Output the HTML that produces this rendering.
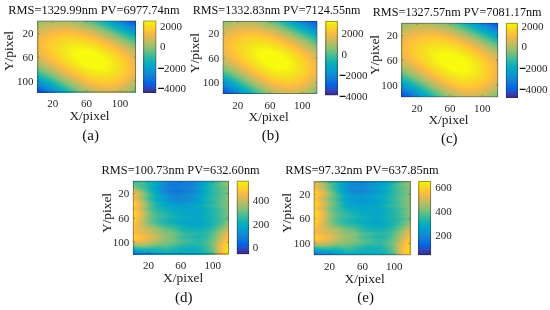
<!DOCTYPE html>
<html><head><meta charset="utf-8"><title>Figure</title>
<style>
html,body{margin:0;padding:0;background:#fff}
#fig{position:relative;width:550px;height:310px;overflow:hidden;background:#fff;font-family:"Liberation Serif",serif}
.hm{position:absolute;display:flex;flex-direction:column}
.hm i{display:block;flex:1 1 0;min-height:0}
.cb{position:absolute}
svg{position:absolute;left:0;top:0}
text{font-family:"Liberation Serif",serif;fill:#262626}
.ti{font-size:12.40px;fill:#111}
.tk{font-size:11.00px}
.lb{font-size:13.40px;fill:#1a1a1a}
.pn{font-size:15.00px;fill:#111}
.mn{font-weight:bold;fill:#000;stroke:#000;stroke-width:.7}
.bx{fill:none;stroke:#262626;stroke-opacity:.45;stroke-width:1}
</style></head><body><div id="fig">

<div class="hm" style="left:37.30px;top:20.50px;width:98.70px;height:71.90px"><i style="background:linear-gradient(90deg,#8abf76,#91bf73,#98bf70,#9ebe6e,#a3be6c,#a7be6a,#aabe69,#acbe68,#adbe67,#aebe67,#adbe67,#acbe68,#a9be69,#a6be6b,#a1be6c,#9bbf6f,#94bf72,#8bbf75,#81bf7a,#75bf7f,#67be85,#58bd8c,#49bb94,#39b99d,#2bb6a6,#1eb3ae,#12afb7,#09abbf,#06a7c6,#06a1cc,#089ad0,#0e91d2,#1388d3,#1480d6,#117ada,#0a73dd,#046ce0,#0364e1,#1559da,#284dca)"></i><i style="background:linear-gradient(90deg,#93bf72,#9abf6f,#a0be6d,#a6be6b,#abbe69,#afbe67,#b2bd66,#b4bd65,#b6bd64,#b6bd64,#b6bd64,#b4bd65,#b2bd66,#afbe67,#aabe69,#a5be6b,#9ebe6d,#96bf71,#8dbf75,#82bf79,#75bf7e,#67be85,#57bd8c,#47bb95,#37b99e,#29b6a7,#1bb2b0,#10afb8,#08aac0,#06a5c8,#06a0cd,#0998d1,#0f8fd2,#1487d3,#137fd7,#1079da,#0a72de,#036be0,#0364e1,#1459db)"></i><i style="background:linear-gradient(90deg,#9bbf6f,#a2be6c,#a8be6a,#adbe67,#b2bd66,#b6bd64,#b9bd63,#bcbd62,#bdbc61,#bebc61,#bebc61,#bdbd61,#bbbd62,#b8bd63,#b4bd65,#afbe67,#a8be69,#a1be6c,#98bf70,#8ebf74,#83bf79,#75bf7e,#66be85,#55bd8d,#45bb96,#35b8a0,#26b5a9,#19b2b2,#0eaeba,#07a9c2,#06a4c9,#069ece,#0a97d1,#118ed2,#1485d4,#137ed7,#0f78db,#0972de,#036be0,#0364e1)"></i><i style="background:linear-gradient(90deg,#a3be6c,#a9be69,#afbe67,#b5bd65,#babd63,#bebc61,#c1bc60,#c3bc5f,#c5bc5e,#c6bc5e,#c6bc5e,#c5bc5e,#c3bc5f,#c0bc60,#bdbd61,#b8bd63,#b2bd66,#abbe68,#a3be6c,#9abf6f,#8fbf74,#83bf79,#75bf7f,#65be86,#53bd8e,#42bb98,#32b8a1,#24b5aa,#17b1b3,#0cadbc,#06a9c3,#06a3ca,#079dcf,#0b95d2,#118cd2,#1484d4,#137ed7,#0f77db,#0971de,#036be0)"></i><i style="background:linear-gradient(90deg,#aabe69,#b1bd66,#b7bd64,#bcbd62,#c1bc60,#c5bc5e,#c8bc5d,#cabb5c,#ccbb5b,#cdbb5b,#cdbb5b,#cdbb5b,#cbbb5b,#c9bc5c,#c5bc5e,#c1bc60,#bcbd62,#b5bd64,#aebe67,#a5be6b,#9bbf6f,#90bf73,#82bf79,#74bf7f,#63be87,#51bd8f,#40ba99,#30b7a3,#21b4ac,#15b0b5,#0aacbd,#06a8c5,#06a2cb,#079cd0,#0c94d2,#128bd2,#1484d4,#137dd8,#0f77db,#0972de)"></i><i style="background:linear-gradient(90deg,#b1bd66,#b8bd63,#bdbc61,#c3bc5f,#c7bc5d,#cbbb5b,#cfbb5a,#d1bb59,#d3bb58,#d5bb58,#d5ba57,#d4bb58,#d3bb58,#d1bb59,#cebb5a,#cabb5c,#c5bc5e,#bfbc61,#b8bd63,#afbe67,#a6be6a,#9cbf6f,#90bf73,#82bf79,#72bf80,#61be88,#4fbc91,#3dba9a,#2db7a4,#1fb3ae,#13b0b6,#09abbe,#06a7c6,#06a1cc,#089bd0,#0d93d2,#128ad3,#1483d5,#137dd8,#0f78db)"></i><i style="background:linear-gradient(90deg,#b8bd63,#bebc61,#c4bc5f,#c9bc5c,#cebb5a,#d2bb59,#d5ba57,#d8ba56,#daba55,#dbba55,#dcba54,#dcba54,#dbba55,#d9ba56,#d6ba57,#d2bb59,#cdbb5b,#c8bc5d,#c1bc60,#babd63,#b1bd66,#a7be6a,#9cbf6e,#8fbf74,#81bf7a,#71bf80,#5fbe89,#4cbc92,#3bb99c,#2bb6a6,#1db3af,#11afb8,#08abc0,#06a6c7,#06a1cd,#089ad0,#0d92d2,#138ad3,#1483d5,#137dd7)"></i><i style="background:linear-gradient(90deg,#bebc61,#c4bc5e,#cabb5c,#cfbb5a,#d4bb58,#d8ba56,#dcba54,#dfba53,#e1ba52,#e2b951,#e3b951,#e3b951,#e2b952,#e0ba52,#deba54,#daba55,#d6ba57,#d1bb59,#cabb5c,#c3bc5f,#bbbd62,#b2bd66,#a7be6a,#9cbf6f,#8ebf74,#7fbf7a,#6fbf81,#5cbe8a,#4abc94,#38b99e,#29b6a7,#1bb2b0,#0faeb9,#08aac1,#06a5c8,#06a0cd,#0899d1,#0e91d2,#138ad3,#1483d5)"></i><i style="background:linear-gradient(90deg,#c4bc5e,#cabb5c,#d0bb5a,#d5ba57,#daba55,#deba53,#e2b952,#e5b950,#e7b94f,#e9b94e,#eab94e,#eab94e,#e9b94e,#e8b94f,#e5b950,#e2b951,#deba53,#d9ba56,#d3bb58,#ccbb5b,#c5bc5e,#bcbd62,#b2bd66,#a7be6a,#9bbf6f,#8dbf74,#7ebf7b,#6cbf82,#5abd8b,#47bb95,#36b99f,#26b5a9,#19b2b2,#0eaeba,#07a9c2,#06a5c8,#069fce,#0899d1,#0e91d2,#138ad3)"></i><i style="background:linear-gradient(90deg,#cabb5c,#d0bb5a,#d5ba57,#daba55,#dfba53,#e4b951,#e7b94f,#ebb94d,#edb94c,#efb94b,#f0b94a,#f0b94a,#f0b94a,#efb94b,#edb94c,#eab94e,#e6b950,#e1b952,#dcba54,#d5ba57,#cebb5a,#c6bc5e,#bdbd61,#b2bd66,#a7be6a,#9abf6f,#8cbf75,#7cbf7c,#6abe84,#57bd8d,#44bb97,#33b8a1,#24b5aa,#17b1b3,#0cadbb,#07a9c3,#06a4c9,#069fce,#0999d1,#0e91d2)"></i><i style="background:linear-gradient(90deg,#cfbb5a,#d5ba57,#daba55,#e0ba53,#e5b950,#e9b94e,#edb94c,#f0b94a,#f3b948,#f5ba47,#f6ba46,#f6ba45,#f6ba46,#f5ba46,#f4ba48,#f1b949,#eeb94b,#e9b94e,#e4b950,#deba53,#d7ba56,#cfbb5a,#c7bc5d,#bdbd61,#b2bd66,#a6be6a,#99bf70,#8abf76,#79bf7d,#67be85,#54bd8e,#41ba98,#31b8a2,#22b4ac,#15b1b4,#0badbc,#06a9c3,#06a4c9,#069fce,#0899d1)"></i><i style="background:linear-gradient(90deg,#d4bb58,#daba55,#dfba53,#e5b950,#eab94e,#eeb94b,#f2b949,#f5ba46,#f8ba44,#fabb42,#fbbc41,#fbbc40,#fbbc40,#fbbc41,#fabb42,#f8ba44,#f5ba47,#f1b949,#ecb94c,#e7b94f,#e0ba53,#d8ba56,#d0bb59,#c7bc5d,#bdbd61,#b1bd66,#a5be6b,#97bf70,#88bf77,#77bf7e,#64be86,#51bc90,#3fba9a,#2eb7a4,#20b4ad,#14b0b5,#0bacbd,#06a8c4,#06a4ca,#069fce)"></i><i style="background:linear-gradient(90deg,#d8ba56,#deba53,#e4b951,#e9b94e,#eeb94b,#f3ba48,#f7ba45,#fabb42,#fcbd40,#fdbe3e,#febf3c,#fec03c,#fec03b,#febf3c,#febf3d,#fdbd3e,#fbbc41,#f8ba44,#f4ba47,#efb94b,#e8b94e,#e1b952,#d9ba56,#d0bb59,#c7bc5d,#bcbd62,#b0bd66,#a3be6b,#95bf71,#86bf78,#74bf7f,#61be87,#4ebc91,#3cba9b,#2cb7a5,#1eb3ae,#13b0b6,#0aacbe,#06a8c4,#06a4ca)"></i><i style="background:linear-gradient(90deg,#dcba54,#e2b951,#e8b94f,#eeb94c,#f3b948,#f7ba45,#fabc41,#fdbe3e,#febf3c,#fec13a,#ffc238,#ffc337,#ffc437,#ffc337,#ffc338,#fec239,#fec03b,#fdbe3e,#fabc42,#f6ba46,#f1b94a,#eab94e,#e2b952,#daba55,#d0bb59,#c6bc5e,#bbbd62,#afbe67,#a2be6c,#93bf72,#83bf79,#71bf80,#5ebe89,#4bbc93,#3ab99d,#2ab6a6,#1db3af,#12afb7,#0aacbe,#06a8c4)"></i><i style="background:linear-gradient(90deg,#e0ba52,#e6b950,#ecb94c,#f2b949,#f6ba45,#fabc42,#fdbe3e,#fec03b,#ffc338,#ffc436,#fec635,#fec734,#fec733,#fec733,#fec734,#fec635,#ffc436,#fec238,#febf3c,#fcbd40,#f8ba44,#f2b949,#ebb94d,#e3b951,#daba55,#d0bb5a,#c5bc5e,#babd63,#adbe68,#a0be6d,#91bf73,#80bf7a,#6ebf81,#5bbd8a,#48bb94,#37b99e,#29b6a7,#1cb3b0,#11afb7,#09acbe)"></i><i style="background:linear-gradient(90deg,#e3b951,#eab94e,#efb94a,#f5ba47,#f9bb42,#fdbe3e,#fec03a,#ffc337,#fec635,#fec833,#fec932,#fdca31,#fdcb30,#fdcb30,#fdcb30,#fdca31,#fec932,#fec734,#ffc436,#fec13a,#fdbe3e,#f9bb43,#f3b948,#ebb94d,#e3b951,#d9ba56,#cfbb5a,#c4bc5e,#b8bd63,#abbe68,#9dbe6e,#8ebf74,#7dbf7b,#6bbe83,#58bd8c,#46bb96,#35b89f,#27b5a8,#1bb2b0,#11afb8)"></i><i style="background:linear-gradient(90deg,#e7b94f,#edb94c,#f3b948,#f8ba44,#fcbd40,#fec03b,#ffc338,#fec635,#fec832,#fdcb30,#fccc2f,#fcce2e,#fcce2d,#fbcf2d,#fccf2d,#fcce2e,#fccd2f,#fdcb30,#fec932,#fec635,#ffc238,#febf3d,#fabb42,#f3ba48,#ebb94d,#e2b951,#d8ba56,#cebb5a,#c3bc5f,#b6bd64,#a9be69,#9bbf6f,#8bbf75,#7abf7c,#68be84,#55bd8e,#43bb97,#33b8a0,#26b5a9,#1ab2b1)"></i><i style="background:linear-gradient(90deg,#e9b94e,#f0b94a,#f5ba46,#fabc42,#febe3d,#fec239,#fec535,#fec832,#fdcb30,#fccd2e,#fbcf2d,#fbd12b,#fad22b,#fad22a,#fad22a,#fad22b,#fbd12b,#fbcf2d,#fccd2e,#fdca31,#fec733,#ffc337,#febf3c,#fabc42,#f3ba48,#ebb94d,#e1b952,#d7ba56,#ccbb5b,#c1bc60,#b4bd65,#a7be6a,#98bf70,#88bf76,#77bf7e,#65be86,#52bd8f,#41ba98,#32b8a2,#25b5aa)"></i><i style="background:linear-gradient(90deg,#ecb94d,#f2b949,#f8ba44,#fcbd3f,#fec03b,#ffc437,#fec733,#fdcb30,#fccd2e,#fbd02c,#fad22a,#f9d429,#f9d528,#f8d628,#f8d628,#f9d528,#f9d528,#fad32a,#fad12b,#fbcf2d,#fdcc2f,#fec832,#ffc436,#fec03b,#fabc42,#f3ba48,#eab94e,#e0ba52,#d6ba57,#cbbb5c,#bfbc61,#b2bd66,#a4be6b,#95bf71,#85bf78,#74bf7f,#61be87,#4fbc91,#3fba9a,#30b7a2)"></i><i style="background:linear-gradient(90deg,#eeb94b,#f4ba47,#f9bb43,#fdbe3d,#fec239,#fec635,#fec931,#fccd2f,#fbd02c,#fad22a,#f9d428,#f8d627,#f8d826,#f7d925,#f7d925,#f7d925,#f7d826,#f8d727,#f9d528,#fad32a,#fbd02c,#fccd2f,#fec932,#ffc436,#fec03b,#fabc42,#f2b949,#e9b94e,#dfba53,#d4bb58,#c8bc5d,#bcbd62,#afbe67,#a1be6c,#92bf72,#82bf79,#70bf80,#5ebe89,#4dbc92,#3dba9b)"></i><i style="background:linear-gradient(90deg,#efb94a,#f5ba46,#fabc41,#febf3c,#ffc337,#fec733,#fdcb30,#fcce2d,#fad12b,#f9d429,#f8d727,#f7d925,#f7db24,#f6dc23,#f6dc23,#f6dc23,#f6dc23,#f6db24,#f7d925,#f8d727,#f9d429,#fad12b,#fccd2e,#fec932,#ffc436,#febf3c,#f9bb43,#f1b949,#e7b94f,#ddba54,#d2bb59,#c6bc5e,#b9bd63,#acbe68,#9ebe6e,#8fbf74,#7ebf7b,#6dbf82,#5bbd8a,#4abc93)"></i><i style="background:linear-gradient(90deg,#f1b94a,#f7ba45,#fbbd40,#fec03b,#ffc436,#fec832,#fccc2f,#fbd02c,#f9d329,#f8d627,#f7d925,#f6db23,#f6dd22,#f5df21,#f5df20,#f5e020,#f5df20,#f5de21,#f6dd22,#f6db24,#f7d826,#f9d528,#fad22b,#fcce2e,#fec932,#ffc436,#febf3c,#f8bb44,#f0b94a,#e5b950,#dbba55,#cfbb5a,#c3bc5f,#b6bd64,#a9be69,#9bbf6f,#8bbf75,#7bbf7c,#69be84,#58bd8c)"></i><i style="background:linear-gradient(90deg,#f1b949,#f8ba45,#fcbd3f,#fec13a,#fec535,#fdca31,#fcce2e,#fad12b,#f9d528,#f7d826,#f6db24,#f6dd22,#f5e020,#f5e11f,#f5e21e,#f5e31e,#f5e31e,#f5e21e,#f5e11f,#f5df21,#f6dc23,#f7d925,#f8d627,#fad22a,#fcce2e,#fec932,#ffc437,#fdbe3d,#f7ba45,#eeb94c,#e3b951,#d8ba56,#ccbb5b,#c0bc60,#b3bd65,#a5be6b,#97bf70,#87bf77,#77bf7e,#66be85)"></i><i style="background:linear-gradient(90deg,#f2b949,#f8ba44,#fdbe3e,#fec239,#fec634,#fdca31,#fcce2d,#fad22a,#f8d627,#f7d925,#f6dd22,#f5df20,#f5e21e,#f5e41d,#f5e51c,#f5e61b,#f5e61b,#f5e61c,#f5e51d,#f5e31e,#f5e020,#f6dd22,#f7da24,#f8d627,#fad22a,#fccd2e,#fec832,#ffc338,#fcbd3f,#f5ba47,#ebb94d,#e0ba52,#d5ba57,#c9bc5c,#bdbd61,#b0be67,#a2be6c,#93bf72,#84bf78,#73bf7f)"></i><i style="background:linear-gradient(90deg,#f2b949,#f8bb44,#fdbe3e,#fec239,#fec634,#fdcb30,#fbcf2d,#fad329,#f8d727,#f7db24,#f5de21,#f5e11f,#f5e41d,#f5e61b,#f5e81a,#f5e919,#f5ea19,#f5e919,#f5e81a,#f5e71b,#f5e41d,#f5e21f,#f5de21,#f7da24,#f8d627,#fad22b,#fccd2f,#fec733,#fec239,#fbbc41,#f3b948,#e8b94e,#ddba54,#d2bb59,#c6bc5e,#b9bd63,#acbe68,#9ebe6e,#8fbf74,#80bf7a)"></i><i style="background:linear-gradient(90deg,#f2b949,#f8ba44,#fdbe3e,#fec239,#fec734,#fdcb30,#fbd02c,#f9d429,#f7d826,#f6dc23,#f5df20,#f5e31e,#f5e61c,#f5e91a,#f5eb19,#f5ec18,#f5ed17,#f5ed17,#f5ec18,#f5eb19,#f5e81a,#f5e61c,#f5e21e,#f5de21,#f7da24,#f8d627,#fad12b,#fdcc2f,#fec634,#fec03b,#f9bb43,#f0b94a,#e5b950,#daba55,#cebb5a,#c2bc5f,#b5bd64,#a8be6a,#9abf6f,#8bbf75)"></i><i style="background:linear-gradient(90deg,#f1b949,#f8ba45,#fcbd3f,#fec239,#fec734,#fdcb30,#fbd02c,#f9d429,#f7d826,#f6dc23,#f5e020,#f5e41d,#f5e81b,#f5ea19,#f5ed17,#f6ef16,#f6f015,#f6f015,#f6f015,#f5ee16,#f5ec17,#f5ea19,#f5e61b,#f5e31e,#f5de21,#f7da24,#f9d528,#fbd02c,#fdca31,#ffc436,#fdbe3d,#f7ba45,#edb94c,#e2b952,#d6ba57,#cabb5c,#bebc61,#b1bd66,#a3be6c,#95bf71)"></i><i style="background:linear-gradient(90deg,#f0b94a,#f7ba45,#fcbd3f,#fec139,#fec634,#fdcb30,#fbd02c,#f9d429,#f7d925,#f6dd22,#f5e11f,#f5e51c,#f5e91a,#f5ec18,#f6ef16,#f6f114,#f6f213,#f6f313,#f6f313,#f6f214,#f6f015,#f5ee17,#f5ea19,#f5e71b,#f5e21e,#f6de22,#f7d925,#f9d429,#fcce2d,#fec932,#ffc338,#fcbd40,#f3ba48,#e9b94e,#deba54,#d2bb59,#c6bc5e,#b9bd63,#acbe68,#9ebe6d)"></i><i style="background:linear-gradient(90deg,#eeb94b,#f5ba46,#fbbc40,#fec13a,#fec635,#fdcb30,#fbcf2c,#f9d429,#f7d925,#f6dd22,#f5e21f,#f5e61c,#f5ea19,#f5ed17,#f6f015,#f6f313,#f7f512,#f7f611,#f7f611,#f7f512,#f7f413,#f6f114,#f5ee16,#f5ea19,#f5e61b,#f5e21f,#f6dd22,#f8d826,#fad22a,#fccd2f,#fec734,#fec03b,#f9bb43,#f0b94a,#e5b950,#d9ba56,#cdbb5b,#c1bc60,#b4bd65,#a7be6a)"></i><i style="background:linear-gradient(90deg,#edb94c,#f4ba47,#fabc42,#fec03b,#fec536,#fdca31,#fbcf2d,#f9d429,#f7d826,#f6dd22,#f5e21f,#f5e61c,#f5ea19,#f5ee16,#f6f214,#f7f512,#f8f710,#f8f810,#f8f80f,#f8f80f,#f8f710,#f7f512,#f6f214,#f5ee16,#f5ea19,#f5e51c,#f5e120,#f6db23,#f8d627,#fbd02c,#fdcb30,#ffc436,#fdbe3e,#f6ba46,#ebb94d,#e0ba53,#d4bb58,#c8bc5d,#bcbd62,#afbe67)"></i><i style="background:linear-gradient(90deg,#eab94d,#f2b949,#f9bb43,#febf3d,#ffc437,#fec932,#fcce2e,#fad32a,#f7d826,#f6dd22,#f5e11f,#f5e61b,#f5eb18,#f6ef16,#f6f313,#f7f611,#f8f80f,#f9fa0e,#f9fb0e,#f9fb0e,#f9fa0e,#f8f810,#f7f511,#f6f214,#f5ee16,#f5e919,#f5e41d,#f5df21,#f7da25,#f9d429,#fcce2d,#fec832,#fec239,#fabc41,#f1b949,#e6b94f,#dbba55,#cfbb5a,#c3bc5f,#b6bd64)"></i><i style="background:linear-gradient(90deg,#e7b94f,#efb94b,#f7ba45,#fcbd3f,#ffc238,#fec833,#fccd2e,#fad22a,#f8d727,#f6dc23,#f5e11f,#f5e61c,#f5eb18,#f6ef15,#f7f313,#f8f710,#f9fa0e,#f9fb0e,#f9fb0e,#f9fb0e,#f9fb0e,#f9fb0e,#f8f90f,#f7f511,#f6f114,#f5ed17,#f5e81a,#f5e21e,#f6dd22,#f8d726,#fad22b,#fdcc2f,#fec535,#febf3c,#f7ba45,#ecb94c,#e1b952,#d5ba57,#c9bb5c,#bdbd61)"></i><i style="background:linear-gradient(90deg,#e4b950,#ecb94c,#f4ba47,#fbbc41,#fec13a,#fec634,#fdcc30,#fbd12b,#f8d627,#f6db24,#f5e020,#f5e51c,#f5ea19,#f6ef16,#f7f313,#f8f710,#f9fa0e,#f9fb0e,#f9fb0e,#f9fb0e,#f9fb0e,#f9fb0e,#f9fb0e,#f8f80f,#f7f512,#f6f015,#f5eb18,#f5e61c,#f5e020,#f7db24,#f9d528,#fbcf2d,#fec932,#fec238,#fbbc41,#f2b949,#e7b94f,#dbba55,#cfbb5a,#c3bc5f)"></i><i style="background:linear-gradient(90deg,#e1ba52,#e9b94e,#f1b94a,#f9bb44,#febf3c,#ffc436,#fdca31,#fbcf2c,#f9d528,#f7da24,#f5df21,#f5e41d,#f5ea19,#f6ef16,#f7f313,#f8f710,#f9fb0e,#f9fb0e,#f9fb0e,#f9fb0e,#f9fb0e,#f9fb0e,#f9fb0e,#f9fb0e,#f8f810,#f7f313,#f5ee16,#f5e91a,#f5e31d,#f6de22,#f7d826,#fad22a,#fdcc2f,#fec535,#febf3d,#f7ba45,#ecb94c,#e1ba52,#d5ba57,#c9bc5c)"></i><i style="background:linear-gradient(90deg,#ddba54,#e5b950,#edb94c,#f6ba46,#fcbd3f,#ffc238,#fec833,#fcce2e,#fad32a,#f7d826,#f6de22,#f5e31e,#f5e91a,#f5ee16,#f6f313,#f8f710,#f9fb0e,#f9fb0e,#f9fb0e,#f9fb0e,#f9fb0e,#f9fb0e,#f9fb0e,#f9fb0e,#f9fa0e,#f8f611,#f6f114,#f5ec18,#f5e61b,#f5e11f,#f6db24,#f9d528,#fbcf2d,#fec832,#fec239,#fabc41,#f1b94a,#e6b950,#daba55,#cebb5a)"></i><i style="background:linear-gradient(90deg,#d8ba56,#e0ba52,#e9b94e,#f2b949,#fabb42,#fec03b,#fec635,#fdcc2f,#fad12b,#f8d727,#f6dc23,#f5e21f,#f5e71b,#f5ed17,#f6f214,#f8f711,#f9fb0e,#f9fb0e,#f9fb0e,#f9fb0e,#f9fb0e,#f9fb0e,#f9fb0e,#f9fb0e,#f9fb0e,#f8f90f,#f7f412,#f6ef16,#f5e919,#f5e31d,#f6dd22,#f8d726,#fad12b,#fdcb30,#ffc436,#fdbe3e,#f5ba46,#eab94d,#dfba53,#d3bb58)"></i><i style="background:linear-gradient(90deg,#d3bb58,#dcba54,#e5b950,#eeb94b,#f6ba45,#fdbe3e,#ffc337,#fec931,#fbcf2d,#f9d528,#f7da24,#f5e020,#f5e51c,#f5eb18,#f6f015,#f7f511,#f9fa0e,#f9fb0e,#f9fb0e,#f9fb0e,#f9fb0e,#f9fb0e,#f9fb0e,#f9fb0e,#f9fb0e,#f9fb0e,#f8f611,#f6f114,#f5ec18,#f5e61c,#f5e020,#f7da24,#f9d429,#fcce2e,#fec733,#fec03b,#f9bb43,#eeb94b,#e3b951,#d7ba56)"></i><i style="background:linear-gradient(90deg,#cebb5a,#d7ba57,#e0ba53,#e9b94e,#f2b949,#fabc42,#fec13a,#fec734,#fccd2e,#fad32a,#f7d826,#f6de22,#f5e31d,#f5e919,#f6ef16,#f7f412,#f8f90f,#f9fb0e,#f9fb0e,#f9fb0e,#f9fb0e,#f9fb0e,#f9fb0e,#f9fb0e,#f9fb0e,#f9fb0e,#f8f80f,#f7f313,#f5ee16,#f5e81a,#f5e21e,#f6dc23,#f8d627,#fbd02c,#fec931,#ffc338,#fbbc40,#f2b949,#e7b94f,#dbba55)"></i><i style="background:linear-gradient(90deg,#c8bc5d,#d1bb59,#daba55,#e4b951,#edb94c,#f7ba45,#fdbe3d,#ffc436,#fdca31,#fbd02c,#f8d627,#f6dc23,#f5e11f,#f5e71b,#f5ed17,#f6f214,#f8f710,#f9fb0e,#f9fb0e,#f9fb0e,#f9fb0e,#f9fb0e,#f9fb0e,#f9fb0e,#f9fb0e,#f9fb0e,#f9fa0e,#f7f511,#f6f015,#f5ea19,#f5e41d,#f5de21,#f7d826,#fad22b,#fdcb30,#fec536,#fdbe3e,#f5ba46,#eab94e,#deba53)"></i><i style="background:linear-gradient(90deg,#c1bc5f,#cbbb5c,#d4bb58,#deba53,#e8b94f,#f2b949,#fabc42,#fec13a,#fec733,#fccd2e,#f9d329,#f7d925,#f5df21,#f5e51d,#f5ea19,#f6f015,#f7f511,#f9fa0e,#f9fb0e,#f9fb0e,#f9fb0e,#f9fb0e,#f9fb0e,#f9fb0e,#f9fb0e,#f9fb0e,#f9fb0e,#f8f710,#f6f214,#f5ec18,#f5e61c,#f5e020,#f7da25,#f9d429,#fccd2e,#fec734,#fec03b,#f8ba44,#edb94c,#e1b952)"></i><i style="background:linear-gradient(90deg,#babd62,#c4bc5e,#cebb5a,#d8ba56,#e2b951,#edb94c,#f6ba46,#fdbe3d,#ffc436,#fdcb30,#fbd12b,#f8d627,#f6dc23,#f5e21e,#f5e81a,#f5ee16,#f6f313,#f8f810,#f9fb0e,#f9fb0e,#f9fb0e,#f9fb0e,#f9fb0e,#f9fb0e,#f9fb0e,#f9fb0e,#f9fb0e,#f8f810,#f6f313,#f5ed17,#f5e71b,#f5e11f,#f6db24,#f9d528,#fbcf2d,#fec832,#fec13a,#fabb42,#efb94a,#e4b951)"></i><i style="background:linear-gradient(90deg,#b3bd65,#bdbd61,#c7bc5d,#d2bb59,#dcba54,#e7b94f,#f1b94a,#fabc42,#fec13a,#fec733,#fcce2e,#f9d429,#f7d925,#f5df20,#f5e51c,#f5eb18,#f6f015,#f7f611,#f9fa0e,#f9fb0e,#f9fb0e,#f9fb0e,#f9fb0e,#f9fb0e,#f9fb0e,#f9fb0e,#f9fb0e,#f8f80f,#f7f413,#f5ee16,#f5e81a,#f5e21e,#f6dc23,#f8d627,#fbd02c,#fec931,#ffc238,#fbbc41,#f2b949,#e6b950)"></i><i style="background:linear-gradient(90deg,#abbe68,#b5bd64,#c0bc60,#cbbb5c,#d6ba57,#e0ba52,#ebb94d,#f5ba46,#fdbe3e,#ffc436,#fdca30,#fbd12b,#f8d727,#f6dc23,#f5e21e,#f5e81a,#f5ee16,#f6f313,#f8f810,#f9fb0e,#f9fb0e,#f9fb0e,#f9fb0e,#f9fb0e,#f9fb0e,#f9fb0e,#f9fb0e,#f8f90f,#f7f412,#f6ef16,#f5e919,#f5e31e,#f6dd22,#f8d727,#fbd12b,#fdca30,#ffc437,#fcbd3f,#f3ba48,#e8b94f)"></i><i style="background:linear-gradient(90deg,#a2be6c,#adbe68,#b8bd63,#c3bc5f,#cfbb5a,#daba55,#e5b950,#f0b94a,#f9bb43,#fec03a,#fec734,#fccd2e,#f9d329,#f7d925,#f5df21,#f5e51c,#f5ea19,#f6f015,#f7f512,#f8f90f,#f9fb0e,#f9fb0e,#f9fb0e,#f9fb0e,#f9fb0e,#f9fb0e,#f9fb0e,#f8f80f,#f7f412,#f6ef16,#f5ea19,#f5e41d,#f6de22,#f8d826,#fad22b,#fdcb30,#ffc436,#fdbe3e,#f4ba47,#e9b94e)"></i><i style="background:linear-gradient(90deg,#99bf70,#a4be6b,#b0bd67,#bcbd62,#c7bc5d,#d3bb58,#deba53,#e9b94e,#f4ba47,#fcbd3f,#ffc337,#fdca31,#fbd02c,#f8d627,#f6dc23,#f5e21f,#f5e71b,#f5ed17,#f6f214,#f7f611,#f9fa0e,#f9fb0e,#f9fb0e,#f9fb0e,#f9fb0e,#f9fb0e,#f9fb0e,#f8f810,#f7f412,#f6ef16,#f5ea19,#f5e41d,#f5de21,#f7d826,#fad22a,#fdcc2f,#fec536,#fdbe3e,#f5ba47,#eab94e)"></i><i style="background:linear-gradient(90deg,#8ebf74,#9abf6f,#a7be6a,#b3bd65,#bfbc60,#cbbb5c,#d7ba57,#e2b951,#eeb94c,#f8ba44,#fec03c,#fec634,#fccd2f,#fad32a,#f7d825,#f5de21,#f5e41d,#f5e919,#f5ee16,#f6f313,#f8f710,#f9fa0e,#f9fb0e,#f9fb0e,#f9fb0e,#f9fb0e,#f9fa0e,#f8f710,#f7f313,#f5ef16,#f5e919,#f5e41d,#f5de21,#f7d826,#fad22a,#fdcc2f,#fec535,#fdbe3d,#f5ba46,#eab94e)"></i><i style="background:linear-gradient(90deg,#83bf79,#90bf73,#9dbe6e,#aabe69,#b7bd64,#c3bc5f,#cfbb5a,#dbba55,#e7b94f,#f2b949,#fbbc41,#fec238,#fec932,#fbcf2d,#f9d528,#f7db24,#f5e020,#f5e61c,#f5eb18,#f6f015,#f7f313,#f8f710,#f8f90f,#f9fa0e,#f9fb0e,#f9fa0e,#f8f80f,#f7f611,#f6f214,#f5ee16,#f5e91a,#f5e31d,#f6de22,#f7d826,#fad22a,#fdcc2f,#fec535,#fdbe3d,#f5ba46,#eab94e)"></i><i style="background:linear-gradient(90deg,#76bf7e,#84bf78,#92bf72,#a0be6d,#adbe67,#babd62,#c7bc5d,#d3bb58,#dfba53,#ebb94d,#f6ba46,#fdbe3d,#fec536,#fdcb30,#fad12b,#f8d726,#f6dd22,#f5e21e,#f5e71b,#f5ec18,#f6f015,#f7f313,#f7f611,#f8f810,#f8f80f,#f8f810,#f8f611,#f7f412,#f6f115,#f5ed17,#f5e81a,#f5e31e,#f6dd22,#f8d826,#fad22b,#fdcc30,#fec536,#fdbe3d,#f5ba46,#eab94e)"></i><i style="background:linear-gradient(90deg,#69be84,#78bf7d,#87bf77,#95bf71,#a4be6b,#b1bd66,#bfbc61,#cbbb5b,#d8ba56,#e4b951,#efb94b,#f9bb43,#fec13a,#fec733,#fcce2e,#f9d329,#f7d925,#f5de21,#f5e31d,#f5e81a,#f5ec17,#f6f015,#f6f313,#f7f512,#f7f511,#f7f511,#f7f412,#f6f214,#f6ef16,#f5eb18,#f5e71b,#f5e21f,#f6dc23,#f8d727,#fad12b,#fdcb30,#ffc436,#fdbe3e,#f4ba47,#e9b94e)"></i><i style="background:linear-gradient(90deg,#5bbd8b,#6abe83,#7abf7c,#8abf76,#99bf70,#a7be6a,#b5bd64,#c3bc5f,#d0bb5a,#dcba54,#e8b94f,#f3ba48,#fcbd3f,#ffc337,#fdca31,#fbd02c,#f9d528,#f7db24,#f5e020,#f5e41d,#f5e91a,#f5ec17,#f6ef15,#f6f114,#f6f213,#f6f213,#f6f214,#f6f015,#f5ed17,#f5e919,#f5e51c,#f5e020,#f6db23,#f8d627,#fbd02c,#fdca31,#ffc437,#fcbd3f,#f3ba48,#e8b94f)"></i><i style="background:linear-gradient(90deg,#4cbc92,#5cbe8a,#6cbf82,#7dbf7b,#8dbf74,#9dbe6e,#acbe68,#babd63,#c7bc5d,#d4bb58,#e0ba52,#ecb94c,#f7ba45,#febf3c,#fec535,#fdcc2f,#fad12b,#f8d727,#f6dc23,#f5e020,#f5e51d,#f5e81a,#f5eb18,#f5ee16,#f6ef16,#f6ef15,#f6ef16,#f5ed17,#f5eb19,#f5e71b,#f5e31d,#f5df21,#f7da24,#f9d528,#fbcf2d,#fec932,#ffc338,#fbbc40,#f2b949,#e6b950)"></i><i style="background:linear-gradient(90deg,#3eba9a,#4dbc92,#5ebe89,#6fbf81,#81bf7a,#92bf73,#a1be6c,#b0bd66,#bebc61,#ccbb5b,#d8ba56,#e4b950,#f0b94a,#fabb42,#fec13a,#fec733,#fccd2e,#fad32a,#f7d826,#f6dc22,#f5e11f,#f5e41d,#f5e81b,#f5ea19,#f5eb18,#f5ec18,#f5ec18,#f5ea19,#f5e81a,#f5e51c,#f5e11f,#f6dd22,#f7d825,#f9d329,#fcce2e,#fec833,#fec139,#fabc42,#f0b94a,#e4b951)"></i><i style="background:linear-gradient(90deg,#31b8a2,#3fba9a,#4fbc91,#61be88,#73bf7f,#85bf78,#96bf71,#a6be6b,#b5bd65,#c3bc5f,#d0bb5a,#dcba54,#e8b94e,#f4ba48,#fcbd3f,#ffc337,#fec932,#fbcf2d,#f9d429,#f7d925,#f6dd22,#f5e11f,#f5e41d,#f5e61c,#f5e81a,#f5e91a,#f5e81a,#f5e71b,#f5e51c,#f5e31e,#f5df21,#f6db23,#f8d727,#fad22b,#fccc2f,#fec634,#fec03b,#f8bb44,#eeb94c,#e1b952)"></i><i style="background:linear-gradient(90deg,#25b5a9,#32b8a2,#40ba99,#51bd8f,#64be86,#78bf7d,#8abf76,#9bbf6f,#aabe69,#b9bd63,#c7bc5d,#d4bb58,#e1ba52,#ecb94c,#f7ba45,#febf3d,#fec536,#fdcb30,#fbd02c,#f9d528,#f7d925,#f6dd22,#f5e020,#f5e21e,#f5e41d,#f5e51c,#f5e51c,#f5e41d,#f5e21e,#f5e020,#f6dd22,#f7d925,#f9d528,#fbd02c,#fdcb30,#ffc536,#fdbe3d,#f6ba46,#ebb94d,#dfba53)"></i><i style="background:linear-gradient(90deg,#1ab2b1,#25b5a9,#33b8a1,#43bb97,#55bd8d,#69be84,#7dbf7b,#8fbf74,#a0be6d,#afbe67,#bebc61,#cbbb5b,#d8ba56,#e4b950,#f0b94a,#f9bb43,#fec03b,#fec634,#fdcc2f,#fbd12b,#f9d528,#f7d925,#f6dc23,#f5de21,#f5e020,#f5e11f,#f5e21f,#f5e11f,#f5df20,#f6dd22,#f7da24,#f8d727,#fad32a,#fcce2e,#fec932,#ffc338,#fcbd40,#f3ba48,#e8b94f,#dbba55)"></i><i style="background:linear-gradient(90deg,#11afb8,#1bb2b1,#27b5a8,#35b89f,#46bb95,#5abd8b,#6ebf82,#82bf79,#94bf72,#a5be6b,#b4bd65,#c2bc5f,#d0bb5a,#dcba54,#e8b94f,#f3b948,#fbbc40,#fec239,#fec733,#fccc2f,#fbd12b,#f9d528,#f7d826,#f7db24,#f6dd22,#f6de22,#f5de21,#f6de22,#f6dc23,#f7da24,#f8d826,#f9d429,#fbd02c,#fdcc30,#fec634,#fec03b,#f9bb43,#f0b94a,#e4b950,#d8ba56)"></i><i style="background:linear-gradient(90deg,#09acbe,#11afb8,#1bb2b0,#29b6a7,#38b99e,#4abc93,#5fbe89,#74bf7f,#87bf77,#99bf70,#a9be69,#b9bd63,#c7bc5d,#d4bb58,#e0ba53,#ebb94d,#f5ba46,#fcbd3f,#ffc338,#fec832,#fccd2f,#fbd12b,#f9d429,#f8d727,#f7d925,#f7da24,#f7db24,#f7da24,#f7d925,#f8d726,#f9d528,#fad22b,#fcce2e,#fec932,#ffc437,#fdbe3d,#f6ba45,#ecb94c,#e0ba52,#d4bb58)"></i><i style="background:linear-gradient(90deg,#06a8c4,#09acbe,#12afb7,#1db3af,#2bb6a5,#3cba9b,#4fbc90,#65be86,#7abf7d,#8dbf75,#9ebe6d,#aebe67,#bdbd61,#cbbb5c,#d7ba56,#e3b951,#eeb94b,#f7ba45,#fdbe3d,#ffc437,#fec832,#fccd2f,#fbd02c,#fad32a,#f9d528,#f8d627,#f8d727,#f8d727,#f8d627,#f9d429,#fad22b,#fbcf2d,#fdcb30,#fec634,#fec13a,#fbbc41,#f3b948,#e8b94f,#dcba54,#d0bb5a)"></i><i style="background:linear-gradient(90deg,#06a4ca,#06a8c4,#0aacbe,#13b0b6,#20b4ad,#2fb7a3,#41ba99,#55bd8d,#6bbe83,#80bf7a,#93bf72,#a4be6b,#b3bd65,#c1bc5f,#cfbb5a,#dbba55,#e6b950,#f0b94a,#f9bb43,#febf3c,#ffc436,#fec832,#fdcc2f,#fbcf2d,#fad12b,#fad32a,#f9d329,#f9d329,#fad32a,#fad12b,#fbcf2d,#fdcc2f,#fec833,#ffc337,#fdbe3d,#f8ba44,#efb94b,#e4b951,#d8ba56,#cbbb5c)"></i><i style="background:linear-gradient(90deg,#069ece,#06a4ca,#06a8c4,#0bacbd,#15b0b4,#23b4ab,#33b8a1,#46bb96,#5bbe8a,#71bf80,#86bf77,#98bf70,#a9be69,#b8bd63,#c5bc5e,#d2bb59,#deba53,#e9b94e,#f2b949,#fabb42,#febf3c,#ffc437,#fec833,#fdcb30,#fccd2e,#fbcf2d,#fbd02c,#fbd02c,#fbcf2d,#fcce2e,#fdcb30,#fec832,#fec536,#fec03b,#fbbc41,#f4ba48,#eab94e,#dfba53,#d3bb58,#c6bc5e)"></i><i style="background:linear-gradient(90deg,#0998d1,#069ece,#06a4ca,#07a9c3,#0cadbb,#18b1b2,#27b5a9,#38b99e,#4cbc92,#62be87,#78bf7d,#8cbf75,#9dbe6e,#adbe67,#bcbd62,#c9bc5c,#d5ba57,#e0ba52,#ebb94d,#f3ba48,#fabc42,#febf3c,#ffc337,#fec634,#fec932,#fdcb30,#fdcc2f,#fdcc2f,#fdcb30,#fdca31,#fec833,#fec535,#fec139,#fdbd3e,#f7ba45,#efb94b,#e5b950,#daba55,#cebb5a,#c0bc60)"></i><i style="background:linear-gradient(90deg,#0e91d2,#0998d1,#069fce,#06a5c9,#07aac2,#0faeb9,#1bb2b0,#2bb6a6,#3eba9a,#53bd8f,#69be84,#7ebf7a,#92bf73,#a3be6c,#b2bd66,#c0bc60,#cdbb5b,#d8ba56,#e3b951,#ecb94c,#f4ba47,#fabc42,#febf3c,#fec239,#fec536,#fec734,#fec833,#fec832,#fec833,#fec634,#ffc436,#fec239,#fdbe3d,#f9bb43,#f2b949,#eab94e,#e0ba53,#d4bb58,#c8bc5d,#babd62)"></i><i style="background:linear-gradient(90deg,#1389d3,#0e91d2,#0999d1,#06a0cd,#06a6c7,#08abc0,#12afb7,#1fb4ad,#30b7a2,#44bb97,#5abd8b,#70bf81,#85bf78,#97bf70,#a7be6a,#b6bd64,#c3bc5f,#cfbb5a,#daba55,#e4b951,#edb94c,#f4ba47,#fabb42,#fdbe3e,#fec03b,#ffc238,#ffc437,#ffc436,#ffc437,#ffc338,#fec13a,#fdbe3d,#fabc42,#f5ba47,#edb94c,#e4b950,#daba55,#cfbb5a,#c2bc5f,#b4bd65)"></i><i style="background:linear-gradient(90deg,#1482d5,#1389d3,#0e91d2,#089ad0,#06a1cc,#06a7c6,#0aacbe,#15b1b4,#24b5aa,#36b99f,#4bbc93,#61be88,#77bf7e,#8bbf75,#9cbf6e,#acbe68,#babd62,#c6bc5d,#d2bb59,#dcba54,#e5b950,#edb94c,#f3ba48,#f8bb44,#fbbd40,#fdbe3d,#febf3c,#fec03b,#fec03b,#febf3c,#fcbd3f,#fabb42,#f5ba46,#efb94b,#e7b94f,#deba53,#d4bb58,#c9bc5d,#bcbd62,#adbe68)"></i><i style="background:linear-gradient(90deg,#127cd8,#1482d5,#138ad3,#0d93d2,#079bd0,#06a2cb,#06a8c4,#0dadbb,#19b2b1,#2ab6a7,#3dba9b,#52bd8f,#69be84,#7ebf7b,#91bf73,#a1be6c,#b0bd66,#bdbd61,#c9bc5c,#d4bb58,#ddba54,#e5b950,#ecb94c,#f2b949,#f6ba46,#f9bb43,#fbbc41,#fbbd40,#fbbc40,#fabc42,#f8bb44,#f5ba47,#f0b94a,#e9b94e,#e1b952,#d8ba56,#cebb5a,#c2bc5f,#b5bd64,#a6be6b)"></i><i style="background:linear-gradient(90deg,#0e76dc,#127cd8,#1483d5,#128bd2,#0c94d2,#079dcf,#06a4c9,#07aac1,#10afb8,#1eb3ae,#30b7a3,#43bb97,#59bd8b,#70bf81,#84bf78,#96bf71,#a6be6b,#b4bd65,#c0bc60,#cbbb5c,#d5ba57,#ddba54,#e5b950,#ebb94d,#efb94a,#f3ba48,#f5ba46,#f6ba46,#f6ba46,#f5ba47,#f3b948,#efb94b,#eab94e,#e3b951,#dbba55,#d2bb59,#c8bc5d,#bbbd62,#aebe67,#9ebe6e)"></i><i style="background:linear-gradient(90deg,#0870df,#0e76db,#137dd8,#1484d4,#118dd2,#0a97d1,#069fce,#06a6c7,#09abbf,#14b0b5,#24b5aa,#36b99f,#4bbc93,#61be88,#77bf7e,#8abf76,#9bbf6f,#aabe69,#b7bd64,#c2bc5f,#ccbb5b,#d5ba57,#ddba54,#e3b951,#e8b94f,#ecb94c,#efb94b,#f0b94a,#f0b94a,#efb94b,#ecb94c,#e8b94e,#e3b951,#ddba54,#d5ba57,#cbbb5b,#c1bc60,#b4bd65,#a6be6a,#96bf71)"></i><i style="background:linear-gradient(90deg,#026ae1,#0870df,#0f77db,#137ed7,#1486d4,#0f8fd2,#0899d1,#06a1cc,#06a8c4,#0cadbb,#19b2b1,#2ab6a6,#3dba9b,#52bd8f,#69be84,#7dbf7b,#8fbf74,#9fbe6d,#adbe68,#b9bd63,#c4bc5f,#cdbb5b,#d5ba57,#dbba55,#e1ba52,#e5b950,#e8b94f,#e9b94e,#e9b94e,#e8b94f,#e6b950,#e2b952,#ddba54,#d6ba57,#cebb5a,#c5bc5e,#babd63,#adbe68,#9ebe6e,#8dbf75)"></i><i style="background:linear-gradient(90deg,#0661e0,#026ae1,#0971de,#1078da,#1480d6,#1388d3,#0d92d2,#079cd0,#06a4ca,#07aac1,#10afb8,#1fb3ae,#30b8a2,#44bb96,#5abd8b,#70bf81,#83bf79,#94bf72,#a3be6c,#b0be67,#bbbd62,#c4bc5e,#cdbb5b,#d4bb58,#d9ba56,#ddba54,#e0ba52,#e2b952,#e2b951,#e1b952,#dfba53,#dbba55,#d6ba57,#cfbb5a,#c7bc5d,#bdbc61,#b2bd66,#a5be6b,#95bf71,#83bf78)"></i><i style="background:linear-gradient(90deg,#1c55d6,#0562e0,#036be0,#0a73de,#117ad9,#1482d5,#128bd2,#0a96d1,#069fce,#06a6c7,#09acbe,#15b1b4,#25b5a9,#37b99e,#4cbc92,#62be87,#76bf7e,#88bf76,#98bf70,#a6be6b,#b1bd66,#bcbd62,#c4bc5e,#ccbb5b,#d1bb59,#d6ba57,#d9ba56,#dbba55,#dbba55,#daba55,#d8ba56,#d4bb58,#cfbb5a,#c8bc5d,#c0bc60,#b6bd64,#aabe69,#9dbf6e,#8cbf75,#79bf7d)"></i><i style="background:linear-gradient(90deg,#2d49c3,#1a56d7,#0363e1,#046de0,#0c75dd,#127cd8,#1485d4,#108fd2,#0899d1,#06a2cc,#06a8c4,#0daebb,#1bb2b0,#2cb6a5,#3fba9a,#54bd8e,#69be84,#7cbf7b,#8dbf74,#9cbf6f,#a8be6a,#b3bd65,#bcbd62,#c3bc5f,#cabb5c,#cebb5a,#d2bb59,#d3bb58,#d4bb58,#d3bb58,#d1bb59,#cdbb5b,#c8bc5d,#c1bc60,#b8bd63,#aebe67,#a2be6c,#94bf72,#83bf79,#6ebf81)"></i><i style="background:linear-gradient(90deg,#343eb0,#2c49c5,#1658da,#0265e1,#066fdf,#0e77db,#137fd7,#1388d3,#0d93d2,#079dcf,#06a4c9,#08aac0,#12afb7,#21b4ac,#33b8a1,#46bb95,#5bbd8b,#6fbf81,#81bf79,#91bf73,#9ebe6e,#a9be69,#b3bd65,#bbbd62,#c1bc5f,#c6bc5d,#cabb5c,#ccbb5b,#cdbb5b,#ccbb5b,#c9bb5c,#c6bc5e,#c0bc60,#b9bd63,#b1bd66,#a6be6a,#99bf6f,#8abf76,#78bf7d,#63be87)"></i></div>
<div class="cb" style="left:143.20px;top:20.50px;width:13.20px;height:72.30px;background:linear-gradient(180deg,#f9fb0e,#f5eb18,#f5de21,#f9d329,#fec932,#febf3c,#f2b949,#e3b951,#d3bb58,#c2bc5f,#b1bd66,#9fbe6d,#8bbf75,#75bf7e,#5ebe89,#47bb95,#33b8a1,#21b4ac,#13b0b6,#09abbf,#06a6c7,#069fce,#0a97d1,#118dd2,#1484d4,#127cd8,#0c74dd,#046ce0,#0462e0,#2152d3,#3243b9,#36369f,#352a87)"></div>
<div class="hm" style="left:222.60px;top:20.90px;width:94.90px;height:73.10px"><i style="background:linear-gradient(90deg,#8abf76,#91bf73,#98bf70,#9ebe6e,#a3be6c,#a7be6a,#aabe69,#acbe68,#adbe67,#aebe67,#adbe67,#acbe68,#a9be69,#a6be6b,#a1be6c,#9bbf6f,#94bf72,#8bbf75,#81bf7a,#75bf7f,#67be85,#58bd8c,#49bb94,#39b99d,#2bb6a6,#1eb3ae,#12afb7,#09abbf,#06a7c6,#06a1cc,#089ad0,#0e91d2,#1388d3,#1480d6,#117ada,#0a73dd,#046ce0,#0364e1,#1559da,#284dca)"></i><i style="background:linear-gradient(90deg,#93bf72,#9abf6f,#a0be6d,#a6be6b,#aabe69,#aebe67,#b2bd66,#b4bd65,#b5bd64,#b6bd64,#b6bd64,#b4bd65,#b2bd66,#afbe67,#aabe69,#a5be6b,#9ebe6e,#96bf71,#8dbf75,#82bf79,#75bf7e,#67be85,#57bd8d,#47bb95,#37b99e,#28b6a7,#1bb2b0,#10afb9,#08aac0,#06a5c8,#06a0cd,#0998d1,#108fd2,#1486d3,#137fd7,#1078da,#0972de,#036be0,#0363e1,#1459db)"></i><i style="background:linear-gradient(90deg,#9bbf6f,#a2be6c,#a8be6a,#adbe68,#b2bd66,#b6bd64,#b9bd63,#bcbd62,#bdbd61,#bebc61,#bebc61,#bdbd61,#bbbd62,#b8bd63,#b3bd65,#aebe67,#a8be6a,#a1be6d,#98bf70,#8ebf74,#82bf79,#75bf7f,#65be85,#55bd8e,#44bb96,#34b8a0,#26b5a9,#19b2b2,#0eaeba,#07a9c2,#06a4c9,#069ece,#0a96d1,#118dd2,#1485d4,#137ed7,#0f78db,#0971de,#036be0,#0364e1)"></i><i style="background:linear-gradient(90deg,#a3be6c,#a9be69,#afbe67,#b5bd65,#b9bd63,#bdbd61,#c1bc60,#c3bc5f,#c5bc5e,#c6bc5e,#c6bc5e,#c5bc5e,#c3bc5f,#c0bc60,#bcbd62,#b8bd63,#b2bd66,#abbe68,#a3be6c,#99bf6f,#8fbf74,#82bf79,#74bf7f,#64be86,#53bd8f,#42bb98,#32b8a1,#23b5ab,#16b1b4,#0cadbc,#06a8c4,#06a3ca,#079dcf,#0b95d2,#128cd2,#1484d4,#137dd8,#0f77db,#0971de,#036be0)"></i><i style="background:linear-gradient(90deg,#aabe69,#b0bd66,#b6bd64,#bbbd62,#c0bc60,#c4bc5e,#c8bc5d,#cabb5c,#ccbb5b,#cdbb5b,#cdbb5b,#ccbb5b,#cbbb5c,#c8bc5d,#c5bc5e,#c0bc60,#bbbd62,#b5bd65,#adbe68,#a4be6b,#9abf6f,#8fbf74,#82bf79,#73bf7f,#62be87,#50bc90,#3fba99,#2fb7a3,#21b4ac,#14b0b5,#0aacbd,#06a7c5,#06a2cb,#079bd0,#0c93d2,#128bd3,#1483d5,#137dd8,#0f77db,#0971de)"></i><i style="background:linear-gradient(90deg,#b1bd66,#b7bd64,#bdbd61,#c2bc5f,#c7bc5d,#cbbb5c,#cebb5a,#d1bb59,#d3bb58,#d4bb58,#d4bb58,#d4bb58,#d3bb58,#d0bb59,#cdbb5b,#c9bc5c,#c4bc5e,#bebc61,#b7bd64,#afbe67,#a5be6b,#9bbf6f,#8fbf74,#81bf79,#71bf80,#60be88,#4ebc91,#3cba9b,#2cb7a5,#1eb3ae,#12afb7,#09abbf,#06a7c6,#06a1cc,#089ad0,#0d92d2,#138ad3,#1483d5,#127dd8,#0f77db)"></i><i style="background:linear-gradient(90deg,#b7bd64,#bebc61,#c3bc5f,#c9bc5d,#cdbb5b,#d1bb59,#d5ba57,#d8ba56,#daba55,#dbba55,#dbba55,#dbba55,#daba55,#d8ba56,#d5ba57,#d1bb59,#cdbb5b,#c7bc5d,#c0bc60,#b9bd63,#b0bd66,#a6be6a,#9bbf6f,#8ebf74,#80bf7a,#6fbf81,#5dbe89,#4bbc93,#3ab99d,#2ab6a6,#1cb3b0,#10afb8,#08aac0,#06a6c7,#06a0cd,#0899d1,#0e91d2,#1389d3,#1483d5,#137dd8)"></i><i style="background:linear-gradient(90deg,#bebc61,#c4bc5f,#c9bb5c,#cfbb5a,#d3bb58,#d7ba56,#dbba55,#deba53,#e0ba52,#e2b952,#e2b951,#e2b951,#e1b952,#e0ba53,#ddba54,#d9ba55,#d5ba57,#d0bb5a,#cabb5c,#c2bc5f,#babd62,#b1bd66,#a6be6a,#9abf6f,#8dbf74,#7ebf7b,#6dbf82,#5bbd8b,#48bb94,#37b99e,#27b6a8,#1ab2b1,#0eaeba,#07aac1,#06a5c8,#069fce,#0999d1,#0e91d2,#1389d3,#1483d5)"></i><i style="background:linear-gradient(90deg,#c3bc5f,#c9bb5c,#cfbb5a,#d4bb58,#d9ba56,#ddba54,#e1b952,#e4b951,#e6b94f,#e8b94f,#e9b94e,#e9b94e,#e8b94e,#e7b94f,#e4b950,#e1b952,#ddba54,#d8ba56,#d2bb59,#cbbb5b,#c4bc5f,#bbbd62,#b1bd66,#a6be6a,#9abf6f,#8cbf75,#7cbf7b,#6abe83,#58bd8c,#45bb96,#34b8a0,#25b5aa,#17b1b3,#0dadbb,#07a9c2,#06a4c9,#069fce,#0998d1,#0f90d2,#1389d3)"></i><i style="background:linear-gradient(90deg,#c9bc5c,#cfbb5a,#d5bb58,#daba55,#dfba53,#e3b951,#e7b94f,#eab94e,#ecb94c,#eeb94b,#efb94b,#f0b94a,#efb94b,#eeb94b,#ecb94d,#e9b94e,#e5b950,#e0ba52,#dbba55,#d4bb58,#cdbb5b,#c5bc5e,#bbbd62,#b1bd66,#a5be6b,#98bf70,#8abf76,#7abf7c,#68be84,#55bd8e,#42bb98,#31b8a2,#23b4ab,#16b1b4,#0badbc,#06a8c3,#06a4ca,#069ece,#0998d1,#0e91d2)"></i><i style="background:linear-gradient(90deg,#cebb5a,#d4bb58,#daba55,#dfba53,#e4b951,#e8b94e,#ecb94c,#f0b94a,#f2b949,#f4ba47,#f5ba46,#f6ba46,#f5ba46,#f4ba47,#f3b948,#f0b94a,#edb94c,#e8b94e,#e3b951,#ddba54,#d6ba57,#cebb5a,#c5bc5e,#bbbd62,#b0bd66,#a4be6b,#97bf70,#88bf77,#77bf7e,#65be86,#52bd8f,#3fba99,#2fb7a3,#20b4ad,#14b0b5,#0aacbd,#06a8c4,#06a3ca,#079ece,#0998d1)"></i><i style="background:linear-gradient(90deg,#d3bb58,#d9ba56,#dfba53,#e4b951,#e9b94e,#edb94c,#f1b949,#f5ba47,#f7ba45,#f9bb43,#fabc42,#fabc41,#fabc41,#fabc42,#f9bb43,#f7ba45,#f4ba47,#f0b94a,#ebb94d,#e5b950,#dfba53,#d7ba56,#cfbb5a,#c5bc5e,#bbbd62,#b0be67,#a3be6c,#95bf71,#86bf77,#74bf7f,#62be87,#4ebc91,#3dba9b,#2cb7a5,#1eb3ae,#12b0b6,#0aacbe,#06a8c5,#06a3ca,#079ecf)"></i><i style="background:linear-gradient(90deg,#d7ba56,#ddba54,#e3b951,#e9b94e,#eeb94c,#f2b949,#f6ba46,#f9bb43,#fbbc40,#fdbd3e,#fdbe3d,#febf3c,#febf3c,#febf3d,#fdbe3e,#fcbd3f,#fabc42,#f7ba45,#f3b948,#edb94c,#e7b94f,#e0ba53,#d8ba56,#cfbb5a,#c5bc5e,#babd62,#aebe67,#a1be6c,#93bf72,#83bf79,#72bf80,#5ebe89,#4bbc93,#3ab99d,#2ab6a6,#1cb3af,#11afb7,#09abbf,#06a7c5,#06a3ca)"></i><i style="background:linear-gradient(90deg,#dcba55,#e1b952,#e7b94f,#edb94c,#f2b949,#f6ba46,#fabb42,#fcbd3f,#febf3c,#fec13a,#fec239,#ffc338,#ffc338,#ffc338,#fec239,#fec13a,#febf3c,#fcbd3f,#f9bb43,#f5ba47,#efb94b,#e8b94f,#e1ba52,#d8ba56,#cfbb5a,#c4bc5e,#b9bd63,#adbe68,#9fbe6d,#91bf73,#80bf7a,#6ebf81,#5bbd8a,#48bb94,#37b99e,#28b6a8,#1bb2b0,#10afb8,#09abbf,#06a7c5)"></i><i style="background:linear-gradient(90deg,#dfba53,#e5b950,#ebb94d,#f1b94a,#f6ba46,#fabb42,#fdbe3e,#fec03b,#fec239,#ffc437,#fec535,#fec634,#fec734,#fec734,#fec634,#fec535,#ffc337,#fec13a,#febf3d,#fbbc41,#f6ba45,#f0b94a,#e9b94e,#e1ba52,#d8ba56,#cebb5a,#c3bc5f,#b8bd63,#abbe68,#9dbe6e,#8ebf74,#7dbf7b,#6bbf83,#58bd8c,#45bb96,#35b8a0,#26b5a9,#1ab2b1,#0faeb9,#09abbf)"></i><i style="background:linear-gradient(90deg,#e3b951,#e9b94e,#efb94b,#f4ba47,#f9bb43,#fcbd3f,#fec03b,#ffc338,#fec535,#fec734,#fec932,#fdca31,#fdca31,#fdca30,#fdca31,#fec932,#fec833,#fec635,#ffc337,#fec03b,#fcbd3f,#f8ba44,#f1b949,#e9b94e,#e1ba52,#d7ba56,#cdbb5b,#c2bc5f,#b6bd64,#a9be69,#9bbf6f,#8bbf75,#7abf7c,#68be84,#55bd8e,#43bb97,#33b8a1,#24b5aa,#19b2b2,#0faeb9)"></i><i style="background:linear-gradient(90deg,#e6b950,#ecb94c,#f2b949,#f7ba45,#fbbd40,#febf3c,#ffc238,#fec535,#fec833,#fdca31,#fdcc2f,#fccd2e,#fcce2e,#fcce2d,#fcce2e,#fccd2e,#fdcc2f,#fdca31,#fec833,#fec536,#fec139,#fdbe3e,#f8bb44,#f2b949,#e9b94e,#e0ba52,#d6ba57,#ccbb5b,#c0bc60,#b4bd65,#a7be6a,#98bf70,#88bf76,#77bf7e,#64be86,#52bd8f,#40ba99,#30b8a2,#23b4ab,#18b1b2)"></i><i style="background:linear-gradient(90deg,#e9b94e,#efb94b,#f5ba47,#fabb42,#fdbe3d,#fec139,#fec536,#fec833,#fdca31,#fccd2f,#fccf2d,#fbd02c,#fad12b,#fad12b,#fad12b,#fbd12b,#fbd02c,#fcce2d,#fdcc2f,#fec931,#fec634,#ffc238,#fdbe3d,#f9bb43,#f1b949,#e9b94e,#dfba53,#d5ba57,#cabb5c,#bebc61,#b2bd66,#a4be6b,#95bf71,#85bf78,#74bf7f,#61be88,#4ebc91,#3eba9a,#2fb7a3,#22b4ac)"></i><i style="background:linear-gradient(90deg,#ebb94d,#f1b949,#f7ba45,#fbbd40,#fec03b,#ffc337,#fec734,#fdca31,#fccd2e,#fbcf2d,#fad12b,#fad32a,#f9d429,#f9d528,#f9d528,#f9d428,#f9d429,#fad22a,#fbd02c,#fcce2e,#fdcb30,#fec734,#ffc338,#fdbe3d,#f9bb43,#f1b94a,#e8b94f,#deba53,#d4bb58,#c8bc5d,#bcbd62,#afbe67,#a1be6c,#92bf72,#82bf79,#70bf81,#5ebe89,#4cbc92,#3bb99c,#2db7a4)"></i><i style="background:linear-gradient(90deg,#edb94c,#f3ba48,#f9bb43,#fdbe3e,#fec139,#fec535,#fec932,#fdcc2f,#fbcf2d,#fad22b,#f9d429,#f8d628,#f8d727,#f7d826,#f7d826,#f7d826,#f8d726,#f8d627,#f9d429,#fad22b,#fbcf2d,#fdcc30,#fec833,#ffc337,#fdbe3d,#f8bb44,#f0b94a,#e7b94f,#dcba54,#d2bb59,#c6bc5e,#b9bd63,#acbe68,#9ebe6e,#8fbf74,#7ebf7b,#6cbf82,#5abd8b,#49bc94,#39b99d)"></i><i style="background:linear-gradient(90deg,#efb94b,#f5ba46,#fabc42,#febf3c,#ffc338,#fec734,#fdca30,#fcce2e,#fad12b,#f9d429,#f8d627,#f7d826,#f7da25,#f6db24,#f6db23,#f6db23,#f6db24,#f7da25,#f7d826,#f8d627,#fad32a,#fbd02c,#fdcc2f,#fec833,#ffc337,#fdbe3d,#f8ba45,#efb94b,#e5b950,#daba55,#cfbb5a,#c3bc5f,#b7bd64,#a9be69,#9bbf6f,#8bbf75,#7bbf7c,#69be84,#57bd8c,#46bb95)"></i><i style="background:linear-gradient(90deg,#f0b94a,#f6ba45,#fbbd40,#fec03b,#ffc436,#fec832,#fdcc2f,#fbcf2c,#fad32a,#f8d628,#f7d826,#f7db24,#f6dc23,#f6de22,#f5df21,#f5df21,#f5de21,#f6dd22,#f6dc23,#f7da25,#f8d726,#f9d429,#fbd02c,#fccc2f,#fec833,#ffc338,#fdbe3e,#f6ba45,#edb94c,#e3b951,#d8ba56,#cdbb5b,#c0bc60,#b3bd65,#a6be6b,#97bf70,#88bf77,#77bf7e,#65be86,#54bd8e)"></i><i style="background:linear-gradient(90deg,#f1b949,#f7ba45,#fcbd3f,#fec13a,#fec535,#fec931,#fccd2e,#fbd12b,#f9d429,#f8d726,#f7da24,#f6dd22,#f5df21,#f5e120,#f5e21f,#f5e21e,#f5e21f,#f5e11f,#f5e020,#f6de22,#f6db23,#f7d826,#f9d528,#fbd12b,#fccc2f,#fec733,#fec238,#fcbd3f,#f5ba47,#ebb94d,#e1ba52,#d5ba57,#cabb5c,#bdbd61,#b0bd66,#a2be6c,#93bf72,#84bf78,#73bf7f,#62be87)"></i><i style="background:linear-gradient(90deg,#f2b949,#f8ba44,#fcbd3f,#fec139,#fec635,#fdca31,#fcce2d,#fad22a,#f8d628,#f7d925,#f6dc23,#f5df21,#f5e11f,#f5e31e,#f5e41d,#f5e51c,#f5e51c,#f5e51d,#f5e31d,#f5e21f,#f5df21,#f6dc23,#f7d925,#f9d528,#fbd12b,#fdcc2f,#fec734,#fec13a,#fbbc41,#f3b948,#e9b94e,#deba54,#d2bb59,#c6bc5d,#babd63,#acbe68,#9ebe6d,#8fbf73,#80bf7a,#6fbf81)"></i><i style="background:linear-gradient(90deg,#f2b949,#f8bb44,#fdbe3e,#fec239,#fec634,#fdcb30,#fbcf2d,#fad32a,#f8d727,#f7da24,#f6de22,#f5e11f,#f5e31d,#f5e61c,#f5e71b,#f5e81a,#f5e91a,#f5e81a,#f5e71b,#f5e51c,#f5e31e,#f5e020,#f6dd22,#f7d925,#f9d528,#fbd02c,#fdcb30,#fec635,#fec03b,#f9bb43,#f0b94a,#e6b950,#dbba55,#cfbb5a,#c3bc5f,#b6bd64,#a8be69,#9abf6f,#8bbf75,#7cbf7c)"></i><i style="background:linear-gradient(90deg,#f2b949,#f8bb44,#fdbe3e,#fec239,#fec734,#fdcb30,#fbcf2c,#f9d429,#f8d826,#f6db23,#f5df21,#f5e21e,#f5e51c,#f5e81a,#f5ea19,#f5eb18,#f5ec18,#f5ec18,#f5eb18,#f5e919,#f5e71b,#f5e41d,#f5e11f,#f6dd22,#f7d925,#f9d429,#fbd02c,#fdca31,#ffc436,#febe3d,#f7ba45,#edb94c,#e2b951,#d7ba56,#cbbb5b,#bfbc61,#b2bd66,#a4be6b,#96bf71,#87bf77)"></i><i style="background:linear-gradient(90deg,#f1b949,#f8ba44,#fdbe3e,#fec239,#fec734,#fdcb30,#fbd02c,#f9d429,#f7d826,#f6dc23,#f5e020,#f5e41d,#f5e71b,#f5ea19,#f5ec18,#f5ee16,#f6ef16,#f6ef16,#f5ee16,#f5ed17,#f5eb18,#f5e81a,#f5e51c,#f5e11f,#f6dd22,#f7d826,#f9d429,#fcce2d,#fec932,#ffc338,#fcbd3f,#f4ba47,#eab94e,#dfba53,#d3bb58,#c7bc5d,#bbbd62,#adbe67,#a0be6d,#92bf73)"></i><i style="background:linear-gradient(90deg,#f0b94a,#f7ba45,#fcbd3f,#fec239,#fec634,#fdcb30,#fbd02c,#f9d429,#f7d925,#f6dd22,#f5e11f,#f5e51d,#f5e81a,#f5eb18,#f5ee16,#f6f015,#f6f114,#f6f214,#f6f214,#f6f115,#f6ef16,#f5ec18,#f5e91a,#f5e51c,#f5e11f,#f6dc23,#f8d726,#fad22a,#fccd2e,#fec733,#fec13a,#fabc42,#f1b94a,#e6b950,#dbba55,#cfbb5a,#c3bc5f,#b6bd64,#a9be69,#9bbf6f)"></i><i style="background:linear-gradient(90deg,#efb94b,#f6ba46,#fbbd40,#fec13a,#fec635,#fdcb30,#fbd02c,#f9d429,#f7d925,#f6dd22,#f5e11f,#f5e61c,#f5e919,#f5ed17,#f6f015,#f6f214,#f7f412,#f7f512,#f7f512,#f7f412,#f6f214,#f6f015,#f5ed17,#f5e91a,#f5e51d,#f5e020,#f6db23,#f8d627,#fbd12b,#fdcb30,#fec535,#febf3c,#f7ba45,#edb94c,#e2b952,#d6ba57,#cabb5c,#bebc61,#b1bd66,#a4be6b)"></i><i style="background:linear-gradient(90deg,#edb94c,#f4ba47,#fbbc41,#fec03b,#fec535,#fdca31,#fbcf2d,#f9d429,#f7d825,#f6dd22,#f5e21f,#f5e61c,#f5ea19,#f5ee16,#f6f114,#f7f412,#f7f611,#f8f710,#f8f710,#f8f710,#f7f611,#f7f313,#f6f015,#f5ed17,#f5e91a,#f5e41d,#f5df21,#f7da24,#f9d528,#fbcf2d,#fec932,#ffc338,#fcbd40,#f3ba48,#e9b94e,#ddba54,#d2bb59,#c5bc5e,#b9bd63,#acbe68)"></i><i style="background:linear-gradient(90deg,#ebb94d,#f3b948,#f9bb43,#febf3c,#ffc436,#fec931,#fcce2d,#f9d329,#f7d826,#f6dd22,#f5e21f,#f5e61b,#f5eb18,#f6ef16,#f6f213,#f7f511,#f8f810,#f8f90f,#f9fa0e,#f9fa0e,#f8f90f,#f8f710,#f7f412,#f6f015,#f5ec17,#f5e81a,#f5e31e,#f6dd22,#f7d826,#fad32a,#fccd2e,#fec734,#fec03b,#f9bb43,#efb94b,#e4b951,#d8ba56,#ccbb5b,#c0bc60,#b3bd65)"></i><i style="background:linear-gradient(90deg,#e9b94e,#f0b94a,#f8ba44,#fdbe3e,#ffc338,#fec832,#fccd2e,#fad22a,#f8d726,#f6dc23,#f5e11f,#f5e61c,#f5eb18,#f6ef15,#f7f313,#f8f611,#f8f90f,#f9fb0e,#f9fb0e,#f9fb0e,#f9fb0e,#f9fa0e,#f8f710,#f7f412,#f6f015,#f5eb18,#f5e61b,#f5e11f,#f6dc23,#f8d627,#fbd02c,#fdca31,#ffc437,#fdbd3e,#f5ba47,#eab94e,#deba53,#d3bb58,#c7bc5d,#babd62)"></i><i style="background:linear-gradient(90deg,#e6b950,#edb94c,#f5ba46,#fbbd40,#fec139,#fec734,#fccc2f,#fad12b,#f8d627,#f6dc23,#f5e11f,#f5e61c,#f5eb19,#f6ef15,#f7f313,#f8f710,#f9fa0e,#f9fb0e,#f9fb0e,#f9fb0e,#f9fb0e,#f9fb0e,#f9fa0e,#f8f710,#f7f313,#f6ef16,#f5ea19,#f5e41d,#f5df21,#f7d925,#f9d429,#fcce2e,#fec733,#fec13a,#f9bb43,#f0b94a,#e4b950,#d9ba56,#cdbb5b,#c1bc60)"></i><i style="background:linear-gradient(90deg,#e2b951,#eab94d,#f2b949,#fabb42,#fec03b,#fec535,#fdcb30,#fbd02c,#f9d528,#f7da24,#f5e020,#f5e51c,#f5ea19,#f6ef16,#f7f313,#f8f710,#f9fb0e,#f9fb0e,#f9fb0e,#f9fb0e,#f9fb0e,#f9fb0e,#f9fb0e,#f9fa0e,#f8f611,#f6f214,#f5ed17,#f5e81b,#f5e21e,#f6dc23,#f8d727,#fbd12b,#fdcb30,#ffc436,#fdbe3e,#f5ba47,#eab94e,#deba53,#d3bb58,#c6bc5d)"></i><i style="background:linear-gradient(90deg,#dfba53,#e7b94f,#efb94b,#f7ba45,#fdbe3e,#ffc337,#fec932,#fcce2d,#f9d429,#f7d925,#f5de21,#f5e41d,#f5e91a,#f5ee16,#f6f313,#f8f710,#f9fb0e,#f9fb0e,#f9fb0e,#f9fb0e,#f9fb0e,#f9fb0e,#f9fb0e,#f9fb0e,#f8f90f,#f7f512,#f6f015,#f5eb18,#f5e51c,#f5df20,#f7d925,#f9d429,#fccd2e,#fec734,#fec03b,#f9bb43,#efb94b,#e3b951,#d8ba56,#ccbb5b)"></i><i style="background:linear-gradient(90deg,#daba55,#e3b951,#ebb94d,#f4ba48,#fbbc41,#fec13a,#fec734,#fccd2f,#fad22a,#f8d826,#f6dd22,#f5e21e,#f5e81a,#f5ed17,#f6f213,#f8f710,#f9fb0e,#f9fb0e,#f9fb0e,#f9fb0e,#f9fb0e,#f9fb0e,#f9fb0e,#f9fb0e,#f9fb0e,#f8f810,#f6f313,#f5ee17,#f5e81a,#f5e21e,#f6dc23,#f8d627,#fbd02c,#fdca31,#ffc337,#fcbd40,#f3ba48,#e8b94f,#ddba54,#d1bb59)"></i><i style="background:linear-gradient(90deg,#d6ba57,#deba53,#e7b94f,#f0b94a,#f8bb44,#febf3c,#fec536,#fdcb30,#fbd02c,#f8d628,#f6db23,#f5e11f,#f5e61b,#f5ec18,#f6f114,#f7f611,#f9fa0e,#f9fb0e,#f9fb0e,#f9fb0e,#f9fb0e,#f9fb0e,#f9fb0e,#f9fb0e,#f9fb0e,#f9fa0e,#f7f511,#f6f015,#f5eb19,#f5e51d,#f5df21,#f7d925,#fad32a,#fccc2f,#fec635,#febf3c,#f7ba45,#ecb94c,#e1b952,#d5ba57)"></i><i style="background:linear-gradient(90deg,#d1bb59,#d9ba56,#e2b951,#ebb94d,#f4ba47,#fcbd40,#fec238,#fec832,#fcce2d,#f9d429,#f7d925,#f5df21,#f5e51d,#f5ea19,#f6f015,#f7f512,#f9f90f,#f9fb0e,#f9fb0e,#f9fb0e,#f9fb0e,#f9fb0e,#f9fb0e,#f9fb0e,#f9fb0e,#f9fb0e,#f8f710,#f6f213,#f5ed17,#f5e71b,#f5e11f,#f6db24,#f9d528,#fbcf2d,#fec832,#fec139,#fabc42,#f0b94a,#e5b950,#d9ba56)"></i><i style="background:linear-gradient(90deg,#cbbb5c,#d4bb58,#ddba54,#e7b94f,#f0b94a,#f9bb43,#fec03c,#fec635,#fdcc2f,#fad12b,#f8d726,#f6dd22,#f5e31e,#f5e81a,#f5ee16,#f7f313,#f8f810,#f9fb0e,#f9fb0e,#f9fb0e,#f9fb0e,#f9fb0e,#f9fb0e,#f9fb0e,#f9fb0e,#f9fb0e,#f8f90f,#f7f412,#f6ef16,#f5e919,#f5e31e,#f6dd22,#f8d727,#fbd12b,#fdca31,#ffc437,#fcbd3f,#f3ba48,#e8b94e,#ddba54)"></i><i style="background:linear-gradient(90deg,#c5bc5e,#cebb5a,#d8ba56,#e1b952,#ebb94d,#f5ba47,#fcbd3f,#ffc338,#fec932,#fbcf2d,#f9d528,#f7da24,#f5e020,#f5e61c,#f5ec18,#f6f114,#f8f611,#f9fb0e,#f9fb0e,#f9fb0e,#f9fb0e,#f9fb0e,#f9fb0e,#f9fb0e,#f9fb0e,#f9fb0e,#f9fb0e,#f7f611,#f6f114,#f5eb18,#f5e51c,#f5df21,#f7d925,#fad32a,#fccc2f,#fec635,#febf3d,#f6ba46,#ebb94d,#e0ba53)"></i><i style="background:linear-gradient(90deg,#bebc61,#c8bc5d,#d2bb59,#dcba54,#e6b950,#f0b94a,#f9bb43,#fec03b,#fec634,#fccc2f,#fad22a,#f7d826,#f6de22,#f5e41d,#f5e919,#f6ef16,#f7f412,#f8f90f,#f9fb0e,#f9fb0e,#f9fb0e,#f9fb0e,#f9fb0e,#f9fb0e,#f9fb0e,#f9fb0e,#f9fb0e,#f8f710,#f6f214,#f5ec17,#f5e71b,#f5e020,#f7da24,#f9d429,#fcce2e,#fec733,#fec03b,#f9bb44,#eeb94b,#e3b951)"></i><i style="background:linear-gradient(90deg,#b7bd64,#c1bc60,#cbbb5b,#d6ba57,#e0ba53,#eab94e,#f4ba47,#fcbd3f,#ffc338,#fec931,#fbcf2c,#f9d528,#f6db24,#f5e11f,#f5e71b,#f5ed17,#f6f214,#f8f710,#f9fb0e,#f9fb0e,#f9fb0e,#f9fb0e,#f9fb0e,#f9fb0e,#f9fb0e,#f9fb0e,#f9fb0e,#f8f810,#f7f313,#f5ee16,#f5e81a,#f5e21f,#f6dc23,#f8d628,#fbcf2d,#fec932,#fec239,#fabc42,#f0b94a,#e5b950)"></i><i style="background:linear-gradient(90deg,#b0bd67,#babd62,#c4bc5e,#cfbb5a,#daba55,#e4b950,#efb94b,#f8bb44,#fec03b,#fec634,#fccc2f,#fad22a,#f7d826,#f5de21,#f5e41d,#f5ea19,#f6ef15,#f7f412,#f8f90f,#f9fb0e,#f9fb0e,#f9fb0e,#f9fb0e,#f9fb0e,#f9fb0e,#f9fb0e,#f9fb0e,#f8f90f,#f7f412,#f5ef16,#f5e91a,#f5e31e,#f6dd22,#f8d727,#fbd02c,#fdca31,#ffc337,#fbbd40,#f2b949,#e7b94f)"></i><i style="background:linear-gradient(90deg,#a7be6a,#b2bd66,#bdbd61,#c8bc5d,#d3bb58,#deba53,#e9b94e,#f3ba48,#fbbd40,#ffc338,#fec932,#fbcf2c,#f9d528,#f6db23,#f5e11f,#f5e71b,#f5ec17,#f6f214,#f8f611,#f9fa0e,#f9fb0e,#f9fb0e,#f9fb0e,#f9fb0e,#f9fb0e,#f9fb0e,#f9fb0e,#f8f90f,#f7f412,#f6ef16,#f5e919,#f5e31d,#f6dd22,#f8d726,#fad12b,#fdcb30,#ffc436,#fcbd3f,#f4ba48,#e8b94f)"></i><i style="background:linear-gradient(90deg,#9fbe6d,#aabe69,#b5bd64,#c0bc60,#ccbb5b,#d7ba56,#e2b951,#edb94c,#f7ba45,#febf3c,#fec635,#fdcc2f,#fad22a,#f7d826,#f6de22,#f5e41d,#f5e919,#f6ef16,#f7f413,#f8f810,#f9fb0e,#f9fb0e,#f9fb0e,#f9fb0e,#f9fb0e,#f9fb0e,#f9fb0e,#f8f80f,#f7f412,#f6ef16,#f5ea19,#f5e41d,#f6de21,#f7d826,#fad22b,#fdcb30,#ffc536,#fdbe3e,#f5ba47,#e9b94e)"></i><i style="background:linear-gradient(90deg,#95bf71,#a1be6d,#adbe68,#b8bd63,#c4bc5e,#d0bb5a,#dbba55,#e7b94f,#f2b949,#fbbc41,#fec239,#fec932,#fbcf2d,#f9d528,#f7db24,#f5e020,#f5e61c,#f5eb18,#f6f015,#f7f512,#f8f90f,#f9fb0e,#f9fb0e,#f9fb0e,#f9fb0e,#f9fb0e,#f9fb0e,#f8f810,#f7f413,#f6ef16,#f5ea19,#f5e41d,#f5de21,#f7d826,#fad22a,#fdcc2f,#fec535,#fdbe3d,#f5ba46,#eab94e)"></i><i style="background:linear-gradient(90deg,#8abf76,#97bf71,#a3be6b,#b0bd67,#bcbd62,#c8bc5d,#d4bb58,#e0ba53,#ebb94d,#f6ba46,#fdbe3d,#fec536,#fdcb30,#fad12b,#f8d726,#f6dd22,#f5e31e,#f5e81a,#f5ed17,#f6f214,#f7f611,#f8f90f,#f9fb0e,#f9fb0e,#f9fb0e,#f9fb0e,#f9f90f,#f8f711,#f6f313,#f5ee16,#f5e919,#f5e41d,#f5de21,#f7d826,#fad22a,#fdcc2f,#fec535,#fdbe3d,#f5ba46,#eab94e)"></i><i style="background:linear-gradient(90deg,#7fbf7a,#8cbf75,#99bf6f,#a7be6a,#b3bd65,#c0bc60,#ccbb5b,#d9ba56,#e4b950,#f0b94a,#f9bb43,#fec13a,#fec733,#fcce2e,#f9d429,#f7d925,#f5df21,#f5e41d,#f5ea19,#f5ee16,#f6f213,#f7f611,#f8f810,#f9f90f,#f9fa0e,#f9f90f,#f8f810,#f7f512,#f6f214,#f5ed17,#f5e91a,#f5e31e,#f6de22,#f7d826,#fad22a,#fdcc2f,#fec535,#fdbe3d,#f5ba46,#eab94e)"></i><i style="background:linear-gradient(90deg,#72bf80,#80bf7a,#8fbf74,#9dbf6e,#aabe69,#b7bd63,#c4bc5e,#d1bb59,#ddba54,#e9b94e,#f4ba48,#fcbd3f,#ffc337,#fdca31,#fbd02c,#f8d627,#f6db23,#f5e11f,#f5e61c,#f5eb18,#f6ef16,#f6f213,#f7f512,#f8f710,#f8f710,#f8f710,#f7f611,#f7f313,#f6f015,#f5ec18,#f5e81b,#f5e21e,#f6dd22,#f8d726,#fad22b,#fdcb30,#fec536,#fdbe3e,#f5ba47,#e9b94e)"></i><i style="background:linear-gradient(90deg,#64be86,#73bf7f,#83bf79,#92bf73,#a0be6d,#aebe67,#bcbd62,#c9bc5d,#d5ba57,#e1b952,#edb94c,#f8ba45,#febf3c,#fec634,#fccc2f,#fad22a,#f7d826,#f6dd22,#f5e21e,#f5e71b,#f5eb18,#f6ef16,#f6f214,#f7f313,#f7f412,#f7f412,#f7f313,#f6f114,#f5ee16,#f5eb19,#f5e61c,#f5e11f,#f6dc23,#f8d727,#fad12b,#fdcb30,#ffc436,#fdbe3e,#f4ba47,#e8b94e)"></i><i style="background:linear-gradient(90deg,#56bd8d,#66be85,#76bf7e,#86bf77,#95bf71,#a4be6b,#b2bd65,#c0bc60,#cdbb5b,#daba55,#e6b950,#f1b949,#fabc41,#fec239,#fec832,#fcce2d,#f9d429,#f7d925,#f5de21,#f5e31e,#f5e71b,#f5eb18,#f5ee16,#f6f015,#f6f114,#f6f114,#f6f115,#f6ef16,#f5ec17,#f5e91a,#f5e51d,#f5e020,#f6db24,#f8d628,#fbd02c,#fdca31,#ffc337,#fcbd3f,#f3b948,#e7b94f)"></i><i style="background:linear-gradient(90deg,#48bb94,#57bd8c,#68be84,#79bf7d,#8abf76,#9abf6f,#a9be69,#b7bd64,#c5bc5e,#d2bb59,#deba53,#eab94e,#f5ba47,#fdbe3e,#ffc436,#fdca30,#fbd02c,#f8d628,#f7db24,#f5df20,#f5e31d,#f5e71b,#f5ea19,#f5ed17,#f5ee16,#f5ee16,#f5ee16,#f5ec17,#f5ea19,#f5e71b,#f5e31e,#f5de21,#f7da25,#f9d428,#fbcf2d,#fec932,#fec238,#fbbc41,#f1b949,#e5b950)"></i><i style="background:linear-gradient(90deg,#3bb99c,#49bc94,#59bd8b,#6bbf83,#7dbf7b,#8ebf74,#9ebe6e,#adbe68,#bcbd62,#c9bc5c,#d6ba57,#e2b951,#eeb94b,#f8bb44,#fec03b,#fec634,#fccc2f,#fad22b,#f8d727,#f6db23,#f5e020,#f5e31d,#f5e71b,#f5e91a,#f5ea19,#f5eb18,#f5eb18,#f5e919,#f5e71b,#f5e41d,#f5e11f,#f6dd22,#f7d826,#fad32a,#fcce2e,#fec733,#fec13a,#f9bb43,#efb94b,#e3b951)"></i><i style="background:linear-gradient(90deg,#2eb7a4,#3bb99c,#4bbc93,#5dbe8a,#6fbf81,#82bf79,#93bf72,#a3be6c,#b2bd66,#c0bc60,#cebb5a,#daba55,#e6b94f,#f2b949,#fbbc41,#fec239,#fec833,#fcce2e,#fad32a,#f8d826,#f6dc23,#f5e020,#f5e31e,#f5e51c,#f5e71b,#f5e81b,#f5e81b,#f5e61b,#f5e51d,#f5e21f,#f5df21,#f7db24,#f8d627,#fad12b,#fdcc2f,#fec635,#febf3c,#f8ba44,#edb94c,#e1ba52)"></i><i style="background:linear-gradient(90deg,#23b4ab,#2eb7a3,#3dba9b,#4ebc91,#61be88,#74bf7f,#87bf77,#98bf70,#a8be6a,#b7bd64,#c5bc5e,#d2bb59,#deba53,#eab94d,#f5ba47,#fdbe3e,#ffc437,#fdca31,#fbcf2d,#f9d429,#f7d826,#f6dc23,#f5df21,#f5e11f,#f5e31e,#f5e41d,#f5e41d,#f5e31d,#f5e21f,#f5df20,#f6dc23,#f7d826,#f9d429,#fbcf2c,#fdca31,#ffc436,#fdbe3e,#f5ba46,#eab94e,#deba53)"></i><i style="background:linear-gradient(90deg,#18b1b2,#23b4ab,#30b7a3,#40ba99,#52bd8f,#65be85,#79bf7d,#8cbf75,#9dbe6e,#adbe68,#bbbd62,#c9bb5c,#d6ba57,#e2b951,#eeb94b,#f8ba44,#febf3c,#fec535,#fdcb30,#fbd02c,#f9d429,#f8d826,#f6db24,#f6de22,#f5df20,#f5e120,#f5e11f,#f5e020,#f5df21,#f6dd22,#f7da25,#f8d627,#fad22a,#fccd2e,#fec833,#fec239,#fbbc40,#f2b949,#e7b94f,#dbba55)"></i><i style="background:linear-gradient(90deg,#0faeb9,#18b1b2,#24b5aa,#32b8a1,#43bb97,#56bd8d,#6bbe83,#7fbf7a,#91bf73,#a2be6c,#b2bd66,#c0bc60,#cebb5a,#daba55,#e6b950,#f1b949,#fabc42,#fec13a,#fec634,#fdcb30,#fbd02c,#f9d429,#f8d726,#f7da25,#f6dc23,#f6dd22,#f6dd22,#f6dd22,#f6dc23,#f7da25,#f8d727,#f9d429,#fbd02c,#fdcb30,#fec635,#fec03b,#f9bb43,#efb94b,#e3b951,#d7ba57)"></i><i style="background:linear-gradient(90deg,#09abbf,#0faeb9,#19b2b1,#26b5a9,#35b89f,#47bb95,#5cbe8a,#71bf80,#85bf78,#97bf71,#a7be6a,#b6bd64,#c5bc5e,#d2bb59,#deba53,#e9b94e,#f4ba47,#fbbd40,#fec239,#fec733,#fdcc2f,#fbd02c,#f9d329,#f8d627,#f7d826,#f7d925,#f7da24,#f7da25,#f7d825,#f8d727,#f9d429,#fad12b,#fccd2e,#fec832,#ffc337,#fdbe3e,#f6ba46,#ebb94d,#e0ba53,#d3bb58)"></i><i style="background:linear-gradient(90deg,#06a7c5,#09abbf,#10afb8,#1bb2b0,#29b6a7,#39b99d,#4cbc92,#62be87,#77bf7e,#8abf76,#9cbf6e,#acbe68,#bbbd62,#c9bc5c,#d6ba57,#e2b952,#ecb94c,#f6ba46,#fdbe3e,#ffc338,#fec833,#fdcc2f,#fbcf2c,#fad22a,#f9d429,#f8d628,#f8d627,#f8d627,#f9d528,#f9d429,#fad12b,#fcce2d,#fdca31,#fec635,#fec13a,#fabc41,#f2b949,#e7b94f,#dbba55,#cfbb5a)"></i><i style="background:linear-gradient(90deg,#06a3cb,#06a7c5,#09abbf,#11afb7,#1db3af,#2cb7a5,#3eba9a,#52bd8f,#68be84,#7dbf7b,#90bf73,#a2be6c,#b1bd66,#c0bc60,#cdbb5b,#d9ba56,#e5b950,#efb94b,#f8ba44,#fdbe3d,#ffc337,#fec733,#fdcb30,#fcce2d,#fbd02c,#fad22a,#fad32a,#fad32a,#fad22a,#fbd02c,#fcce2d,#fdcb30,#fec733,#ffc338,#fdbe3e,#f7ba45,#eeb94b,#e3b951,#d7ba57,#cabb5c)"></i><i style="background:linear-gradient(90deg,#079dcf,#06a3cb,#06a7c5,#0aacbe,#14b0b6,#21b4ac,#31b8a2,#44bb97,#59bd8c,#6fbf81,#84bf78,#96bf71,#a7be6a,#b6bd64,#c4bc5e,#d1bb59,#dcba54,#e7b94f,#f1b94a,#f9bb43,#febf3d,#ffc337,#fec734,#fdca31,#fccc2f,#fcce2d,#fbcf2d,#fbcf2d,#fcce2d,#fccd2e,#fdcb30,#fec833,#ffc436,#fec03b,#fabc42,#f3b948,#e9b94e,#deba53,#d2bb59,#c5bc5e)"></i><i style="background:linear-gradient(90deg,#0a97d1,#079dcf,#06a3ca,#06a8c4,#0badbc,#16b1b4,#25b5aa,#36b99f,#4abc93,#60be88,#76bf7e,#8abf76,#9cbf6f,#acbe68,#babd62,#c8bc5d,#d4bb58,#dfba53,#e9b94e,#f2b949,#f9bb43,#febf3d,#ffc238,#fec635,#fec832,#fdca31,#fdcb30,#fdcb30,#fdcb30,#fdca31,#fec733,#ffc536,#fec13a,#fcbd3f,#f6ba45,#eeb94b,#e4b951,#d9ba56,#cdbb5b,#bfbc60)"></i><i style="background:linear-gradient(90deg,#0f90d2,#0a97d1,#069ece,#06a4c9,#07a9c2,#0eaeba,#1ab2b1,#29b6a7,#3cba9b,#51bc90,#67be85,#7dbf7b,#90bf73,#a1be6c,#b1bd66,#bfbc61,#cbbb5b,#d7ba57,#e1b952,#ebb94d,#f3ba48,#f9bb43,#fdbe3d,#fec139,#ffc436,#fec634,#fec733,#fec833,#fec733,#fec635,#ffc437,#fec13a,#fdbe3e,#f9bb43,#f2b949,#e9b94e,#dfba53,#d4bb58,#c7bc5d,#b9bd63)"></i><i style="background:linear-gradient(90deg,#1388d3,#0f90d2,#0998d1,#069fce,#06a5c8,#08aac1,#10afb8,#1eb3ae,#2fb7a3,#42bb98,#58bd8c,#6ebf81,#83bf79,#96bf71,#a6be6a,#b5bd64,#c2bc5f,#cebb5a,#d9ba56,#e3b951,#ecb94d,#f3ba48,#f9bb43,#fcbd3f,#fec03b,#fec239,#ffc337,#ffc437,#ffc337,#fec238,#fec03b,#fdbe3e,#f9bb43,#f4ba47,#ecb94c,#e3b951,#d9ba55,#cebb5a,#c1bc60,#b3bd65)"></i><i style="background:linear-gradient(90deg,#1482d5,#1388d3,#0f90d2,#0899d1,#06a0cd,#06a6c6,#09abbe,#14b0b5,#23b4ab,#35b8a0,#49bc94,#5fbe88,#76bf7e,#8abf76,#9bbf6f,#abbe69,#b9bd63,#c5bc5e,#d1bb59,#dbba55,#e4b951,#ecb94c,#f3b948,#f8ba44,#fbbc41,#fdbe3e,#febf3c,#fec03c,#febf3c,#fdbe3d,#fcbd3f,#f9bb43,#f5ba47,#eeb94b,#e7b94f,#deba53,#d4bb58,#c8bc5d,#bbbd62,#acbe68)"></i><i style="background:linear-gradient(90deg,#127cd8,#1482d5,#1389d3,#0e92d2,#089bd0,#06a2cb,#06a8c4,#0cadbc,#18b2b2,#28b6a7,#3bb99c,#51bc90,#67be85,#7dbf7b,#8fbf73,#a0be6d,#afbe67,#bcbd62,#c8bc5d,#d3bb58,#dcba54,#e4b950,#ebb94d,#f1b949,#f6ba46,#f9bb44,#fabc42,#fbbc41,#fbbc41,#fabb42,#f8ba44,#f4ba47,#efb94b,#e9b94e,#e1b952,#d8ba56,#cdbb5b,#c2bc5f,#b4bd65,#a5be6b)"></i><i style="background:linear-gradient(90deg,#0e76dc,#127cd8,#1482d5,#128ad3,#0c94d2,#079dcf,#06a4ca,#07a9c2,#0faeb9,#1db3af,#2eb7a3,#42bb98,#58bd8c,#6fbf81,#83bf79,#95bf71,#a5be6b,#b3bd65,#bfbc60,#cabb5c,#d4bb58,#ddba54,#e4b951,#eab94e,#efb94b,#f2b948,#f5ba47,#f6ba46,#f6ba46,#f4ba47,#f2b949,#eeb94b,#e9b94e,#e3b951,#dbba55,#d2bb59,#c7bc5d,#bbbd62,#adbe68,#9dbe6e)"></i><i style="background:linear-gradient(90deg,#0770df,#0e76dc,#127dd8,#1484d4,#118cd2,#0a96d1,#069fce,#06a6c7,#09abbf,#14b0b5,#23b4ab,#35b89f,#4abc93,#60be88,#76bf7e,#89bf76,#9abf6f,#a9be69,#b6bd64,#c2bc5f,#ccbb5b,#d5bb58,#dcba54,#e3b951,#e8b94f,#ecb94d,#eeb94b,#f0b94a,#f0b94a,#eeb94b,#ecb94d,#e8b94f,#e3b951,#dcba54,#d4bb58,#cbbb5c,#c0bc60,#b4bd65,#a6be6b,#95bf71)"></i><i style="background:linear-gradient(90deg,#0269e1,#0870df,#0e77db,#137ed7,#1486d4,#108fd2,#0899d1,#06a1cc,#06a8c5,#0cadbc,#19b2b2,#29b6a7,#3cba9b,#52bd8f,#68be84,#7dbf7b,#8fbf74,#9ebe6d,#acbe68,#b8bd63,#c3bc5f,#ccbb5b,#d4bb58,#dbba55,#e0ba52,#e4b950,#e7b94f,#e9b94e,#e9b94e,#e8b94f,#e5b950,#e1b952,#dcba54,#d6ba57,#cebb5a,#c4bc5e,#b9bd63,#acbe68,#9ebe6e,#8cbf75)"></i><i style="background:linear-gradient(90deg,#0761e0,#026ae1,#0871de,#1078da,#1480d6,#1388d3,#0d92d2,#079cd0,#06a4ca,#07aac2,#10afb8,#1fb3ae,#30b7a3,#44bb97,#59bd8b,#6fbf81,#83bf79,#94bf72,#a2be6c,#afbe67,#babd62,#c4bc5e,#ccbb5b,#d3bb58,#d9ba56,#ddba54,#e0ba52,#e2b952,#e2b952,#e1b952,#dfba53,#dbba55,#d6ba57,#cfbb5a,#c7bc5d,#bdbd61,#b2bd66,#a5be6b,#95bf71,#83bf79)"></i><i style="background:linear-gradient(90deg,#1d54d6,#0561e0,#036be1,#0a72de,#117ad9,#1482d5,#128bd2,#0b96d1,#069fce,#06a6c7,#09acbe,#15b0b4,#25b5aa,#37b99e,#4cbc93,#61be87,#76bf7e,#88bf76,#98bf70,#a5be6b,#b1bd66,#bbbd62,#c4bc5e,#cbbb5b,#d1bb59,#d6ba57,#d9ba56,#dbba55,#dbba55,#daba55,#d8ba56,#d4bb58,#cfbb5a,#c8bc5d,#c0bc60,#b6bd64,#aabe69,#9cbf6e,#8cbf75,#79bf7d)"></i><i style="background:linear-gradient(90deg,#2d48c3,#1b56d7,#0363e1,#046ce0,#0c74dd,#127cd8,#1485d4,#108fd2,#0899d1,#06a2cc,#06a8c4,#0daebb,#1bb2b0,#2cb6a5,#3fba9a,#53bd8e,#69be84,#7cbf7b,#8dbf75,#9bbf6f,#a8be6a,#b3bd65,#bcbd62,#c3bc5f,#c9bb5c,#cebb5a,#d1bb59,#d3bb58,#d4bb58,#d3bb58,#d1bb59,#cdbb5b,#c8bc5d,#c1bc60,#b8bd63,#aebe67,#a2be6c,#94bf72,#82bf79,#6ebf81)"></i><i style="background:linear-gradient(90deg,#343eb0,#2c49c5,#1658da,#0265e1,#066fdf,#0e77db,#137fd7,#1388d3,#0d93d2,#079dcf,#06a4c9,#08aac0,#12afb7,#21b4ac,#33b8a1,#46bb95,#5bbd8b,#6fbf81,#81bf79,#91bf73,#9ebe6e,#a9be69,#b3bd65,#bbbd62,#c1bc5f,#c6bc5d,#cabb5c,#ccbb5b,#cdbb5b,#ccbb5b,#c9bb5c,#c6bc5e,#c0bc60,#b9bd63,#b1bd66,#a6be6a,#99bf6f,#8abf76,#78bf7d,#63be87)"></i></div>
<div class="cb" style="left:325.40px;top:20.90px;width:12.40px;height:74.60px;background:linear-gradient(180deg,#f9fb0e,#f5eb18,#f5de21,#f9d329,#fec932,#febf3c,#f2b949,#e3b951,#d3bb58,#c2bc5f,#b1bd66,#9fbe6d,#8bbf75,#75bf7e,#5ebe89,#47bb95,#33b8a1,#21b4ac,#13b0b6,#09abbf,#06a6c7,#069fce,#0a97d1,#118dd2,#1484d4,#127cd8,#0c74dd,#046ce0,#0462e0,#2152d3,#3243b9,#36369f,#352a87)"></div>
<div class="hm" style="left:401.20px;top:22.80px;width:97.00px;height:74.50px"><i style="background:linear-gradient(90deg,#8abf76,#91bf73,#98bf70,#9ebe6e,#a3be6c,#a7be6a,#aabe69,#acbe68,#adbe67,#aebe67,#adbe67,#acbe68,#a9be69,#a6be6b,#a1be6c,#9bbf6f,#94bf72,#8bbf75,#81bf7a,#75bf7f,#67be85,#58bd8c,#49bb94,#39b99d,#2bb6a6,#1eb3ae,#12afb7,#09abbf,#06a7c6,#06a1cc,#089ad0,#0e91d2,#1388d3,#1480d6,#117ada,#0a73dd,#046ce0,#0364e1,#1559da,#284dca)"></i><i style="background:linear-gradient(90deg,#93bf72,#9abf6f,#a0be6d,#a6be6b,#aabe69,#aebe67,#b2bd66,#b4bd65,#b5bd64,#b6bd64,#b6bd64,#b4bd65,#b2bd66,#afbe67,#aabe69,#a5be6b,#9ebe6e,#96bf71,#8dbf75,#82bf79,#75bf7f,#66be85,#57bd8d,#46bb95,#37b99e,#28b6a7,#1bb2b0,#0fafb9,#08aac1,#06a5c8,#06a0cd,#0998d1,#108fd2,#1486d3,#137fd7,#1078da,#0972de,#036be0,#0363e1,#1459da)"></i><i style="background:linear-gradient(90deg,#9bbf6f,#a1be6c,#a8be6a,#adbe68,#b2bd66,#b6bd64,#b9bd63,#bbbd62,#bdbd61,#bebc61,#bebc61,#bcbd61,#babd62,#b7bd64,#b3bd65,#aebe67,#a8be6a,#a0be6d,#98bf70,#8ebf74,#82bf79,#74bf7f,#65be86,#55bd8e,#44bb97,#34b8a0,#25b5a9,#18b2b2,#0daeba,#07a9c2,#06a4c9,#079ece,#0a96d1,#118dd2,#1485d4,#137ed7,#0f78db,#0971de,#036be1,#0364e1)"></i><i style="background:linear-gradient(90deg,#a2be6c,#a9be69,#afbe67,#b4bd65,#b9bd63,#bdbd61,#c0bc60,#c3bc5f,#c4bc5e,#c5bc5e,#c5bc5e,#c4bc5e,#c2bc5f,#c0bc60,#bcbd62,#b7bd64,#b1bd66,#aabe69,#a2be6c,#99bf70,#8ebf74,#82bf79,#73bf7f,#63be86,#52bd8f,#41ba98,#31b8a2,#23b4ab,#16b1b4,#0badbc,#06a8c4,#06a3ca,#079dcf,#0c94d2,#128cd2,#1484d4,#137dd8,#0e77db,#0871de,#036be0)"></i><i style="background:linear-gradient(90deg,#a9be69,#b0bd66,#b6bd64,#bbbd62,#c0bc60,#c4bc5e,#c7bc5d,#cabb5c,#cbbb5b,#ccbb5b,#cdbb5b,#ccbb5b,#cabb5c,#c8bc5d,#c4bc5e,#c0bc60,#bbbd62,#b4bd65,#adbe68,#a4be6b,#9abf6f,#8ebf74,#81bf79,#72bf80,#61be87,#50bc90,#3eba9a,#2eb7a3,#20b4ad,#14b0b6,#0aacbe,#06a7c5,#06a2cc,#079bd0,#0d93d2,#128ad3,#1483d5,#127dd8,#0e77db,#0971de)"></i><i style="background:linear-gradient(90deg,#b0bd66,#b7bd64,#bcbd61,#c2bc5f,#c6bc5d,#cabb5c,#cebb5a,#d0bb59,#d2bb58,#d4bb58,#d4bb58,#d3bb58,#d2bb59,#d0bb5a,#cdbb5b,#c9bc5d,#c3bc5f,#bdbc61,#b6bd64,#aebe67,#a5be6b,#9abf6f,#8ebf74,#80bf7a,#70bf81,#5fbe89,#4dbc92,#3cba9c,#2cb7a5,#1db3af,#11afb7,#09abbf,#06a6c7,#06a1cd,#089ad0,#0e92d2,#1389d3,#1482d5,#127cd8,#0e77db)"></i><i style="background:linear-gradient(90deg,#b7bd64,#bdbd61,#c3bc5f,#c8bc5d,#cdbb5b,#d1bb59,#d4bb58,#d7ba57,#d9ba56,#daba55,#dbba55,#dbba55,#d9ba55,#d7ba56,#d5bb58,#d1bb59,#ccbb5b,#c6bc5d,#c0bc60,#b8bd63,#afbe67,#a5be6b,#9abf6f,#8dbf74,#7ebf7a,#6ebf82,#5cbe8a,#4abc93,#38b99d,#29b6a7,#1bb2b0,#0faeb9,#08aac1,#06a5c8,#06a0cd,#0899d1,#0e91d2,#1389d3,#1482d5,#127cd8)"></i><i style="background:linear-gradient(90deg,#bdbd61,#c3bc5f,#c9bc5c,#cebb5a,#d3bb58,#d7ba57,#daba55,#ddba54,#dfba53,#e1b952,#e2b952,#e2b952,#e1ba52,#dfba53,#dcba54,#d9ba56,#d4bb58,#cfbb5a,#c9bc5d,#c1bc5f,#b9bd63,#b0bd67,#a5be6b,#99bf70,#8cbf75,#7dbf7b,#6bbf83,#59bd8b,#47bb95,#36b89f,#26b5a9,#19b2b2,#0daeba,#07a9c2,#06a5c9,#069fce,#0998d1,#0f90d2,#1388d3,#1482d5)"></i><i style="background:linear-gradient(90deg,#c3bc5f,#c9bc5c,#cebb5a,#d4bb58,#d8ba56,#ddba54,#e0ba52,#e3b951,#e6b950,#e7b94f,#e8b94f,#e8b94e,#e8b94f,#e6b950,#e4b951,#e0ba52,#dcba54,#d7ba56,#d1bb59,#cabb5c,#c3bc5f,#babd63,#b0bd67,#a5be6b,#98bf70,#8abf76,#7abf7c,#69be84,#56bd8d,#44bb97,#33b8a1,#24b5aa,#16b1b3,#0cadbc,#07a9c3,#06a4ca,#069ece,#0997d1,#0f90d2,#1388d3)"></i><i style="background:linear-gradient(90deg,#c8bc5d,#cebb5a,#d4bb58,#d9ba56,#deba53,#e2b951,#e6b950,#e9b94e,#ecb94d,#edb94c,#efb94b,#efb94b,#eeb94b,#edb94c,#ebb94d,#e8b94f,#e4b951,#dfba53,#daba55,#d3bb58,#ccbb5b,#c3bc5f,#babd62,#b0be67,#a4be6b,#97bf70,#88bf76,#78bf7d,#66be85,#53bd8f,#40ba99,#30b7a3,#21b4ac,#14b0b5,#0bacbd,#06a8c4,#06a3ca,#079ecf,#0a97d1,#0f90d2)"></i><i style="background:linear-gradient(90deg,#cdbb5b,#d3bb58,#d9ba56,#deba53,#e3b951,#e8b94f,#ebb94d,#efb94b,#f1b949,#f3ba48,#f4ba47,#f5ba47,#f5ba47,#f4ba48,#f2b949,#efb94b,#ecb94d,#e7b94f,#e2b952,#dcba54,#d5ba57,#cdbb5b,#c4bc5e,#babd62,#afbe67,#a3be6c,#95bf71,#86bf77,#75bf7e,#63be87,#4fbc90,#3dba9a,#2db7a4,#1fb3ae,#13b0b6,#0aacbe,#06a7c5,#06a3cb,#079dcf,#0a97d1)"></i><i style="background:linear-gradient(90deg,#d2bb59,#d8ba56,#deba53,#e3b951,#e8b94f,#edb94c,#f1b94a,#f4ba47,#f6ba45,#f8bb44,#f9bb43,#fabc42,#fabc42,#f9bb43,#f8ba44,#f6ba46,#f3b948,#efb94b,#eab94e,#e4b951,#ddba54,#d6ba57,#cdbb5b,#c4bc5f,#b9bd63,#aebe67,#a1be6c,#93bf72,#84bf78,#72bf80,#5fbe88,#4cbc92,#3ab99c,#2bb6a6,#1db3af,#11afb7,#09abbf,#06a7c6,#06a2cb,#079dcf)"></i><i style="background:linear-gradient(90deg,#d7ba57,#ddba54,#e2b951,#e8b94f,#edb94c,#f1b949,#f5ba46,#f9bb44,#fabc41,#fcbd3f,#fdbe3e,#fdbe3d,#febe3d,#fdbe3d,#fcbd3e,#fbbc40,#f9bb43,#f6ba46,#f1b949,#ecb94c,#e6b950,#deba53,#d6ba57,#cdbb5b,#c3bc5f,#b9bd63,#adbe68,#9fbe6d,#91bf73,#81bf79,#6fbf81,#5cbe8a,#49bc94,#37b99e,#28b6a8,#1bb2b0,#10afb8,#08abc0,#06a7c6,#06a2cb)"></i><i style="background:linear-gradient(90deg,#dbba55,#e1ba52,#e7b94f,#ecb94c,#f1b949,#f6ba46,#f9bb43,#fcbd40,#fdbe3d,#fec03b,#fec13a,#fec239,#fec238,#fec239,#fec139,#fec03b,#fdbe3d,#fbbd40,#f8bb44,#f4ba48,#eeb94b,#e7b94f,#dfba53,#d6ba57,#cdbb5b,#c3bc5f,#b7bd64,#abbe68,#9dbe6e,#8ebf74,#7ebf7b,#6cbf83,#58bd8c,#46bb96,#35b8a0,#26b5a9,#19b2b2,#0faeb9,#08aac0,#06a7c6)"></i><i style="background:linear-gradient(90deg,#dfba53,#e5b950,#eab94d,#f0b94a,#f5ba47,#f9bb43,#fcbd3f,#febf3c,#fec139,#ffc337,#ffc536,#fec635,#fec635,#fec635,#fec535,#ffc436,#ffc338,#fec03b,#fdbe3e,#fabc42,#f5ba46,#efb94b,#e7b94f,#dfba53,#d6ba57,#ccbb5b,#c1bc5f,#b6bd64,#a9be69,#9bbf6f,#8cbf75,#7bbf7c,#68be84,#55bd8e,#43bb97,#32b8a1,#24b5aa,#18b1b3,#0eaeba,#08aac1)"></i><i style="background:linear-gradient(90deg,#e2b951,#e8b94f,#eeb94b,#f4ba48,#f9bb44,#fcbd3f,#febf3c,#fec239,#ffc436,#fec634,#fec833,#fec932,#fdca31,#fdca31,#fec931,#fec832,#fec734,#fec536,#fec238,#febf3c,#fbbc41,#f6ba46,#f0b94a,#e8b94f,#dfba53,#d5ba57,#cbbb5c,#c0bc60,#b4bd65,#a7be6a,#98bf70,#89bf76,#77bf7e,#65be86,#52bd8f,#40ba99,#30b7a3,#22b4ab,#17b1b3,#0daeba)"></i><i style="background:linear-gradient(90deg,#e5b950,#ebb94d,#f1b949,#f7ba45,#fbbc41,#febf3c,#fec239,#fec536,#fec733,#fec931,#fdcb30,#fccc2f,#fccd2e,#fccd2e,#fccd2e,#fccc2f,#fdcb30,#fec932,#fec734,#ffc437,#fec03b,#fcbd3f,#f7ba45,#f0b94a,#e7b94f,#deba53,#d4bb58,#cabb5c,#bebc61,#b2bd66,#a4be6b,#95bf71,#85bf78,#74bf7f,#61be88,#4ebc91,#3dba9b,#2eb7a4,#21b4ac,#16b1b4)"></i><i style="background:linear-gradient(90deg,#e8b94f,#eeb94b,#f4ba47,#f9bb43,#fdbe3e,#fec13a,#ffc436,#fec733,#fdca31,#fdcc2f,#fcce2e,#fbcf2c,#fbd02c,#fbd12b,#fbd12b,#fbd02c,#fbcf2d,#fccd2e,#fdcb30,#fec832,#fec536,#fec13a,#fcbd3f,#f7ba45,#f0b94a,#e7b94f,#ddba54,#d3bb58,#c8bc5d,#bcbd62,#afbe67,#a1be6c,#92bf72,#82bf79,#70bf81,#5dbe89,#4bbc93,#3ab99c,#2cb7a5,#20b4ad)"></i><i style="background:linear-gradient(90deg,#ebb94d,#f1b94a,#f7ba45,#fbbc40,#febf3c,#ffc337,#fec634,#fdc931,#fccc2f,#fccf2d,#fbd12b,#fad22a,#f9d329,#f9d429,#f9d429,#f9d429,#fad32a,#fad12b,#fbcf2d,#fccd2f,#fdc931,#fec635,#fec239,#fcbd3f,#f7ba45,#efb94b,#e6b950,#dcba54,#d1bb59,#c6bc5e,#babd63,#acbe68,#9ebe6d,#8fbf74,#7ebf7b,#6cbf82,#5abd8b,#48bb94,#38b99e,#2ab6a6)"></i><i style="background:linear-gradient(90deg,#edb94c,#f3ba48,#f9bb44,#fdbd3e,#fec13a,#fec536,#fec832,#fdcc30,#fcce2d,#fad12b,#fad329,#f9d528,#f8d627,#f8d727,#f8d726,#f8d727,#f8d627,#f9d528,#fad32a,#fbd12b,#fcce2e,#fdca31,#fec634,#fec239,#fcbd3f,#f7ba45,#eeb94b,#e4b950,#daba55,#cfbb5a,#c3bc5f,#b7bd64,#a9be69,#9bbf6f,#8bbf75,#7bbf7c,#69be84,#56bd8d,#45bb96,#36b99f)"></i><i style="background:linear-gradient(90deg,#efb94b,#f5ba47,#fabc42,#febf3d,#ffc238,#fec634,#fdca31,#fccd2e,#fbd02c,#fad329,#f8d628,#f8d726,#f7d925,#f7da24,#f7db24,#f7da24,#f7da24,#f7d925,#f8d727,#f9d528,#fad22a,#fbcf2d,#fdcb30,#fec734,#fec239,#fcbd3f,#f6ba46,#edb94c,#e3b951,#d8ba56,#cdbb5b,#c1bc60,#b4bd65,#a6be6a,#98bf70,#88bf77,#77bf7e,#65be86,#53bd8f,#43bb97)"></i><i style="background:linear-gradient(90deg,#f0b94a,#f6ba46,#fbbc41,#fec03b,#ffc437,#fec833,#fdcc30,#fbcf2d,#fad22a,#f9d528,#f8d826,#f7da24,#f6dc23,#f6dd22,#f6de22,#f6de22,#f6dd22,#f6dc23,#f6db24,#f7d925,#f8d627,#fad32a,#fbcf2d,#fdcb30,#fec634,#fec139,#fbbd40,#f4ba47,#ebb94d,#e1ba52,#d6ba57,#cabb5c,#bebc61,#b1bd66,#a3be6c,#94bf72,#84bf78,#73bf7f,#61be87,#50bc90)"></i><i style="background:linear-gradient(90deg,#f1b94a,#f7ba45,#fcbd3f,#fec13a,#fec536,#fec932,#fccd2e,#fbd02c,#f9d429,#f8d727,#f7da25,#f6dc23,#f5de21,#f5e020,#f5e11f,#f5e11f,#f5e11f,#f5e020,#f5df21,#f6dd22,#f7da24,#f8d727,#f9d329,#fbcf2c,#fdcb30,#fec634,#fec13a,#fabc41,#f3b948,#e9b94e,#deba53,#d3bb58,#c7bc5d,#babd62,#adbe68,#9fbe6d,#90bf73,#80bf7a,#6fbf81,#5ebe89)"></i><i style="background:linear-gradient(90deg,#f2b949,#f8ba44,#fcbd3f,#fec139,#fec635,#fdca31,#fcce2e,#fad22b,#f9d528,#f7d825,#f6dc23,#f5de21,#f5e120,#f5e21e,#f5e41d,#f5e41d,#f5e41d,#f5e41d,#f5e21e,#f5e020,#f6de21,#f6db24,#f8d726,#f9d429,#fbcf2c,#fdcb30,#fec535,#fec03b,#f9bb43,#f0b94a,#e6b950,#dbba55,#d0bb5a,#c3bc5f,#b7bd64,#a9be69,#9bbf6f,#8cbf75,#7cbf7c,#6bbe83)"></i><i style="background:linear-gradient(90deg,#f2b949,#f8bb44,#fdbe3e,#fec239,#fec634,#fdcb30,#fbcf2d,#fad32a,#f8d627,#f7da24,#f6dd22,#f5e020,#f5e31e,#f5e51c,#f5e61b,#f5e71b,#f5e81b,#f5e71b,#f5e61c,#f5e41d,#f5e21f,#f5df21,#f6db23,#f8d826,#f9d329,#fbcf2d,#fdca31,#ffc436,#febf3d,#f7ba45,#eeb94b,#e3b951,#d8ba56,#ccbb5b,#c0bc60,#b3bd65,#a5be6b,#97bf70,#88bf77,#78bf7d)"></i><i style="background:linear-gradient(90deg,#f2b949,#f8bb44,#fdbe3e,#fec239,#fec734,#fdcb30,#fbcf2c,#f9d329,#f8d726,#f6db24,#f5df21,#f5e21f,#f5e51d,#f5e71b,#f5e91a,#f5ea19,#f5eb18,#f5ea19,#f5ea19,#f5e81a,#f5e61c,#f5e31e,#f5df20,#f6dc23,#f8d726,#fad32a,#fcce2d,#fec932,#ffc337,#fcbd3f,#f5ba47,#ebb94d,#e0ba53,#d4bb58,#c8bc5d,#bcbd62,#afbe67,#a1be6c,#92bf72,#83bf78)"></i><i style="background:linear-gradient(90deg,#f2b949,#f8ba44,#fdbe3e,#fec239,#fec734,#fdcb30,#fbd02c,#f9d429,#f7d826,#f6dc23,#f5e020,#f5e31e,#f5e61b,#f5e91a,#f5eb18,#f5ed17,#f5ee16,#f5ee16,#f5ed17,#f5ec18,#f5ea19,#f5e71b,#f5e31d,#f5e020,#f6db23,#f8d727,#fad22a,#fccd2e,#fec733,#fec139,#fabc41,#f2b949,#e7b94f,#dcba54,#d0bb59,#c4bc5e,#b8bd63,#aabe69,#9cbf6e,#8ebf74)"></i><i style="background:linear-gradient(90deg,#f1b94a,#f7ba45,#fcbd3f,#fec239,#fec734,#fdcb30,#fbd02c,#f9d429,#f7d826,#f6dd22,#f5e11f,#f5e41d,#f5e81a,#f5eb18,#f5ed17,#f6ef15,#f6f015,#f6f114,#f6f015,#f6ef15,#f5ed17,#f5eb18,#f5e71b,#f5e41d,#f5df20,#f6db24,#f8d627,#fad12b,#fdcb30,#fec635,#febf3c,#f8bb44,#eeb94b,#e3b951,#d8ba56,#ccbb5b,#c0bc60,#b3bd65,#a6be6b,#98bf70)"></i><i style="background:linear-gradient(90deg,#f0b94a,#f6ba45,#fcbd3f,#fec13a,#fec634,#fdcb30,#fbd02c,#f9d429,#f7d925,#f6dd22,#f5e11f,#f5e51c,#f5e91a,#f5ec17,#f6ef15,#f6f114,#f6f313,#f7f413,#f7f413,#f6f313,#f6f114,#f5ee16,#f5eb18,#f5e71b,#f5e31e,#f5df21,#f7da24,#f9d528,#fbcf2c,#fdca31,#ffc337,#fdbd3e,#f5ba47,#eab94d,#dfba53,#d4bb58,#c8bc5d,#bbbd62,#aebe67,#a1be6d)"></i><i style="background:linear-gradient(90deg,#eeb94b,#f5ba46,#fbbc41,#fec03a,#fec535,#fdca30,#fbcf2c,#f9d429,#f7d925,#f6dd22,#f5e21f,#f5e61c,#f5ea19,#f5ee16,#f6f114,#f7f313,#f7f512,#f8f611,#f8f611,#f7f611,#f7f412,#f6f214,#f6ef16,#f5eb18,#f5e71b,#f5e21e,#f6dd22,#f7d826,#fad329,#fcce2e,#fec833,#fec13a,#fabc42,#f1b94a,#e6b950,#dbba55,#cfbb5a,#c3bc5f,#b6bd64,#a9be69)"></i><i style="background:linear-gradient(90deg,#ecb94c,#f3ba48,#fabc42,#fec03c,#ffc536,#fdca31,#fbcf2d,#f9d429,#f7d826,#f6dd22,#f5e21f,#f5e61c,#f5ea19,#f5ef16,#f6f214,#f7f512,#f8f710,#f8f80f,#f8f90f,#f8f90f,#f8f710,#f7f511,#f6f313,#f6ef16,#f5eb18,#f5e61c,#f5e11f,#f6dc23,#f8d727,#fad12b,#fdcb30,#fec535,#febf3d,#f7ba45,#ecb94c,#e1b952,#d6ba57,#cabb5c,#bdbd61,#b0bd66)"></i><i style="background:linear-gradient(90deg,#eab94e,#f1b949,#f9bb44,#fdbe3d,#ffc337,#fec932,#fcce2e,#fad32a,#f8d826,#f6dd22,#f5e11f,#f5e61c,#f5eb18,#f6ef16,#f6f313,#f7f611,#f8f90f,#f9fa0e,#f9fb0e,#f9fb0e,#f9fa0e,#f8f80f,#f7f611,#f6f213,#f5ee16,#f5ea19,#f5e51d,#f5df20,#f7da24,#f9d528,#fbcf2d,#fec932,#fec238,#fbbc40,#f2b949,#e7b94f,#dcba54,#d0bb59,#c4bc5e,#b7bd63)"></i><i style="background:linear-gradient(90deg,#e7b94f,#efb94b,#f6ba46,#fcbd3f,#fec238,#fec733,#fccd2f,#fad22a,#f8d727,#f6dc23,#f5e11f,#f5e61c,#f5eb18,#f6ef15,#f7f313,#f8f710,#f9fa0e,#f9fb0e,#f9fb0e,#f9fb0e,#f9fb0e,#f9fb0e,#f8f90f,#f7f611,#f6f214,#f5ed17,#f5e81a,#f5e31e,#f6dd22,#f7d826,#fad22a,#fdcc2f,#fec635,#febf3c,#f7ba45,#edb94c,#e2b952,#d6ba57,#cabb5c,#bebc61)"></i><i style="background:linear-gradient(90deg,#e4b951,#ecb94d,#f4ba48,#fabc41,#fec03a,#fec635,#fdcb30,#fbd12b,#f8d627,#f6db24,#f5e020,#f5e51c,#f5ea19,#f6ef16,#f7f313,#f8f710,#f9fa0e,#f9fb0e,#f9fb0e,#f9fb0e,#f9fb0e,#f9fb0e,#f9fb0e,#f8f90f,#f7f512,#f6f115,#f5ec18,#f5e61c,#f5e11f,#f6db24,#f9d528,#fbcf2c,#fec932,#ffc238,#fbbc40,#f2b949,#e7b94f,#dcba54,#d0bb59,#c4bc5e)"></i><i style="background:linear-gradient(90deg,#e0ba52,#e8b94e,#f1b94a,#f8bb44,#febf3d,#ffc436,#fdca31,#fbcf2d,#f9d528,#f7da25,#f5df21,#f5e41d,#f5ea19,#f6ef16,#f7f313,#f8f710,#f9fb0e,#f9fb0e,#f9fb0e,#f9fb0e,#f9fb0e,#f9fb0e,#f9fb0e,#f9fb0e,#f8f810,#f7f413,#f6ef16,#f5e919,#f5e41d,#f5de21,#f7d826,#fad22a,#fdcc2f,#fec635,#febf3c,#f7ba45,#ecb94c,#e1b952,#d5ba57,#c9bb5c)"></i><i style="background:linear-gradient(90deg,#dcba54,#e5b950,#edb94c,#f5ba46,#fcbd3f,#fec238,#fec833,#fcce2e,#fad32a,#f7d826,#f6de22,#f5e31e,#f5e91a,#f5ee16,#f6f313,#f8f710,#f9fb0e,#f9fb0e,#f9fb0e,#f9fb0e,#f9fb0e,#f9fb0e,#f9fb0e,#f9fb0e,#f9fa0e,#f8f611,#f6f214,#f5ec17,#f5e71b,#f5e11f,#f6db24,#f9d528,#fbcf2d,#fec932,#fec239,#fabc41,#f1b949,#e6b950,#daba55,#cebb5a)"></i><i style="background:linear-gradient(90deg,#d8ba56,#e0ba52,#e9b94e,#f2b949,#fabb42,#fec03b,#fec635,#fdcc30,#fad12b,#f8d727,#f6dc23,#f5e21f,#f5e71b,#f5ed17,#f6f214,#f8f711,#f9fb0e,#f9fb0e,#f9fb0e,#f9fb0e,#f9fb0e,#f9fb0e,#f9fb0e,#f9fb0e,#f9fb0e,#f8f90f,#f7f412,#f6ef16,#f5e919,#f5e31d,#f6dd22,#f8d726,#fad12b,#fdcb30,#ffc536,#fdbe3e,#f5ba46,#eab94d,#dfba53,#d3bb58)"></i><i style="background:linear-gradient(90deg,#d3bb58,#dcba54,#e5b950,#eeb94b,#f6ba45,#fdbe3e,#ffc337,#fec931,#fbcf2d,#f9d528,#f7da24,#f5e020,#f5e61c,#f5eb18,#f6f115,#f7f511,#f9fa0e,#f9fb0e,#f9fb0e,#f9fb0e,#f9fb0e,#f9fb0e,#f9fb0e,#f9fb0e,#f9fb0e,#f9fb0e,#f8f611,#f6f114,#f5ec18,#f5e61c,#f5e020,#f7da24,#f9d429,#fcce2e,#fec733,#fec03b,#f9bb44,#eeb94b,#e3b951,#d7ba56)"></i><i style="background:linear-gradient(90deg,#cebb5a,#d7ba57,#e0ba53,#e9b94e,#f2b949,#fabc41,#fec13a,#fec734,#fccd2e,#fad32a,#f7d826,#f5de21,#f5e41d,#f5e919,#f6ef16,#f7f412,#f8f90f,#f9fb0e,#f9fb0e,#f9fb0e,#f9fb0e,#f9fb0e,#f9fb0e,#f9fb0e,#f9fb0e,#f9fb0e,#f8f80f,#f7f313,#f5ee16,#f5e81a,#f5e21e,#f6dc23,#f8d627,#fbd02c,#fec931,#ffc238,#fbbc41,#f2b949,#e7b94f,#dbba55)"></i><i style="background:linear-gradient(90deg,#c8bc5d,#d1bb59,#dbba55,#e4b950,#eeb94b,#f7ba45,#fdbe3d,#ffc436,#fdca30,#fbd02c,#f8d627,#f6dc23,#f5e11f,#f5e71b,#f5ed17,#f6f213,#f8f710,#f9fb0e,#f9fb0e,#f9fb0e,#f9fb0e,#f9fb0e,#f9fb0e,#f9fb0e,#f9fb0e,#f9fb0e,#f9fa0e,#f7f511,#f6f015,#f5ea19,#f5e41d,#f5de21,#f7d826,#fad22b,#fdcb30,#ffc536,#fdbe3e,#f5ba47,#eab94e,#deba53)"></i><i style="background:linear-gradient(90deg,#c2bc5f,#cbbb5b,#d5ba57,#dfba53,#e9b94e,#f2b949,#fbbc41,#fec139,#fec833,#fcce2e,#f9d429,#f7d925,#f5df21,#f5e51c,#f5eb18,#f6f015,#f7f611,#f9fa0e,#f9fb0e,#f9fb0e,#f9fb0e,#f9fb0e,#f9fb0e,#f9fb0e,#f9fb0e,#f9fb0e,#f9fb0e,#f8f711,#f6f114,#f5ec18,#f5e61c,#f5e020,#f7d925,#f9d329,#fccd2e,#fec634,#febf3c,#f8ba45,#edb94c,#e1b952)"></i><i style="background:linear-gradient(90deg,#bbbd62,#c5bc5e,#cfbb5a,#d9ba56,#e3b951,#edb94c,#f7ba45,#fdbe3d,#fec536,#fdcb30,#fad12b,#f8d727,#f6dd22,#f5e21e,#f5e81a,#f5ee16,#f7f313,#f8f80f,#f9fb0e,#f9fb0e,#f9fb0e,#f9fb0e,#f9fb0e,#f9fb0e,#f9fb0e,#f9fb0e,#f9fb0e,#f8f810,#f6f313,#f5ed17,#f5e71b,#f5e11f,#f6db24,#f9d528,#fccf2d,#fec833,#fec13a,#f9bb43,#efb94b,#e4b951)"></i><i style="background:linear-gradient(90deg,#b4bd65,#bebc61,#c8bc5d,#d3bb58,#ddba54,#e8b94f,#f2b949,#fabc41,#fec139,#fec833,#fcce2d,#f9d429,#f7da24,#f5e020,#f5e61c,#f5eb18,#f6f114,#f7f611,#f9fa0e,#f9fb0e,#f9fb0e,#f9fb0e,#f9fb0e,#f9fb0e,#f9fb0e,#f9fb0e,#f9fb0e,#f8f80f,#f7f313,#f5ee16,#f5e81a,#f5e21e,#f6dc23,#f8d627,#fbd02c,#fec932,#ffc238,#fbbc41,#f1b949,#e6b950)"></i><i style="background:linear-gradient(90deg,#acbe68,#b7bd64,#c1bc5f,#ccbb5b,#d7ba57,#e2b952,#ecb94c,#f6ba46,#fdbe3d,#fec536,#fdcb30,#fad12b,#f8d727,#f6dd22,#f5e31e,#f5e91a,#f5ee16,#f7f313,#f8f810,#f9fb0e,#f9fb0e,#f9fb0e,#f9fb0e,#f9fb0e,#f9fb0e,#f9fb0e,#f9fb0e,#f8f90f,#f7f412,#f6ef16,#f5e91a,#f5e31e,#f6dd22,#f8d727,#fbd12b,#fdca31,#ffc337,#fcbd3f,#f3b948,#e7b94f)"></i><i style="background:linear-gradient(90deg,#a4be6b,#afbe67,#babd62,#c5bc5e,#d0bb59,#dbba55,#e6b950,#f1b94a,#fabc42,#fec13a,#fec833,#fcce2d,#f9d429,#f7da24,#f5e020,#f5e61c,#f5eb18,#f6f115,#f7f511,#f9f90f,#f9fb0e,#f9fb0e,#f9fb0e,#f9fb0e,#f9fb0e,#f9fb0e,#f9fb0e,#f8f90f,#f7f412,#f6ef16,#f5e919,#f5e41d,#f6de22,#f8d826,#fad12b,#fdcb30,#ffc436,#fdbd3e,#f4ba47,#e9b94e)"></i><i style="background:linear-gradient(90deg,#9bbf6f,#a6be6a,#b2bd66,#bdbc61,#c9bc5c,#d4bb58,#e0ba53,#ebb94d,#f5ba46,#fdbe3e,#ffc436,#fdcb30,#fbd12b,#f8d727,#f6dd22,#f5e21e,#f5e81a,#f5ed17,#f6f213,#f8f710,#f9fa0e,#f9fb0e,#f9fb0e,#f9fb0e,#f9fb0e,#f9fb0e,#f9fb0e,#f8f810,#f7f412,#f6ef16,#f5ea19,#f5e41d,#f5de21,#f7d826,#fad22a,#fdcc30,#fec536,#fdbe3e,#f5ba47,#eab94e)"></i><i style="background:linear-gradient(90deg,#91bf73,#9dbe6e,#a9be69,#b5bd64,#c1bc60,#cdbb5b,#d9ba56,#e4b951,#efb94b,#f9bb43,#fec13a,#fec733,#fcce2e,#f9d429,#f7d925,#f5df21,#f5e51d,#f5ea19,#f6ef15,#f7f412,#f8f810,#f9fa0e,#f9fb0e,#f9fb0e,#f9fb0e,#f9fb0e,#f9fa0e,#f8f710,#f7f313,#f6ef16,#f5e919,#f5e41d,#f5de21,#f7d826,#fad22a,#fdcc2f,#fec535,#fdbe3d,#f5ba46,#eab94e)"></i><i style="background:linear-gradient(90deg,#86bf77,#93bf72,#a0be6d,#adbe68,#b9bd63,#c5bc5e,#d1bb59,#ddba54,#e9b94e,#f4ba48,#fcbd3f,#ffc337,#fdca31,#fbd02c,#f8d627,#f6dc23,#f5e11f,#f5e71b,#f5ec18,#f6f015,#f7f412,#f8f810,#f9fa0e,#f9fb0e,#f9fb0e,#f9fb0e,#f8f90f,#f7f611,#f6f213,#f5ee16,#f5e91a,#f5e41d,#f5de21,#f7d826,#fad22a,#fdcc2f,#fec535,#fdbe3d,#f5ba46,#eab94e)"></i><i style="background:linear-gradient(90deg,#7abf7c,#88bf76,#96bf71,#a3be6c,#b0bd66,#bdbd61,#cabb5c,#d6ba57,#e2b952,#edb94c,#f8ba44,#febf3c,#fec634,#fccd2f,#fad32a,#f7d826,#f6de22,#f5e31e,#f5e81a,#f5ed17,#f6f114,#f7f512,#f8f710,#f8f90f,#f8f90f,#f8f90f,#f8f710,#f7f512,#f6f114,#f5ed17,#f5e81a,#f5e31e,#f6dd22,#f7d826,#fad22a,#fdcc2f,#fec535,#fdbe3d,#f5ba46,#eab94e)"></i><i style="background:linear-gradient(90deg,#6ebf82,#7cbf7b,#8bbf75,#99bf70,#a7be6a,#b4bd65,#c2bc5f,#cebb5a,#daba55,#e6b94f,#f2b949,#fbbc41,#fec238,#fec932,#fbcf2d,#f9d528,#f7da24,#f5e020,#f5e51d,#f5e919,#f5ee16,#f6f114,#f7f412,#f7f611,#f8f611,#f8f611,#f7f512,#f6f313,#f6f015,#f5ec18,#f5e71b,#f5e21e,#f6dd22,#f8d726,#fad12b,#fdcb30,#ffc536,#fdbe3e,#f5ba47,#e9b94e)"></i><i style="background:linear-gradient(90deg,#60be88,#6fbf81,#7fbf7a,#8ebf74,#9dbe6e,#abbe68,#b9bd63,#c6bc5e,#d3bb58,#dfba53,#ebb94d,#f6ba46,#fdbe3d,#fec536,#fdcb30,#fad12b,#f8d727,#f6dc23,#f5e11f,#f5e61c,#f5ea19,#f5ee16,#f6f015,#f6f213,#f7f313,#f7f313,#f6f213,#f6f115,#f5ee16,#f5ea19,#f5e61c,#f5e11f,#f6dc23,#f8d627,#fbd12b,#fdcb30,#ffc436,#fcbd3f,#f4ba48,#e8b94f)"></i><i style="background:linear-gradient(90deg,#52bd8f,#61be87,#72bf80,#82bf79,#92bf72,#a1be6c,#b0be67,#bdbc61,#cbbb5c,#d7ba56,#e3b951,#efb94b,#f9bb43,#fec13a,#fec733,#fccd2e,#fad32a,#f7d826,#f6dd22,#f5e21e,#f5e61b,#f5ea19,#f5ed17,#f6ef16,#f6f015,#f6f115,#f6f015,#f5ee16,#f5eb18,#f5e81a,#f5e41d,#f5e020,#f7db24,#f9d528,#fbd02c,#fdca31,#ffc337,#fbbd40,#f2b949,#e7b94f)"></i><i style="background:linear-gradient(90deg,#44bb97,#53bd8f,#64be86,#75bf7e,#86bf77,#96bf71,#a6be6b,#b4bd65,#c2bc5f,#cfbb5a,#dcba54,#e8b94f,#f3ba48,#fcbd40,#ffc338,#fec931,#fbcf2d,#f9d428,#f7d925,#f5de21,#f5e21e,#f5e61c,#f5e919,#f5eb18,#f5ed17,#f5ed17,#f5ed17,#f5eb18,#f5e919,#f5e61c,#f5e21e,#f6de21,#f7d925,#f9d429,#fccf2d,#fec832,#fec239,#fabc41,#f1b94a,#e5b950)"></i><i style="background:linear-gradient(90deg,#37b99e,#45bb96,#55bd8d,#67be85,#79bf7d,#8bbf75,#9bbf6f,#aabe69,#b9bd63,#c7bc5d,#d4bb58,#e0ba52,#ecb94c,#f7ba45,#febf3d,#fec535,#fdcb30,#fbd12b,#f8d628,#f7da24,#f5df21,#f5e21e,#f5e51c,#f5e81a,#f5e919,#f5ea19,#f5ea19,#f5e91a,#f5e71b,#f5e41d,#f5e020,#f6dc23,#f8d726,#fad32a,#fccd2e,#fec733,#fec13a,#f9bb43,#efb94b,#e3b951)"></i><i style="background:linear-gradient(90deg,#2bb6a6,#38b99e,#47bb95,#59bd8c,#6cbf83,#7ebf7b,#90bf73,#a0be6d,#afbe67,#bebc61,#cbbb5b,#d8ba56,#e4b950,#f0b94a,#f9bb42,#fec13a,#fec734,#fccd2f,#fad22a,#f8d727,#f6db24,#f5de21,#f5e21f,#f5e41d,#f5e61c,#f5e71b,#f5e71b,#f5e61c,#f5e41d,#f5e11f,#f5de21,#f7da24,#f8d628,#fbd12b,#fdcb30,#fec535,#febf3c,#f7ba45,#ecb94c,#e0ba52)"></i><i style="background:linear-gradient(90deg,#20b4ad,#2cb6a5,#3ab99d,#4abc93,#5dbe8a,#70bf80,#83bf78,#95bf71,#a5be6b,#b4bd65,#c2bc5f,#d0bb5a,#dcba54,#e8b94e,#f3ba48,#fcbd40,#ffc338,#fec832,#fcce2e,#fad32a,#f8d727,#f7db24,#f6de21,#f5e020,#f5e21e,#f5e31e,#f5e31e,#f5e31e,#f5e11f,#f5df21,#f6dc23,#f7d826,#f9d429,#fbcf2d,#fdca31,#ffc437,#fdbd3e,#f5ba47,#e9b94e,#ddba54)"></i><i style="background:linear-gradient(90deg,#16b1b4,#20b4ad,#2db7a4,#3cba9b,#4ebc91,#62be87,#76bf7e,#89bf76,#9abf6f,#aabe69,#b9bd63,#c7bc5d,#d4bb58,#e1ba52,#ecb94c,#f6ba45,#fdbe3d,#ffc436,#fdca31,#fbcf2d,#fad32a,#f8d727,#f7da24,#f6dd22,#f5df21,#f5e020,#f5e020,#f5df20,#f5de21,#f6dc23,#f7d925,#f8d628,#fad12b,#fccd2e,#fec733,#fec239,#fbbc41,#f2b949,#e6b950,#daba55)"></i><i style="background:linear-gradient(90deg,#0daebb,#16b1b4,#22b4ac,#2fb7a3,#40ba99,#53bd8f,#67be85,#7cbf7c,#8ebf74,#a0be6d,#afbe67,#bebc61,#ccbb5b,#d8ba56,#e4b950,#efb94a,#f9bb43,#fec03b,#fec535,#fdcb30,#fbcf2d,#fad32a,#f8d627,#f7d925,#f6db24,#f6dc23,#f6dd22,#f6dc23,#f6db24,#f7d925,#f8d627,#fad32a,#fbcf2d,#fdca30,#fec535,#febf3c,#f8bb44,#eeb94b,#e3b951,#d6ba57)"></i><i style="background:linear-gradient(90deg,#08aac1,#0daeba,#17b1b3,#24b5aa,#33b8a1,#44bb96,#58bd8c,#6ebf82,#82bf79,#94bf72,#a5be6b,#b4bd65,#c3bc5f,#d0bb59,#dcba54,#e8b94f,#f2b949,#fbbc41,#fec13a,#fec634,#fdcb30,#fbcf2d,#fad22a,#f9d528,#f8d726,#f7d825,#f7d925,#f7d925,#f7d826,#f8d627,#f9d429,#fbd02c,#fccd2f,#fec833,#ffc338,#fcbd3f,#f5ba47,#ebb94d,#dfba53,#d2bb59)"></i><i style="background:linear-gradient(90deg,#06a6c7,#08aac1,#0eaeba,#19b2b2,#27b5a8,#37b99e,#4abc94,#5fbe89,#74bf7f,#88bf77,#9abf6f,#aabe69,#b9bd63,#c7bc5d,#d4bb58,#e0ba53,#ebb94d,#f5ba47,#fcbd3f,#fec239,#fec734,#fdcb30,#fccf2d,#fad12b,#f9d329,#f9d528,#f8d628,#f8d528,#f9d528,#fad32a,#fbd12b,#fcce2e,#fdca31,#fec535,#fec03b,#fabb42,#f1b949,#e6b94f,#dbba55,#cebb5a)"></i><i style="background:linear-gradient(90deg,#06a2cc,#06a6c6,#08abc0,#10afb8,#1cb3b0,#2ab6a6,#3cba9b,#50bc90,#65be85,#7bbf7c,#8ebf74,#a0be6d,#afbe67,#bebc61,#cbbb5b,#d8ba56,#e3b951,#eeb94c,#f7ba45,#fdbe3e,#ffc238,#fec734,#fdca30,#fccd2e,#fbd02c,#fad12b,#fad22a,#fad22a,#fad12b,#fbd02c,#fcce2e,#fdcb30,#fec734,#ffc238,#fdbe3e,#f6ba46,#edb94c,#e2b952,#d6ba57,#c9bc5c)"></i><i style="background:linear-gradient(90deg,#079dcf,#06a2cb,#06a7c6,#09abbf,#12afb7,#1fb3ae,#2fb7a3,#41ba98,#56bd8d,#6cbf82,#81bf79,#94bf72,#a5be6b,#b4bd65,#c2bc5f,#cfbb5a,#dbba55,#e6b950,#f0b94a,#f8ba44,#fdbe3e,#ffc238,#fec634,#fec931,#fdcc2f,#fccd2e,#fcce2d,#fccf2d,#fcce2e,#fccd2f,#fdca31,#fec733,#ffc437,#febf3c,#fabb42,#f2b949,#e8b94e,#ddba54,#d1bb59,#c4bc5e)"></i><i style="background:linear-gradient(90deg,#0a96d1,#079dcf,#06a2cb,#06a8c5,#0aacbd,#15b0b5,#23b4ab,#34b8a0,#48bb95,#5ebe89,#74bf7f,#88bf77,#9abf6f,#aabe69,#b9bd63,#c6bc5d,#d3bb58,#deba53,#e8b94f,#f1b949,#f9bb44,#fdbe3d,#fec239,#fec535,#fec833,#fdca31,#fdcb30,#fdcb30,#fdca31,#fec932,#fec734,#ffc436,#fec03a,#fcbd40,#f6ba46,#edb94c,#e3b951,#d8ba56,#ccbb5b,#bebc61)"></i><i style="background:linear-gradient(90deg,#108ed2,#0a96d1,#079dcf,#06a3ca,#06a9c3,#0dadbb,#18b2b2,#28b6a8,#3ab99d,#4fbc91,#65be86,#7bbf7c,#8ebf74,#a0be6d,#afbe67,#bdbd61,#cabb5c,#d6ba57,#e0ba52,#eab94e,#f2b949,#f9bb43,#fdbe3e,#fec13a,#ffc337,#fec535,#fec734,#fec734,#fec734,#fec535,#ffc337,#fec13a,#fcbd3f,#f8ba44,#f1b94a,#e8b94f,#deba53,#d3bb58,#c6bc5d,#b8bd63)"></i><i style="background:linear-gradient(90deg,#1487d3,#108fd2,#0a97d1,#069ece,#06a4c9,#07aac1,#0faeb9,#1db3af,#2db7a4,#40ba99,#56bd8d,#6dbf82,#82bf79,#94bf72,#a5be6b,#b4bd65,#c1bc60,#cdbb5b,#d8ba56,#e2b952,#ebb94d,#f2b949,#f8bb44,#fcbd3f,#febf3c,#fec139,#ffc338,#ffc337,#ffc338,#fec239,#fec03b,#fcbd3f,#f9bb43,#f3ba48,#ecb94d,#e3b951,#d9ba56,#cdbb5b,#c0bc60,#b2bd66)"></i><i style="background:linear-gradient(90deg,#1481d6,#1487d3,#0f90d2,#0998d1,#06a0cd,#06a6c7,#09abbf,#13b0b6,#22b4ac,#33b8a1,#48bb95,#5ebe89,#74bf7f,#88bf76,#9abf6f,#aabe69,#b8bd63,#c4bc5e,#d0bb5a,#daba55,#e3b951,#ebb94d,#f2b949,#f7ba45,#fabc41,#fdbd3e,#febf3d,#febf3c,#febf3c,#fdbe3e,#fbbd40,#f9bb43,#f4ba47,#eeb94b,#e6b950,#ddba54,#d3bb58,#c7bc5d,#babd62,#abbe68)"></i><i style="background:linear-gradient(90deg,#127bd9,#1481d5,#1388d3,#0e91d2,#089ad0,#06a1cc,#06a7c5,#0badbc,#17b1b3,#27b6a8,#3ab99d,#4fbc91,#66be85,#7bbf7c,#8ebf74,#9fbe6d,#aebe67,#bbbd62,#c7bc5d,#d2bb59,#dbba55,#e4b951,#ebb94d,#f1b94a,#f5ba47,#f8ba44,#fabb42,#fabc41,#fabc41,#f9bb43,#f7ba45,#f4ba48,#efb94b,#e8b94f,#e0ba52,#d7ba56,#cdbb5b,#c1bc60,#b4bd65,#a4be6b)"></i><i style="background:linear-gradient(90deg,#0d75dc,#127bd9,#1482d5,#138ad3,#0c93d2,#079cd0,#06a3ca,#07a9c2,#0faeb9,#1db3af,#2db7a4,#41ba98,#57bd8c,#6dbf82,#82bf79,#94bf72,#a4be6b,#b2bd66,#bebc61,#cabb5c,#d3bb58,#dcba54,#e3b951,#e9b94e,#eeb94b,#f2b949,#f4ba47,#f5ba46,#f5ba46,#f4ba47,#f2b949,#eeb94b,#e9b94e,#e2b952,#daba55,#d1bb59,#c6bc5d,#babd62,#adbe68,#9dbf6e)"></i><i style="background:linear-gradient(90deg,#076fdf,#0d76dc,#127cd8,#1483d5,#128cd2,#0b96d1,#069ece,#06a5c8,#09abbf,#13b0b6,#22b4ab,#34b8a0,#49bc94,#5fbe89,#75bf7f,#88bf76,#99bf70,#a8be6a,#b5bd64,#c1bc60,#cbbb5c,#d4bb58,#dcba54,#e2b952,#e7b94f,#ebb94d,#eeb94b,#efb94b,#efb94b,#eeb94b,#ebb94d,#e7b94f,#e2b951,#dcba54,#d4bb58,#cbbb5c,#c0bc60,#b3bd65,#a5be6b,#95bf71)"></i><i style="background:linear-gradient(90deg,#0269e1,#0770df,#0e77db,#137ed7,#1485d4,#108fd2,#0999d1,#06a1cc,#06a7c5,#0badbc,#18b2b2,#29b6a7,#3cba9c,#51bc90,#67be85,#7cbf7c,#8ebf74,#9ebe6e,#acbe68,#b8bd63,#c3bc5f,#ccbb5b,#d4bb58,#dbba55,#e0ba53,#e4b951,#e7b94f,#e8b94e,#e9b94e,#e7b94f,#e5b950,#e1b952,#dcba54,#d5ba57,#cdbb5b,#c4bc5e,#b9bd63,#acbe68,#9dbe6e,#8cbf75)"></i><i style="background:linear-gradient(90deg,#0760e0,#0269e1,#0871de,#0f78db,#137fd6,#1388d3,#0d92d2,#079cd0,#06a3ca,#07a9c2,#10afb9,#1eb3ae,#2fb7a3,#43bb97,#59bd8c,#6fbf81,#82bf79,#93bf72,#a2be6c,#afbe67,#babd62,#c4bc5f,#ccbb5b,#d3bb58,#d9ba56,#ddba54,#e0ba53,#e1b952,#e2b952,#e1ba52,#deba53,#daba55,#d5ba57,#cfbb5a,#c7bc5d,#bdbd61,#b1bd66,#a4be6b,#95bf71,#83bf79)"></i><i style="background:linear-gradient(90deg,#1d54d5,#0661e0,#036ae1,#0a72de,#117ada,#1482d5,#128bd3,#0b95d1,#069fce,#06a6c7,#09abbe,#15b0b5,#24b5aa,#37b99e,#4bbc93,#61be88,#76bf7e,#88bf77,#98bf70,#a5be6b,#b1bd66,#bbbd62,#c4bc5e,#cbbb5c,#d1bb59,#d6ba57,#d9ba56,#daba55,#dbba55,#daba55,#d8ba56,#d4bb58,#cebb5a,#c8bc5d,#c0bc60,#b6bd64,#aabe69,#9cbf6e,#8cbf75,#79bf7d)"></i><i style="background:linear-gradient(90deg,#2e48c3,#1b55d7,#0363e1,#046ce0,#0c74dd,#127cd8,#1485d4,#108fd2,#0899d1,#06a2cc,#06a8c4,#0dadbb,#1bb2b0,#2bb6a5,#3eba9a,#53bd8e,#68be84,#7cbf7c,#8dbf75,#9bbf6f,#a8be6a,#b2bd65,#bcbd62,#c3bc5f,#c9bb5c,#cebb5a,#d1bb59,#d3bb58,#d4bb58,#d3bb58,#d1bb59,#cdbb5b,#c8bc5d,#c1bc60,#b8bd63,#aebe67,#a2be6c,#93bf72,#82bf79,#6ebf82)"></i><i style="background:linear-gradient(90deg,#343eb0,#2c49c5,#1658da,#0265e1,#066fdf,#0e77db,#137fd7,#1388d3,#0d93d2,#079dcf,#06a4c9,#08aac0,#12afb7,#21b4ac,#33b8a1,#46bb95,#5bbd8b,#6fbf81,#81bf79,#91bf73,#9ebe6e,#a9be69,#b3bd65,#bbbd62,#c1bc5f,#c6bc5d,#cabb5c,#ccbb5b,#cdbb5b,#ccbb5b,#c9bb5c,#c6bc5e,#c0bc60,#b9bd63,#b1bd66,#a6be6a,#99bf6f,#8abf76,#78bf7d,#63be87)"></i></div>
<div class="cb" style="left:505.80px;top:22.80px;width:12.00px;height:75.20px;background:linear-gradient(180deg,#f9fb0e,#f5eb18,#f5de21,#f9d329,#fec932,#febf3c,#f2b949,#e3b951,#d3bb58,#c2bc5f,#b1bd66,#9fbe6d,#8bbf75,#75bf7e,#5ebe89,#47bb95,#33b8a1,#21b4ac,#13b0b6,#09abbf,#06a6c7,#069fce,#0a97d1,#118dd2,#1484d4,#127cd8,#0c74dd,#046ce0,#0462e0,#2152d3,#3243b9,#36369f,#352a87)"></div>
<div class="hm" style="left:132.80px;top:180.70px;width:96.20px;height:73.60px"><i style="background:linear-gradient(90deg,#1cb3af,#2bb6a5,#35b89f,#38b99e,#34b8a0,#29b6a7,#1db3af,#13b0b6,#0aacbe,#06a8c5,#06a2cb,#079bd0,#0d93d2,#128bd2,#1486d4,#1482d5,#1480d6,#137ed7,#137ed7,#137ed7,#137fd7,#1480d6,#1482d5,#1484d4,#1486d4,#1388d3,#118cd2,#0d93d2,#089bd0,#06a2cc,#06a7c5,#0cadbc,#18b2b2,#28b6a7,#39b99d,#4bbc93,#5ebe89,#71bf80,#83bf79,#93bf72)"></i><i style="background:linear-gradient(90deg,#35b8a0,#3fba9a,#42bb98,#40ba99,#38b99e,#2cb7a5,#1fb4ad,#14b0b5,#0bacbd,#06a8c4,#06a3cb,#079cd0,#0d93d2,#128bd2,#1485d4,#1481d6,#137fd7,#137dd8,#127dd8,#137dd8,#137ed7,#137fd7,#1481d6,#1482d5,#1484d4,#1487d3,#118dd2,#0c94d2,#079dcf,#06a4ca,#07a9c2,#0faeb9,#1db3af,#2db7a4,#3eba9a,#50bc90,#63be87,#75bf7f,#86bf77,#95bf71)"></i><i style="background:linear-gradient(90deg,#4dbc92,#50bc90,#4ebc91,#47bb95,#3cba9b,#2fb7a3,#22b4ac,#15b1b4,#0bacbd,#06a7c5,#06a2cc,#089ad0,#0e92d2,#138ad3,#1484d4,#137fd6,#127dd8,#117bd9,#117bd9,#117bd9,#127bd9,#127dd8,#137ed7,#1480d6,#1483d5,#1486d4,#128cd2,#0c94d2,#079dcf,#06a4c9,#08aac1,#12afb7,#20b4ad,#31b8a2,#42bb98,#54bd8e,#67be85,#78bf7d,#88bf76,#97bf71)"></i><i style="background:linear-gradient(90deg,#5ebe89,#5dbe8a,#58bd8c,#4fbc91,#43bb97,#36b99f,#27b5a8,#18b2b2,#0badbc,#06a7c6,#06a0cd,#0998d1,#0f8fd2,#1388d3,#1482d5,#137ed7,#117bd9,#1079da,#1079da,#1079da,#117ad9,#127cd9,#137dd7,#1480d6,#1482d5,#1486d4,#128cd2,#0c94d2,#079ecf,#06a5c8,#09abbf,#14b0b5,#23b4ab,#33b8a1,#45bb96,#57bd8c,#69be84,#7bbf7c,#8abf76,#98bf70)"></i><i style="background:linear-gradient(90deg,#67be85,#60be88,#58bd8c,#4fbc91,#43bb97,#35b8a0,#26b5a9,#16b1b3,#09acbe,#06a5c8,#079ecf,#0b95d2,#118dd2,#1486d4,#1480d6,#127cd8,#117ada,#1078da,#1078da,#1079da,#117bd9,#127dd8,#137fd7,#1482d5,#1485d4,#1389d3,#108fd2,#0998d1,#06a1cd,#06a7c5,#0cadbc,#18b1b2,#27b5a8,#37b99f,#47bb95,#58bd8c,#6abe84,#7abf7c,#89bf76,#96bf71)"></i><i style="background:linear-gradient(90deg,#76bf7e,#6abe83,#5ebe89,#51bc90,#42bb98,#34b8a0,#24b5aa,#15b0b5,#08abc0,#06a4c9,#079dcf,#0c94d2,#118cd2,#1486d4,#1481d6,#137dd8,#117bd9,#1079da,#117ada,#127bd9,#137dd8,#137fd6,#1482d5,#1485d4,#1389d3,#118dd2,#0c93d2,#079bd0,#06a3cb,#07a9c3,#0eaeba,#1ab2b1,#27b5a8,#35b8a0,#43bb97,#52bd8f,#61be88,#70bf81,#7ebf7b,#8bbf75)"></i><i style="background:linear-gradient(90deg,#86bf77,#75bf7e,#64be86,#52bd8f,#41ba98,#31b8a2,#22b4ac,#13b0b6,#08aac1,#06a4ca,#079ccf,#0b94d2,#118dd2,#1486d3,#1481d5,#137dd7,#117bd9,#117ad9,#117bd9,#137dd8,#137fd7,#1482d5,#1485d4,#1388d3,#128cd2,#0f90d2,#0a96d1,#079dcf,#06a4c9,#08aac1,#10afb8,#1bb2b0,#27b5a8,#33b8a0,#40ba99,#4dbc91,#5bbd8b,#68be85,#74bf7f,#80bf7a)"></i><i style="background:linear-gradient(90deg,#a0be6d,#8cbf75,#77bf7e,#61be88,#4bbc93,#37b99e,#25b5aa,#14b0b5,#08aac0,#06a4ca,#079dcf,#0b95d2,#118dd2,#1487d3,#1482d5,#137ed7,#127cd9,#117bd9,#127bd9,#127cd8,#137ed7,#137fd6,#1482d5,#1484d4,#1388d3,#118dd2,#0c94d2,#079dcf,#06a4c9,#08aac1,#10afb8,#1bb2b0,#26b5a9,#33b8a1,#3fba99,#4dbc92,#5abd8b,#66be85,#72bf80,#7ebf7b)"></i><i style="background:linear-gradient(90deg,#bdbd61,#a7be6a,#91bf73,#7abf7d,#60be88,#47bb95,#30b7a3,#1bb2b0,#0bacbd,#06a6c7,#069ece,#0a97d1,#108fd2,#1388d3,#1483d5,#137fd7,#127cd8,#117ad9,#117ada,#117ad9,#117bd9,#127cd8,#137ed7,#1481d6,#1485d4,#138ad3,#0e92d2,#079bd0,#06a3ca,#07aac2,#0faeb9,#1ab2b1,#25b5a9,#32b8a1,#40ba99,#4ebc91,#5dbe8a,#6bbe83,#77bf7e,#83bf79)"></i><i style="background:linear-gradient(90deg,#cebb5a,#b7bd64,#a0be6d,#88bf77,#6dbf82,#52bd8f,#38b99e,#20b4ad,#0eaeba,#06a7c6,#06a0cd,#0997d1,#108ed2,#1487d3,#1481d6,#127cd8,#1079da,#0f77db,#0e77db,#0f77db,#1078da,#117ada,#127cd8,#1480d6,#1484d4,#1389d3,#0e91d2,#089ad0,#06a3cb,#07a9c3,#0dadbb,#17b1b3,#23b4ab,#30b7a3,#3eba9a,#4ebc91,#5fbe89,#6fbf81,#7dbf7b,#89bf76)"></i><i style="background:linear-gradient(90deg,#dfba53,#c6bc5d,#aebe67,#94bf72,#78bf7d,#5bbd8b,#3eba9a,#24b5aa,#0fafb9,#06a8c5,#06a0cd,#0a97d1,#118dd2,#1485d4,#137ed7,#1079da,#0e76dc,#0c75dc,#0d75dc,#0e76dc,#0f78db,#117ada,#127cd8,#1480d6,#1484d4,#1389d3,#0e91d2,#089ad0,#06a2cb,#07a9c3,#0cadbb,#16b1b4,#21b4ac,#2eb7a4,#3dba9b,#4dbc92,#5dbe8a,#6dbf82,#7bbf7c,#87bf77)"></i><i style="background:linear-gradient(90deg,#f3ba48,#daba55,#c0bc60,#a6be6b,#8abf76,#6bbe83,#4abc93,#2db7a5,#15b0b5,#07a9c2,#06a2cc,#0899d1,#0f8fd2,#1487d3,#1480d6,#127cd8,#1079da,#0f78db,#0f78db,#1079da,#117bd9,#127cd8,#137fd7,#1481d6,#1484d4,#1389d3,#0f90d2,#0899d1,#06a2cb,#07a9c3,#0cadbb,#16b1b4,#20b4ad,#2cb6a5,#39b99d,#46bb95,#54bd8e,#62be87,#6ebf81,#7abf7c)"></i><i style="background:linear-gradient(90deg,#fec03b,#e8b94e,#cebb5a,#b3bd65,#96bf71,#77bf7e,#55bd8e,#35b89f,#1cb2b0,#0aacbd,#06a5c8,#079ecf,#0b95d1,#118dd2,#1486d4,#1481d6,#137ed7,#127cd8,#127dd8,#137ed7,#1480d6,#1482d5,#1484d4,#1487d3,#128ad3,#108fd2,#0b95d2,#079dcf,#06a4c9,#07a9c2,#0daeba,#16b1b4,#1fb4ad,#2ab6a6,#36b99f,#43bb97,#50bc90,#5cbe8a,#69be84,#74bf7f)"></i><i style="background:linear-gradient(90deg,#ffc337,#eeb94b,#d4bb58,#b9bd63,#9dbf6e,#7dbf7b,#5bbd8b,#3bb99c,#22b4ac,#10afb9,#07a9c3,#06a3ca,#079dcf,#0b95d2,#118ed2,#1487d3,#1483d5,#1481d6,#1481d5,#1483d5,#1485d4,#1388d3,#128bd2,#108ed2,#0e92d2,#0b96d1,#089bd0,#06a1cd,#06a7c6,#09abbf,#10afb8,#19b2b2,#22b4ab,#2eb7a4,#3ab99c,#48bb94,#56bd8d,#62be87,#6fbf81,#7abf7c)"></i><i style="background:linear-gradient(90deg,#fec239,#ecb94c,#d1bb59,#b6bd64,#99bf6f,#79bf7d,#57bd8d,#39b99d,#23b5ab,#13b0b6,#09abbf,#06a6c7,#06a0cd,#089ad0,#0d93d2,#118cd2,#1388d3,#1485d4,#1485d4,#1486d4,#1388d3,#128ad3,#118dd2,#0f90d2,#0c94d2,#0997d1,#079ccf,#06a2cb,#06a8c5,#0bacbd,#13b0b6,#1db3af,#27b5a8,#33b8a1,#41ba98,#50bc90,#5ebe89,#6bbf83,#78bf7d,#83bf79)"></i><i style="background:linear-gradient(90deg,#ffc337,#edb94c,#d2bb59,#b5bd64,#97bf71,#74bf7f,#51bd8f,#35b89f,#21b4ac,#12b0b6,#09abbf,#06a6c6,#06a1cc,#079bd0,#0b95d2,#0f8fd2,#128bd3,#1388d3,#1487d3,#1388d3,#1389d3,#128ad3,#118dd2,#0f90d2,#0d93d2,#0a96d1,#079cd0,#06a2cc,#06a7c5,#0bacbd,#14b0b5,#1eb3ae,#29b6a7,#36b99f,#44bb96,#54bd8e,#63be87,#70bf80,#7dbf7b,#88bf76)"></i><i style="background:linear-gradient(90deg,#ffc238,#ecb94c,#d0bb59,#b3bd65,#94bf72,#70bf81,#4dbc92,#32b8a2,#1eb3ae,#10afb8,#08aac0,#06a5c8,#06a0cd,#089ad0,#0c94d2,#108ed2,#138ad3,#1487d3,#1487d3,#1388d3,#1389d3,#128bd3,#118dd2,#0f90d2,#0d93d2,#0a96d1,#079bd0,#06a1cc,#06a7c5,#0bacbd,#14b0b5,#1eb3ae,#29b6a7,#35b8a0,#42bb98,#51bc90,#60be88,#6ebf81,#7cbf7c,#88bf77)"></i><i style="background:linear-gradient(90deg,#fec13a,#eab94d,#cfbb5a,#b2bd66,#93bf72,#6ebf82,#4abc93,#2fb7a3,#1cb3af,#0faeb9,#07aac1,#06a5c8,#069fce,#0899d1,#0c94d2,#108ed2,#128ad3,#1388d3,#1487d3,#1388d3,#1389d3,#128ad3,#118dd2,#0f90d2,#0d93d2,#0a97d1,#079cd0,#06a2cb,#06a8c4,#0cadbc,#16b1b4,#20b4ad,#2bb6a6,#36b99f,#42bb98,#50bc90,#60be88,#6fbf81,#7ebf7b,#8bbf75)"></i><i style="background:linear-gradient(90deg,#ffc436,#f0b94a,#d6ba57,#babd62,#9cbf6f,#78bf7d,#52bd8f,#34b8a0,#1fb3ae,#0faeb9,#07a9c2,#06a4c9,#069fce,#0899d1,#0c94d2,#0f8fd2,#118cd2,#138ad3,#1389d3,#1388d3,#1389d3,#138ad3,#118cd2,#108fd2,#0d92d2,#0a96d1,#079cd0,#06a2cb,#06a8c4,#0cadbb,#17b1b3,#21b4ac,#2cb7a5,#38b99e,#45bb96,#54bd8e,#63be87,#72bf80,#80bf7a,#8cbf75)"></i><i style="background:linear-gradient(90deg,#fec932,#f8ba44,#dfba53,#c4bc5f,#a6be6a,#83bf78,#5dbe89,#3cba9b,#24b5aa,#13b0b6,#08abc0,#06a6c7,#06a0cd,#079bd0,#0b96d1,#0e91d2,#118ed2,#128bd2,#138ad3,#138ad3,#138ad3,#128bd2,#118dd2,#108fd2,#0e92d2,#0b95d1,#089bd0,#06a1cd,#06a7c6,#0aacbe,#13b0b6,#1eb3ae,#29b6a7,#36b89f,#43bb97,#52bd8f,#62be87,#71bf80,#7fbf7a,#8bbf75)"></i><i style="background:linear-gradient(90deg,#fcce2d,#fdbe3d,#e8b94f,#cdbb5b,#b0bd66,#8fbf74,#6abe83,#48bb95,#2eb7a4,#1bb2b0,#0daeba,#07a9c3,#06a5c9,#06a0cd,#079bd0,#0a96d1,#0e92d2,#108fd2,#118dd2,#118cd2,#118cd2,#118dd2,#108ed2,#0f90d2,#0d92d2,#0b95d1,#089ad0,#06a0cd,#06a6c7,#08abc0,#10afb8,#19b2b1,#24b5aa,#30b7a2,#3eba9a,#4ebc91,#5fbe89,#6fbf81,#7ebf7b,#8cbf75)"></i><i style="background:linear-gradient(90deg,#fbd02c,#fec03b,#ecb94c,#d3bb58,#b7bd64,#97bf70,#75bf7f,#52bd8f,#36b99f,#21b4ac,#13b0b6,#09acbe,#06a8c4,#06a4ca,#06a0cd,#079cd0,#0998d1,#0b95d2,#0d93d2,#0e91d2,#0e91d2,#0e91d2,#0d92d2,#0c94d2,#0b96d1,#0998d1,#079dcf,#06a1cc,#06a7c6,#09abc0,#0faeb9,#18b1b2,#22b4ac,#2eb7a4,#3cba9b,#4cbc92,#5dbe8a,#6ebf82,#7ebf7b,#8bbf75)"></i><i style="background:linear-gradient(90deg,#f9d429,#fec535,#f3ba48,#daba55,#bebc61,#9ebe6e,#7abf7c,#57bd8d,#39b99d,#24b5aa,#15b1b4,#0cadbc,#07aac1,#06a7c6,#06a3ca,#06a0cd,#079ccf,#089ad0,#0998d1,#0997d1,#0997d1,#0998d1,#089ad1,#079bd0,#079dcf,#069fce,#06a2cc,#06a5c8,#07a9c2,#0cadbc,#13b0b6,#1cb2b0,#25b5aa,#30b7a2,#3eba9a,#4dbc92,#5dbe89,#6dbf82,#7dbf7b,#8abf76)"></i><i style="background:linear-gradient(90deg,#f8d727,#fec932,#f9bb43,#e0ba53,#c3bc5f,#a3be6c,#7fbf7a,#5bbd8a,#3cba9b,#26b5a9,#17b1b3,#0daeba,#08abc0,#06a8c4,#06a5c8,#06a2cb,#069fce,#079dcf,#079cd0,#079cd0,#079dcf,#079ecf,#06a0cd,#06a1cc,#06a2cb,#06a4ca,#06a6c7,#07a9c3,#0aacbd,#11afb7,#19b2b2,#21b4ac,#2ab6a6,#34b8a0,#40ba99,#4ebc91,#5dbe8a,#6cbf83,#7bbf7c,#89bf76)"></i><i style="background:linear-gradient(90deg,#f9d429,#fec734,#f8ba45,#e0ba53,#c5bc5e,#a5be6b,#82bf79,#5ebe89,#3eba9a,#27b5a8,#17b1b3,#0eaeba,#09abbf,#07a9c3,#06a6c7,#06a4ca,#06a2cc,#06a1cd,#06a0cd,#06a0cd,#06a0cd,#06a1cc,#06a2cb,#06a3ca,#06a4c9,#06a5c8,#06a7c5,#08aac1,#0daebb,#15b1b4,#1eb3ae,#26b5a9,#2fb7a3,#39b99d,#44bb97,#51bc90,#5ebe89,#6dbf82,#7cbf7c,#8abf76)"></i><i style="background:linear-gradient(90deg,#fcce2d,#ffc238,#f3ba48,#ddba54,#c3bc5f,#a5be6b,#82bf79,#5fbe89,#40ba99,#29b6a7,#1ab2b1,#10afb8,#0aacbd,#07aac1,#06a7c5,#06a5c8,#06a3ca,#06a2cc,#06a1cd,#06a0cd,#06a0cd,#06a0cd,#06a1cc,#06a2cb,#06a3ca,#06a5c9,#06a7c6,#07aac1,#0cadbb,#14b0b5,#1db3af,#26b5a9,#2fb7a3,#39b99d,#45bb96,#53bd8f,#61be88,#70bf81,#7fbf7a,#8dbf75)"></i><i style="background:linear-gradient(90deg,#ffc437,#f8ba44,#e6b950,#d0bb5a,#b7bd64,#98bf70,#77bf7e,#57bd8d,#3dba9b,#2bb6a6,#1eb3ae,#16b1b4,#11afb8,#0cadbc,#08abc0,#06a8c4,#06a6c7,#06a3ca,#06a1cc,#06a0cd,#06a0cd,#06a0cd,#06a1cc,#06a2cb,#06a3cb,#06a4ca,#06a6c7,#06a8c4,#09abbe,#0faeb9,#16b1b4,#1eb3ae,#26b5a9,#30b8a2,#3dba9b,#4bbc93,#59bd8b,#68be84,#77bf7d,#86bf77)"></i><i style="background:linear-gradient(90deg,#fec03b,#f3ba48,#e1ba52,#cbbb5c,#b2bd66,#94bf72,#73bf7f,#55bd8e,#3eba9a,#2eb7a4,#23b4ab,#1bb2b0,#17b1b3,#12afb7,#0dadbb,#08abc0,#06a8c4,#06a6c7,#06a4c9,#06a3cb,#06a2cb,#06a2cb,#06a3cb,#06a3ca,#06a3ca,#06a4ca,#06a5c8,#06a7c5,#08aac1,#0cadbc,#12afb7,#18b2b2,#20b4ad,#2ab6a6,#35b89f,#42bb98,#50bc90,#5fbe89,#6fbf81,#7ebf7b)"></i><i style="background:linear-gradient(90deg,#fec932,#fdbe3d,#eeb94c,#d6ba57,#bbbd62,#9bbf6f,#78bf7d,#58bd8c,#40ba99,#2fb7a3,#24b5aa,#1db3af,#19b2b2,#14b0b5,#0faeb9,#0aacbd,#08aac1,#06a8c4,#06a7c6,#06a6c7,#06a6c7,#06a6c7,#06a6c7,#06a6c7,#06a5c8,#06a5c9,#06a5c8,#06a7c6,#07a9c2,#0aacbd,#10afb9,#16b1b4,#1db3af,#26b5a9,#31b8a2,#3eba9a,#4cbc92,#5cbe8a,#6dbf82,#7dbf7b)"></i><i style="background:linear-gradient(90deg,#fad32a,#fec932,#fbbc41,#e5b950,#c8bc5d,#a5be6b,#80bf7a,#5dbe89,#43bb97,#32b8a2,#26b5a9,#20b4ad,#1bb2b0,#17b1b3,#12afb7,#0dadbb,#09abbf,#07aac2,#06a8c4,#06a7c5,#06a7c6,#06a7c6,#06a7c6,#06a6c7,#06a5c8,#06a4c9,#06a4c9,#06a6c7,#06a8c3,#09abbf,#0eaeba,#15b0b5,#1cb3af,#25b5a9,#31b8a2,#3fba9a,#4fbc91,#60be88,#71bf80,#82bf79)"></i><i style="background:linear-gradient(90deg,#f8d727,#fccd2e,#fec03b,#edb94c,#d1bb59,#b0bd66,#8dbf75,#6bbf83,#50bc90,#3eba9a,#31b8a2,#29b6a7,#24b5aa,#1eb3ae,#17b1b3,#11afb7,#0cadbc,#09abbf,#07a9c2,#06a8c4,#06a7c6,#06a6c6,#06a6c7,#06a5c8,#06a5c9,#06a4ca,#06a4c9,#06a6c7,#07a9c3,#0aacbe,#0fafb9,#16b1b4,#1eb3ae,#28b6a8,#34b8a0,#42bb98,#53bd8f,#66be85,#78bf7d,#89bf76)"></i><i style="background:linear-gradient(90deg,#f8d726,#fcce2e,#fec139,#efb94a,#d4bb58,#b4bd65,#91bf73,#72bf80,#57bd8d,#44bb97,#36b99f,#2db7a5,#26b5a9,#1fb3ad,#19b2b2,#12b0b7,#0dadbb,#09abbf,#07a9c2,#06a8c4,#06a7c6,#06a6c7,#06a6c7,#06a5c8,#06a4c9,#06a3ca,#06a4ca,#06a6c7,#07a9c3,#09acbe,#0faeb9,#15b1b4,#1db3af,#27b5a8,#33b8a1,#42bb98,#54bd8e,#67be85,#7abf7c,#8cbf75)"></i><i style="background:linear-gradient(90deg,#f7d826,#fcce2d,#fec238,#f0b94a,#d5ba57,#b4bd65,#93bf72,#74bf7f,#5bbd8a,#49bb94,#3ab99c,#30b7a3,#28b6a8,#20b4ad,#19b2b2,#13b0b6,#0eaeba,#0aacbe,#08aac0,#07a9c3,#06a8c4,#06a7c5,#06a6c6,#06a6c7,#06a4c9,#06a4ca,#06a4ca,#06a6c7,#07a9c3,#09acbe,#0faeb9,#15b1b4,#1cb3af,#25b5a9,#30b7a2,#3eba9a,#4dbc91,#5fbe88,#72bf80,#84bf78)"></i><i style="background:linear-gradient(90deg,#f7d925,#fcce2d,#fec139,#eeb94b,#d3bb58,#b4bd65,#94bf72,#78bf7d,#60be88,#4ebc91,#40ba99,#35b89f,#2db7a4,#25b5aa,#1db3af,#17b1b3,#11afb7,#0dadbb,#0aacbe,#08aac1,#07a9c3,#06a8c4,#06a7c6,#06a6c7,#06a5c8,#06a4ca,#06a4c9,#06a6c7,#07a9c3,#0aacbe,#0faeb9,#15b0b5,#1bb2b0,#23b4ab,#2db7a4,#3ab99c,#4abc93,#5cbe8a,#6fbf81,#82bf79)"></i><i style="background:linear-gradient(90deg,#f9d528,#fdcb30,#fdbe3d,#eab94d,#d1bb59,#b3bd65,#94bf71,#79bf7d,#63be87,#52bd8f,#44bb97,#3ab99d,#32b8a1,#2ab6a6,#23b4ab,#1cb3af,#16b1b4,#11afb7,#0dadbb,#0aacbe,#08abc0,#07aac1,#07a9c3,#06a8c5,#06a6c7,#06a5c8,#06a5c8,#06a6c7,#07a9c2,#0aacbe,#0faeb9,#14b0b5,#1bb2b0,#23b5ab,#2eb7a4,#3cba9b,#4cbc92,#5ebe89,#71bf80,#84bf78)"></i><i style="background:linear-gradient(90deg,#f9d329,#fec932,#fcbd40,#e8b94e,#cfbb5a,#b2bd66,#94bf71,#7abf7c,#64be86,#54bd8e,#46bb96,#3bb99c,#33b8a1,#2cb6a5,#25b5a9,#20b4ad,#1bb2b0,#16b1b4,#12afb7,#0eaeba,#0badbc,#09acbe,#08abc0,#07a9c2,#06a8c5,#06a6c7,#06a6c7,#06a7c6,#07a9c2,#0aacbd,#0fafb9,#16b1b4,#1db3af,#27b5a8,#32b8a1,#40ba99,#50bc90,#61be88,#74bf7f,#87bf77)"></i><i style="background:linear-gradient(90deg,#fad12b,#fec635,#f9bb43,#e5b950,#cdbb5b,#b0bd66,#93bf72,#78bf7d,#62be87,#50bc90,#41bb98,#36b89f,#2cb7a5,#25b5a9,#20b4ad,#1cb2b0,#18b1b3,#14b0b5,#10afb8,#0daebb,#0bacbd,#09acbe,#08abc0,#07a9c2,#06a8c4,#06a6c6,#06a6c7,#06a7c5,#08aac1,#0badbc,#11afb8,#17b1b3,#1eb3ae,#26b5a9,#30b7a2,#3cba9b,#4abc94,#59bd8b,#6bbf83,#7fbf7a)"></i><i style="background:linear-gradient(90deg,#fbcf2d,#ffc338,#f4ba47,#e0ba53,#c8bc5d,#abbe68,#8ebf74,#73bf7f,#5cbe8a,#4bbc93,#3cba9b,#30b7a2,#27b5a8,#20b4ad,#1ab2b1,#16b1b4,#12b0b6,#0faeb9,#0cadbc,#09acbe,#08abc0,#07aac1,#07a9c2,#06a8c4,#06a7c5,#06a6c7,#06a6c7,#06a7c5,#07aac2,#0aacbe,#0eaeba,#13b0b6,#19b2b2,#20b4ad,#29b6a7,#33b8a0,#40ba99,#51bc90,#64be86,#79bf7d)"></i><i style="background:linear-gradient(90deg,#fbcf2c,#ffc238,#f2b948,#dcba54,#c4bc5e,#a7be6a,#8abf76,#6ebf81,#58bd8c,#48bb95,#3ab99c,#30b7a3,#27b5a8,#20b4ad,#1ab2b1,#17b1b3,#13b0b6,#0faeb9,#0badbc,#09abbf,#07aac1,#07a9c3,#06a8c4,#06a7c5,#06a6c6,#06a6c7,#06a6c7,#06a7c5,#07a9c2,#09acbe,#0dadbb,#11afb7,#16b1b3,#1db3af,#25b5a9,#2fb7a3,#3dba9b,#4dbc91,#62be87,#79bf7d)"></i><i style="background:linear-gradient(90deg,#f9d429,#fec634,#f7ba45,#e0ba53,#c6bc5d,#aabe69,#8cbf75,#72bf80,#5cbe8a,#4bbc93,#3dba9b,#31b8a2,#27b5a8,#20b4ad,#1ab2b1,#17b1b3,#13b0b6,#0eaeba,#0aacbe,#07aac1,#06a8c3,#06a8c5,#06a7c5,#06a7c6,#06a6c7,#06a5c8,#06a5c8,#06a7c6,#07a9c2,#09abbf,#0dadbb,#12afb7,#17b1b3,#1fb3ae,#28b6a8,#33b8a1,#42bb98,#54bd8e,#69be84,#81bf7a)"></i><i style="background:linear-gradient(90deg,#f9d528,#fec634,#f6ba46,#dfba53,#c5bc5e,#a9be69,#8dbf75,#73bf80,#5dbe89,#4cbc92,#3eba9a,#31b8a2,#27b5a8,#1fb3ae,#19b2b2,#15b0b4,#11afb8,#0cadbc,#08aac0,#06a8c4,#06a7c6,#06a6c7,#06a5c8,#06a5c8,#06a4c9,#06a4c9,#06a4c9,#06a6c7,#06a8c3,#09abbf,#0dadbb,#12afb7,#19b2b2,#21b4ac,#2cb7a5,#3ab99c,#4bbc93,#60be88,#76bf7e,#8dbf74)"></i><i style="background:linear-gradient(90deg,#fbd02c,#fec239,#f1b94a,#daba55,#c1bc60,#a6be6a,#8bbf75,#72bf80,#5dbe8a,#4cbc92,#3eba9a,#31b8a2,#27b5a8,#1fb3ae,#19b2b1,#16b1b4,#12afb7,#0dadbb,#08abc0,#06a8c4,#06a7c6,#06a5c8,#06a5c8,#06a4c9,#06a3ca,#06a3ca,#06a4ca,#06a5c8,#06a8c4,#08aac0,#0cadbc,#12afb7,#19b2b2,#23b4ab,#2fb7a3,#3fba9a,#52bd8f,#68be84,#7fbf7a,#96bf71)"></i><i style="background:linear-gradient(90deg,#fcce2e,#fec03b,#efb94b,#daba55,#c3bc5f,#abbe69,#92bf72,#7bbf7c,#67be85,#56bd8d,#46bb95,#38b99d,#2db7a5,#24b5aa,#1eb3ae,#1bb2b0,#17b1b3,#12afb7,#0cadbb,#08abc0,#07a9c2,#06a8c4,#06a7c6,#06a6c7,#06a5c8,#06a4ca,#06a4ca,#06a5c9,#06a7c6,#07a9c2,#0aacbd,#10afb8,#18b1b3,#22b4ac,#2fb7a3,#3fba9a,#53bd8f,#6abe83,#83bf79,#9abf6f)"></i><i style="background:linear-gradient(90deg,#fdcb30,#fdbe3d,#edb94c,#daba55,#c5bc5e,#aebe67,#98bf70,#83bf78,#71bf80,#61be87,#52bd8f,#44bb97,#38b99e,#2fb7a3,#29b6a7,#26b5a9,#22b4ab,#1cb3af,#15b0b5,#0eaeba,#0aacbd,#08abc0,#07a9c2,#06a8c4,#06a7c6,#06a5c8,#06a5c8,#06a6c7,#06a8c5,#07aac1,#0bacbd,#10afb8,#18b1b2,#23b4ab,#30b8a2,#42bb98,#57bd8c,#6fbf81,#87bf77,#9fbe6d)"></i><i style="background:linear-gradient(90deg,#fec932,#fcbd3f,#edb94c,#dbba55,#c8bc5d,#b4bd65,#a0be6d,#8ebf74,#7ebf7b,#6fbf81,#60be88,#51bd8f,#44bb97,#3ab99d,#34b8a0,#30b7a2,#2cb6a5,#24b5aa,#1bb2b0,#13b0b6,#0eaeba,#0aacbd,#08abc0,#07aac2,#06a8c4,#06a7c6,#06a7c6,#06a7c5,#07a9c2,#09abbf,#0dadbb,#13b0b6,#1bb2b0,#27b5a8,#36b99f,#4abc93,#62be87,#7bbf7c,#93bf72,#aabe69)"></i><i style="background:linear-gradient(90deg,#fec832,#fcbd3f,#eeb94c,#ddba54,#cbbb5b,#bbbd62,#aabe69,#9cbf6e,#8ebf74,#80bf7a,#70bf81,#5ebe89,#4dbc92,#41ba98,#3ab99d,#36b99f,#32b8a2,#2ab6a6,#21b4ac,#18b1b2,#12afb7,#0daeba,#0bacbd,#09abbf,#08aac1,#07a9c2,#07a9c2,#07aac1,#09abbf,#0cadbc,#11afb8,#18b1b2,#22b4ac,#2fb7a3,#41ba98,#57bd8c,#70bf81,#89bf76,#a0be6d,#b6bd64)"></i><i style="background:linear-gradient(90deg,#fec535,#fabc41,#ecb94c,#ddba54,#cebb5a,#c0bc60,#b4bd65,#a8be69,#9dbe6e,#90bf73,#81bf7a,#6fbf81,#5dbe8a,#4fbc91,#47bb95,#42bb98,#3cba9b,#33b8a1,#28b6a8,#1eb3ae,#17b1b3,#12b0b6,#0faeb9,#0dadbb,#0aacbd,#09abbf,#08abc0,#09abbf,#0aacbd,#0eaeba,#13b0b6,#1cb3b0,#28b6a8,#37b99e,#4cbc92,#65be86,#7ebf7b,#96bf71,#acbe68,#c2bc5f)"></i><i style="background:linear-gradient(90deg,#fec139,#f8ba44,#ebb94d,#deba53,#d2bb59,#c7bc5d,#bcbd62,#b2bd66,#a8be6a,#9cbf6e,#8ebf74,#7fbf7a,#6ebf82,#60be88,#56bd8d,#4fbc90,#47bb95,#3bb99c,#2db7a5,#22b4ac,#1ab2b1,#16b1b4,#14b0b6,#11afb7,#0faeb9,#0dadbb,#0cadbc,#0cadbc,#0daeba,#11afb8,#17b1b3,#20b4ad,#2cb7a5,#3dba9a,#54bd8e,#6ebf82,#87bf77,#9ebe6e,#b4bd65,#c9bb5c)"></i><i style="background:linear-gradient(90deg,#fec238,#fabc42,#f0b94a,#e5b950,#daba55,#cfbb5a,#c5bc5e,#bbbd62,#b1bd66,#a6be6b,#99bf6f,#8bbf75,#7cbf7b,#6fbf81,#64be86,#5dbe8a,#52bd8f,#44bb97,#33b8a0,#26b5a9,#1db3af,#19b2b2,#16b1b4,#14b0b5,#12afb7,#10afb8,#0faeb9,#10afb8,#12afb7,#16b1b4,#1cb3af,#25b5a9,#32b8a1,#43bb97,#5bbd8a,#76bf7e,#8fbf74,#a6be6b,#bbbd62,#d1bb59)"></i><i style="background:linear-gradient(90deg,#ffc338,#fbbc40,#f2b949,#e8b94e,#dfba53,#d6ba57,#ccbb5b,#c3bc5f,#b9bd63,#aebe67,#a2be6c,#94bf72,#85bf78,#78bf7d,#6dbf82,#66be85,#5cbe8a,#4dbc92,#3bb99c,#2cb7a5,#22b4ac,#1bb2b0,#18b1b2,#15b0b5,#13b0b6,#11afb8,#10afb8,#12afb7,#15b0b5,#1ab2b1,#21b4ac,#2bb6a6,#39b99d,#4cbc92,#65be86,#80bf7a,#9abf6f,#b1bd66,#c8bc5d,#ddba54)"></i><i style="background:linear-gradient(90deg,#fdbe3d,#f7ba45,#efb94b,#e7b94f,#e0ba53,#d9ba56,#d1bb59,#c8bc5d,#bfbc61,#b3bd65,#a6be6a,#97bf71,#86bf77,#79bf7d,#6fbf81,#6abe83,#63be87,#56bd8d,#44bb97,#34b8a0,#2ab6a7,#23b4ab,#1fb3ae,#1cb3b0,#19b2b1,#17b1b3,#17b1b3,#19b2b2,#1db3af,#22b4ab,#2ab6a6,#34b8a0,#42bb98,#57bd8d,#71bf80,#8cbf75,#a4be6b,#bbbd62,#d1bb59,#e7b94f)"></i><i style="background:linear-gradient(90deg,#fabc41,#f4ba47,#eeb94b,#e8b94f,#e2b952,#dcba54,#d5ba57,#cdbb5b,#c4bc5f,#b9bd63,#acbe68,#9dbf6e,#8dbf75,#80bf7a,#78bf7d,#75bf7e,#6fbf81,#64be86,#53bd8e,#43bb97,#37b99e,#30b7a3,#2bb6a6,#27b5a8,#24b5aa,#21b4ac,#20b4ad,#22b4ac,#25b5aa,#2ab6a6,#31b8a2,#3bb99c,#4abc94,#5fbe89,#79bf7d,#93bf72,#acbe68,#c3bc5f,#d9ba56,#efb94b)"></i><i style="background:linear-gradient(90deg,#fbbd40,#f7ba45,#f1b94a,#ebb94d,#e5b950,#deba53,#d7ba57,#cebb5a,#c5bc5e,#babd63,#aebe67,#a0be6d,#91bf73,#85bf78,#7fbf7a,#7dbf7b,#78bf7d,#6fbf81,#60be88,#50bc90,#45bb96,#3eba9a,#38b99d,#33b8a1,#2db7a4,#28b6a8,#25b5a9,#25b5aa,#27b5a9,#2bb6a6,#31b8a2,#3bba9c,#4bbc93,#61be88,#7cbf7b,#97bf70,#b1bd66,#c9bc5d,#e0ba53,#f7ba45)"></i><i style="background:linear-gradient(90deg,#fec536,#fec13a,#fcbd40,#f6ba46,#eeb94b,#e6b950,#ddba54,#d3bb58,#c8bc5d,#bcbd62,#afbe67,#a1be6c,#93bf72,#88bf77,#82bf79,#80bf7a,#7bbf7c,#71bf80,#61be88,#51bd8f,#46bb96,#3fba9a,#39b99d,#33b8a1,#2bb6a5,#25b5aa,#21b4ac,#20b4ad,#22b4ab,#27b5a9,#2eb7a4,#39b99d,#4abc93,#62be87,#7ebf7b,#9abf6f,#b4bd65,#cdbb5b,#e5b950,#fbbc41)"></i><i style="background:linear-gradient(90deg,#fdcb30,#fec734,#fec239,#fcbd40,#f5ba47,#ecb94c,#e3b951,#d9ba56,#cebb5a,#c2bc5f,#b5bd64,#a7be6a,#98bf70,#8dbf75,#86bf77,#83bf79,#7dbf7b,#70bf81,#5ebe89,#4dbc92,#41ba98,#39b99d,#34b8a0,#2eb7a4,#27b6a8,#21b4ac,#1eb3ae,#1eb3ae,#21b4ac,#26b5a9,#2fb7a3,#3cba9b,#4ebc91,#68be84,#85bf78,#a2be6c,#bcbd62,#d4bb58,#ecb94c,#fec03b)"></i><i style="background:linear-gradient(90deg,#fccd2e,#fec931,#ffc436,#febf3c,#f9bb43,#f2b949,#e9b94e,#dfba53,#d5ba57,#c9bc5c,#bcbd62,#aebe67,#9fbe6d,#93bf72,#8bbf75,#86bf77,#7dbf7b,#6ebf81,#5bbd8b,#49bc94,#3dba9b,#36b99f,#31b8a2,#2bb6a6,#25b5aa,#1fb3ae,#1cb3af,#1db3af,#21b4ac,#29b6a7,#33b8a0,#42bb98,#58bd8c,#73bf7f,#91bf73,#adbe68,#c6bc5e,#deba53,#f5ba47,#fec635)"></i><i style="background:linear-gradient(90deg,#fdcb30,#fec832,#ffc436,#fec03c,#fabc42,#f3b948,#eab94e,#e0ba53,#d5ba57,#cabb5c,#bdbc61,#afbe67,#a0be6d,#93bf72,#8abf76,#83bf78,#79bf7d,#6bbe83,#57bd8c,#47bb95,#3bba9c,#35b89f,#31b8a2,#2bb6a6,#24b5aa,#1eb3ae,#1cb3b0,#1db3af,#22b4ac,#2ab6a7,#35b89f,#45bb96,#5bbe8a,#78bf7d,#96bf71,#b2bd66,#ccbb5b,#e4b951,#fabb42,#fdc931)"></i><i style="background:linear-gradient(90deg,#fec931,#fec733,#ffc436,#fec03b,#fabc42,#f2b949,#e8b94f,#ddba54,#d1bb59,#c5bc5e,#b8bd63,#a9be69,#9abf6f,#8ebf74,#85bf78,#80bf7a,#78bf7d,#6cbf83,#5bbd8b,#4cbc93,#41ba98,#3bba9c,#37b99e,#31b8a2,#2ab6a6,#23b4ab,#20b4ad,#21b4ac,#25b5a9,#2db7a4,#38b99d,#48bb95,#5ebe89,#79bf7d,#97bf70,#b4bd65,#cebb5b,#e6b950,#fbbc41,#fdcb30)"></i><i style="background:linear-gradient(90deg,#ffc338,#fec239,#fec03b,#fbbd40,#f6ba46,#edb94c,#e2b952,#d6ba57,#cabb5c,#bdbd61,#afbe67,#a2be6c,#94bf71,#8abf76,#84bf78,#81bf7a,#7bbf7c,#70bf81,#61be87,#53bd8f,#49bc94,#43bb97,#3fba9a,#39b99d,#31b8a2,#2ab6a6,#26b5a9,#27b5a8,#2cb7a5,#35b8a0,#40ba99,#50bc90,#65be86,#7fbf7a,#9bbf6f,#b7bd64,#d0bb5a,#e7b94f,#fbbd40,#fdca31)"></i><i style="background:linear-gradient(90deg,#f7ba45,#f7ba45,#f6ba46,#f2b948,#ecb94c,#e4b951,#daba55,#cfbb5a,#c4bc5f,#b7bd64,#abbe69,#9ebe6e,#91bf73,#88bf77,#81bf7a,#7dbf7b,#78bf7d,#6fbf81,#62be87,#55bd8d,#4cbc92,#46bb96,#41ba98,#3bb99c,#34b8a0,#2cb7a5,#28b6a8,#29b6a7,#2eb7a4,#37b99e,#44bb97,#54bd8e,#6abe83,#85bf78,#a2be6c,#bebc61,#d8ba56,#efb94b,#fec13a,#fbcf2d)"></i><i style="background:linear-gradient(90deg,#e5b950,#e9b94e,#e9b94e,#e7b94f,#e2b952,#daba55,#d0bb59,#c7bc5d,#bcbd62,#b1bd66,#a6be6a,#9bbf6f,#90bf73,#87bf77,#80bf7a,#7bbf7c,#75bf7f,#6bbf83,#5ebe89,#53bd8f,#4abc93,#44bb97,#40ba99,#3ab99c,#33b8a1,#2cb6a5,#28b6a8,#29b6a7,#2eb7a4,#38b99e,#44bb96,#55bd8d,#6cbf82,#88bf76,#a7be6a,#c5bc5e,#dfba53,#f6ba46,#fec635,#fad32a)"></i><i style="background:linear-gradient(90deg,#d1bb59,#d7ba57,#d9ba56,#d8ba56,#d4bb58,#cdbb5b,#c4bc5e,#bbbd62,#b0bd66,#a5be6b,#9abf6f,#91bf73,#89bf76,#81bf79,#7bbf7c,#75bf7e,#6ebf82,#64be86,#57bd8c,#4bbc93,#43bb97,#3dba9b,#38b99e,#33b8a1,#2db7a4,#28b6a8,#27b5a8,#2ab6a6,#32b8a2,#3cba9b,#4abc94,#5abd8b,#71bf80,#8dbf75,#acbe68,#cabb5c,#e4b950,#fabc42,#fec932,#f9d528)"></i><i style="background:linear-gradient(90deg,#b4bd65,#bdbd61,#c2bc5f,#c4bc5f,#c2bc5f,#bcbd62,#b4bd65,#abbe68,#a1be6c,#96bf71,#8cbf75,#85bf78,#7fbf7a,#7abf7c,#74bf7f,#6ebf82,#66be85,#5cbe8a,#50bc90,#46bb96,#3dba9b,#37b99e,#32b8a1,#2eb7a4,#29b6a7,#25b5a9,#26b5a9,#2bb6a6,#34b8a0,#3fba99,#4dbc91,#5fbe89,#75bf7e,#92bf72,#b2bd66,#d2bb59,#ecb94c,#fec03b,#fccd2e,#f7d826)"></i><i style="background:linear-gradient(90deg,#9bbf6f,#a6be6a,#aebe67,#b1bd66,#b0bd66,#aabe69,#a2be6c,#98bf70,#8dbf75,#82bf79,#7abf7d,#74bf7f,#72bf80,#6ebf82,#69be84,#63be87,#5bbe8a,#52bd8f,#47bb95,#3dba9b,#35b8a0,#30b7a3,#2cb7a5,#29b6a7,#25b5a9,#23b4ab,#23b5ab,#28b6a7,#31b8a2,#3dba9b,#4cbc92,#5ebe89,#77bf7e,#95bf71,#b8bd63,#d9ba55,#f5ba46,#fec634,#fad32a,#f5de21)"></i><i style="background:linear-gradient(90deg,#7dbf7b,#8cbf75,#96bf71,#9bbf6f,#9abf6f,#95bf71,#8cbf75,#83bf79,#79bf7d,#6fbf81,#69be84,#66be85,#66be85,#63be86,#5ebe89,#56bd8d,#4dbc92,#43bb97,#38b99d,#30b7a3,#2ab6a6,#26b5a9,#23b5ab,#21b4ac,#1eb3ae,#1cb3af,#1db3af,#22b4ab,#2bb6a6,#37b99f,#45bb96,#58bd8c,#72bf80,#94bf72,#b9bd63,#ddba54,#f9bb43,#fdc931,#f8d627,#f5e11f)"></i><i style="background:linear-gradient(90deg,#56bd8d,#68be84,#73bf7f,#79bf7d,#7abf7d,#75bf7f,#6ebf82,#66be85,#5fbe89,#58bd8c,#54bd8e,#54bd8e,#56bd8d,#54bd8e,#4ebc91,#45bb96,#3bb99c,#32b8a1,#2ab6a6,#24b5aa,#20b4ad,#1eb3ae,#1cb3b0,#1ab2b1,#18b1b2,#16b1b3,#18b1b2,#1db3af,#25b5a9,#31b8a2,#40ba99,#52bd8f,#6ebf82,#92bf73,#b8bd63,#ddba54,#fabc42,#fdca30,#f8d726,#f5e21e)"></i><i style="background:linear-gradient(90deg,#2cb7a5,#3cba9b,#49bc94,#51bd90,#54bd8e,#52bd8f,#4dbc92,#47bb95,#42bb98,#3eba9a,#3dba9b,#3fba99,#43bb97,#42bb98,#3eba9a,#36b89f,#2db7a4,#26b5a9,#20b4ad,#1bb2b0,#19b2b2,#17b1b3,#15b1b4,#14b0b5,#12afb7,#11afb7,#13b0b6,#18b1b3,#20b4ad,#2cb7a5,#3bb99c,#4ebc91,#6abe83,#8fbf74,#b7bd64,#ddba54,#fabc41,#fdcb30,#f7d826,#f5e31e)"></i><i style="background:linear-gradient(90deg,#12afb7,#1fb3ae,#2ab6a6,#32b8a1,#36b99f,#36b99f,#33b8a0,#30b7a2,#2db7a4,#2bb6a6,#2bb6a5,#2eb7a3,#33b8a0,#35b8a0,#32b8a1,#2cb7a5,#26b5a9,#20b4ad,#1ab2b1,#16b1b4,#13b0b6,#11afb8,#0faeb9,#0eaeba,#0dadbb,#0dadbb,#0faeb9,#14b0b5,#1db3af,#29b6a7,#38b99d,#4bbc93,#67be85,#8dbf74,#b6bd64,#ddba54,#fabc41,#fdcc2f,#f7d925,#f5e41d)"></i><i style="background:linear-gradient(90deg,#06a8c4,#0badbc,#13b0b6,#19b2b2,#1db3af,#1eb3ae,#1eb3ae,#1eb3ae,#1db3af,#1db3af,#1eb3ae,#23b4ab,#29b6a7,#2cb7a5,#2bb6a6,#27b5a8,#21b4ac,#1cb3b0,#17b1b3,#13b0b6,#0faeb9,#0daeba,#0cadbc,#0badbc,#0bacbd,#0badbc,#0eaeba,#13b0b6,#1db3af,#29b6a7,#38b99e,#4bbc93,#67be85,#8dbf74,#b6bd64,#ddba54,#fbbc41,#fccc2f,#f7da24,#f5e61c)"></i><i style="background:linear-gradient(90deg,#079dcf,#06a3ca,#06a7c6,#07aac1,#09acbe,#0cadbc,#0eaeba,#10afb9,#11afb8,#12afb7,#15b0b5,#19b2b1,#20b4ad,#24b5aa,#24b5aa,#21b4ac,#1cb3af,#18b2b2,#15b0b5,#12afb7,#0faeb9,#0eaeba,#0daebb,#0dadbb,#0cadbc,#0cadbb,#0eaeba,#13b0b6,#1cb3b0,#27b5a8,#35b8a0,#47bb95,#63be87,#8abf76,#b4bd65,#dcba55,#fbbc41,#fccd2e,#f6dc23,#f5ea19)"></i><i style="background:linear-gradient(90deg,#128ad3,#0c93d2,#089ad0,#069fce,#06a2cb,#06a4c9,#06a6c6,#06a8c4,#07a9c2,#08abc0,#0aacbd,#0eaeba,#14b0b6,#18b1b3,#19b2b2,#17b1b3,#15b1b4,#13b0b6,#11afb8,#0faeb9,#0eaeba,#0daeba,#0daeba,#0daeba,#0dadbb,#0dadbb,#0eaeba,#11afb7,#18b1b3,#21b4ac,#2eb7a4,#40ba99,#5dbe8a,#85bf78,#b0bd66,#d9ba56,#fabb42,#fccd2f,#f6dc23,#f5eb18)"></i><i style="background:linear-gradient(90deg,#1480d6,#1487d3,#118dd2,#0d93d2,#0998d1,#089bd0,#079dcf,#06a0cd,#06a2cc,#06a4ca,#06a6c7,#06a8c4,#08abc0,#0aacbd,#0cadbc,#0cadbc,#0badbc,#0aacbd,#09acbe,#09abbf,#09abbf,#09abbf,#09abbf,#09abbf,#09abbf,#09abbf,#0aacbe,#0dadbb,#12b0b7,#1bb2b0,#27b5a8,#38b99d,#55bd8e,#7ebf7b,#abbe69,#d4bb58,#f5ba47,#fec932,#f7d925,#f5e71b)"></i><i style="background:linear-gradient(90deg,#0f78db,#137ed7,#1483d5,#1388d3,#118cd2,#0f8fd2,#0d93d2,#0a96d1,#0899d1,#079cd0,#069fce,#06a2cb,#06a4c9,#06a6c7,#06a7c6,#06a7c6,#06a7c6,#06a7c6,#06a7c6,#06a6c6,#06a6c6,#06a7c6,#06a7c6,#06a7c5,#06a8c5,#06a8c4,#07aac2,#09acbe,#0eaeba,#16b1b3,#22b4ab,#33b8a1,#4dbc91,#76bf7e,#a4be6b,#cebb5a,#f1b949,#fec733,#f7d826,#f5e91a)"></i><i style="background:linear-gradient(90deg,#026ae1,#0871df,#0e76dc,#117bd9,#137fd7,#1482d5,#1484d4,#1388d3,#128cd2,#0f90d2,#0c94d2,#0998d1,#079bd0,#079ecf,#069fce,#06a0cd,#06a0cd,#06a0cd,#06a1cd,#06a1cc,#06a1cc,#06a2cb,#06a3cb,#06a4ca,#06a5c9,#06a6c7,#06a7c5,#07aac1,#0badbc,#13b0b6,#1fb4ad,#30b7a2,#4bbc93,#75bf7f,#a3be6c,#cebb5a,#f2b949,#fdca31,#f6dd22,#f6f214)"></i></div>
<div class="cb" style="left:236.70px;top:180.70px;width:12.20px;height:73.60px;background:linear-gradient(180deg,#f9fb0e,#f5eb18,#f5de21,#f9d329,#fec932,#febf3c,#f2b949,#e3b951,#d3bb58,#c2bc5f,#b1bd66,#9fbe6d,#8bbf75,#75bf7e,#5ebe89,#47bb95,#33b8a1,#21b4ac,#13b0b6,#09abbf,#06a6c7,#069fce,#0a97d1,#118dd2,#1484d4,#127cd8,#0c74dd,#046ce0,#0462e0,#2152d3,#3243b9,#36369f,#352a87)"></div>
<div class="hm" style="left:313.60px;top:181.30px;width:97.10px;height:74.00px"><i style="background:linear-gradient(90deg,#d2bb58,#c4bc5f,#b3bd65,#9fbe6d,#89bf76,#6dbf82,#52bd8f,#3bb99c,#2ab6a6,#1cb3af,#0faeb9,#07a9c3,#06a2cb,#079cd0,#0a96d1,#0d92d2,#0f90d2,#118ed2,#118dd2,#118dd2,#108ed2,#0f90d2,#0d92d2,#0b95d2,#0997d1,#089ad0,#079dcf,#069fce,#06a2cc,#06a5c8,#07a9c2,#10afb8,#1fb4ad,#31b8a2,#42bb98,#55bd8e,#6abe84,#80bf7a,#96bf71,#abbe68)"></i><i style="background:linear-gradient(90deg,#e2b952,#d2bb59,#c0bc60,#abbe68,#93bf72,#77bf7e,#5abd8b,#42bb98,#30b7a3,#20b4ad,#12afb7,#07aac1,#06a3cb,#079cd0,#0b95d2,#0e91d2,#118ed2,#118cd2,#128bd2,#128cd2,#118dd2,#108ed2,#0f90d2,#0d93d2,#0a96d1,#089ad1,#079dcf,#06a0cd,#06a3ca,#06a7c6,#09abbf,#14b0b5,#24b5aa,#36b99f,#48bb94,#5bbd8b,#6fbf81,#83bf79,#97bf70,#aabe69)"></i><i style="background:linear-gradient(90deg,#edb94c,#ddba54,#cabb5c,#b5bd65,#9cbf6e,#80bf7a,#62be87,#48bb95,#33b8a1,#22b4ac,#12afb7,#07aac2,#06a2cb,#089ad0,#0c93d2,#108ed2,#128bd2,#1389d3,#1389d3,#1389d3,#1389d3,#128bd2,#118dd2,#0f90d2,#0c94d2,#0998d1,#079cd0,#06a0cd,#06a3ca,#06a7c5,#0aacbd,#17b1b3,#28b6a8,#3ab99c,#4cbc92,#5fbe89,#72bf80,#85bf78,#98bf70,#a9be69)"></i><i style="background:linear-gradient(90deg,#f1b949,#e2b951,#d1bb59,#bebc61,#a7be6a,#8cbf75,#6dbf82,#50bc90,#37b99e,#23b4ab,#11afb7,#07a9c3,#06a1cc,#0998d1,#0e91d2,#128cd2,#1388d3,#1487d3,#1487d3,#1487d3,#1388d3,#1389d3,#128cd2,#108fd2,#0c93d2,#0998d1,#079cd0,#06a0cd,#06a4c9,#06a8c4,#0cadbc,#19b2b2,#2ab6a6,#3dba9b,#4fbc90,#62be87,#75bf7f,#87bf77,#98bf70,#a8be69)"></i><i style="background:linear-gradient(90deg,#efb94b,#e1ba52,#d1bb59,#bfbc60,#a9be69,#8ebf74,#6fbf81,#50bc90,#35b89f,#20b4ad,#0eaeba,#06a7c5,#069fce,#0a96d1,#108fd2,#138ad3,#1487d3,#1486d4,#1486d4,#1487d3,#1389d3,#128bd2,#118ed2,#0e91d2,#0a96d1,#089ad0,#069fce,#06a3cb,#06a6c6,#08aac0,#10afb8,#1eb3ae,#2fb7a3,#41ba99,#52bd8f,#63be86,#75bf7f,#86bf77,#96bf71,#a5be6b)"></i><i style="background:linear-gradient(90deg,#f1b949,#e3b951,#d3bb58,#c1bc60,#abbe69,#8fbf74,#70bf81,#4fbc90,#35b8a0,#1fb3ad,#0eaeba,#06a7c5,#069fce,#0a97d1,#0f8fd2,#128bd2,#1388d3,#1487d3,#1388d3,#1389d3,#128bd2,#108ed2,#0d92d2,#0a96d1,#089ad0,#069ece,#06a2cc,#06a5c8,#06a8c4,#0aacbe,#12b0b6,#1fb4ad,#2fb7a3,#3eba9a,#4ebc91,#5dbe8a,#6cbf82,#7cbf7c,#8bbf75,#99bf70)"></i><i style="background:linear-gradient(90deg,#f4ba47,#e5b950,#d5ba57,#c1bc5f,#aabe69,#8ebf74,#6ebf82,#4ebc91,#34b8a0,#1fb4ad,#0faeb9,#06a8c4,#06a0cd,#0997d1,#0f90d2,#128bd2,#1389d3,#1388d3,#1389d3,#128bd2,#108ed2,#0e91d2,#0b95d2,#0899d1,#079dcf,#06a0cd,#06a4ca,#06a7c6,#07aac2,#0cadbc,#14b0b5,#21b4ac,#2fb7a3,#3dba9b,#4bbc93,#59bd8c,#66be85,#73bf7f,#80bf7a,#8dbf74)"></i><i style="background:linear-gradient(90deg,#fcbd3f,#f0b94a,#dfba53,#cabb5c,#b2bd66,#94bf72,#73bf7f,#52bd8f,#36b99f,#21b4ac,#10afb8,#06a8c4,#06a0cd,#0998d1,#0f90d2,#118cd2,#138ad3,#1389d3,#138ad3,#128bd3,#118cd2,#108ed2,#0e91d2,#0b95d1,#089ad0,#069ece,#06a2cb,#06a6c7,#07aac2,#0cadbc,#15b0b5,#21b4ac,#2eb7a4,#3cba9b,#4abc93,#58bd8c,#65be86,#72bf80,#7ebf7b,#8abf76)"></i><i style="background:linear-gradient(90deg,#fec833,#fdbe3e,#eeb94b,#d9ba56,#c1bc60,#a3be6c,#81bf79,#5ebe89,#3fba99,#27b5a8,#13b0b6,#07a9c2,#06a2cc,#0899d1,#0d92d2,#118dd2,#138ad3,#1388d3,#1388d3,#1388d3,#1389d3,#138ad3,#118dd2,#0e91d2,#0a96d1,#079cd0,#06a1cc,#06a5c8,#07a9c3,#0bacbd,#13b0b6,#1fb4ad,#2db7a4,#3cba9b,#4bbc93,#5abd8b,#68be84,#76bf7e,#82bf79,#8dbf74)"></i><i style="background:linear-gradient(90deg,#fdcc2f,#fec239,#f5ba47,#e0ba52,#c8bc5d,#abbe68,#8abf76,#67be85,#46bb96,#2bb6a5,#16b1b4,#07aac1,#06a1cc,#0998d1,#0f8fd2,#138ad3,#1487d3,#1485d4,#1485d4,#1485d4,#1486d4,#1388d3,#128bd3,#0f8fd2,#0b95d1,#079bd0,#06a0cd,#06a5c9,#06a8c4,#09acbe,#11afb7,#1db3af,#2ab6a6,#39b99d,#49bc94,#5abd8b,#6abe83,#79bf7d,#87bf77,#92bf72)"></i><i style="background:linear-gradient(90deg,#fbd02c,#fec634,#f9bb43,#e6b950,#cdbb5b,#b0bd66,#8fbf74,#6cbf82,#4abc93,#2db7a4,#16b1b4,#07aac2,#06a1cd,#0a96d1,#118dd2,#1487d3,#1484d4,#1483d5,#1483d5,#1484d4,#1486d4,#1388d3,#128bd2,#0f90d2,#0b96d1,#079cd0,#06a0cd,#06a4c9,#06a8c4,#09abbf,#10afb8,#1cb2b0,#29b6a7,#38b99e,#48bb95,#58bd8c,#68be84,#77bf7e,#84bf78,#90bf73)"></i><i style="background:linear-gradient(90deg,#f8d726,#fccd2f,#fec03b,#efb94b,#d6ba57,#babd63,#9abf6f,#77bf7e,#53bd8f,#34b8a0,#1ab2b1,#08abc0,#06a2cb,#0999d1,#0f90d2,#138ad3,#1487d3,#1486d4,#1487d3,#1388d3,#138ad3,#128cd2,#108ed2,#0d92d2,#0a97d1,#079cd0,#06a0cd,#06a4c9,#06a8c4,#09abbf,#10afb8,#1bb2b0,#28b6a8,#35b8a0,#43bb97,#51bd8f,#60be88,#6dbf82,#78bf7d,#83bf79)"></i><i style="background:linear-gradient(90deg,#f6db23,#fbd02c,#ffc436,#f4ba47,#dcba54,#bfbc60,#a0be6d,#80bf7a,#5dbe8a,#3dba9b,#22b4ab,#0daeba,#06a6c7,#069ece,#0a97d1,#0e91d2,#108ed2,#118cd2,#118dd2,#108ed2,#0e91d2,#0d93d2,#0a96d1,#0899d1,#079dcf,#06a1cd,#06a4ca,#06a7c6,#07a9c2,#0aacbd,#11afb7,#1bb2b0,#27b5a8,#33b8a0,#40ba99,#4ebc91,#5bbd8b,#67be85,#73bf7f,#7ebf7b)"></i><i style="background:linear-gradient(90deg,#f7d826,#fcce2e,#ffc238,#f3ba48,#dcba54,#c1bc60,#a3be6c,#84bf78,#65be86,#47bb95,#2cb7a5,#16b1b4,#08aac0,#06a4c9,#079ecf,#0899d1,#0b95d2,#0d93d2,#0d93d2,#0b95d2,#0997d1,#089ad0,#079dcf,#06a0cd,#06a2cb,#06a5c8,#06a8c5,#07aac1,#09acbe,#0eaeba,#15b0b5,#1eb3ae,#2ab6a6,#37b99e,#45bb96,#53bd8f,#61be88,#6dbf82,#79bf7d,#84bf78)"></i><i style="background:linear-gradient(90deg,#fad12b,#fec833,#fcbd3f,#ebb94d,#d4bb58,#b9bd63,#9dbe6e,#81bf79,#65be85,#4cbc92,#33b8a1,#1db3af,#0badbc,#06a7c6,#06a2cc,#079dcf,#089ad0,#0998d1,#0997d1,#0999d1,#089ad0,#079cd0,#069fce,#06a1cc,#06a4ca,#06a6c7,#06a9c3,#08abc0,#0badbc,#10afb8,#18b1b2,#23b4ab,#2fb7a3,#3dba9b,#4cbc92,#5bbd8a,#69be84,#76bf7e,#82bf79,#8cbf75)"></i><i style="background:linear-gradient(90deg,#fcce2e,#ffc437,#f8ba44,#e4b950,#cdbb5b,#b2bd66,#96bf71,#7abf7c,#60be88,#49bc94,#32b8a1,#1db3af,#0cadbc,#06a8c5,#06a3ca,#069fce,#079cd0,#089ad0,#0899d1,#089ad0,#089bd0,#079cd0,#079ecf,#06a0cd,#06a3cb,#06a5c8,#06a8c4,#08aac1,#0bacbd,#11afb8,#19b2b2,#24b5aa,#31b8a2,#40ba99,#4fbc90,#5fbe88,#6ebf82,#7bbf7c,#87bf77,#92bf73)"></i><i style="background:linear-gradient(90deg,#fdca31,#fec03b,#f2b949,#deba54,#c6bc5e,#abbe69,#8ebf74,#73bf80,#5abd8b,#43bb97,#2eb7a4,#1ab2b1,#0aacbe,#06a6c6,#06a2cc,#079ecf,#089bd0,#0899d1,#0998d1,#0899d1,#089ad0,#079bd0,#079dcf,#06a0cd,#06a2cb,#06a5c8,#06a7c5,#07aac1,#0bacbd,#11afb8,#19b2b1,#24b5aa,#31b8a2,#3fba9a,#4dbc92,#5cbe8a,#6bbe83,#79bf7d,#86bf77,#92bf73)"></i><i style="background:linear-gradient(90deg,#fec635,#fbbd40,#ecb94c,#d8ba56,#c1bc60,#a5be6b,#88bf77,#6cbf83,#54bd8e,#3fba9a,#2ab6a6,#17b1b3,#09abbf,#06a5c8,#06a1cd,#079dcf,#089ad0,#0999d1,#0998d1,#0998d1,#0899d1,#089ad0,#079dcf,#069fce,#06a2cc,#06a4c9,#06a7c5,#08aac1,#0badbc,#12b0b6,#1cb2b0,#27b5a8,#33b8a1,#40ba99,#4dbc92,#5cbe8a,#6bbe83,#7abf7c,#88bf76,#94bf71)"></i><i style="background:linear-gradient(90deg,#fec832,#fdbe3d,#efb94b,#dbba55,#c4bc5e,#a9be69,#8bbf75,#6ebf81,#54bd8e,#3dba9b,#27b6a8,#14b0b5,#08aac1,#06a5c9,#06a0cd,#079dcf,#089bd0,#0899d1,#0998d1,#0998d1,#0998d1,#0899d1,#089bd0,#079dcf,#06a0cd,#06a3ca,#06a6c6,#07a9c2,#0badbd,#12b0b6,#1cb3af,#28b6a8,#35b8a0,#42bb98,#50bc90,#5fbe88,#6ebf81,#7dbf7b,#8abf76,#96bf71)"></i><i style="background:linear-gradient(90deg,#fccd2e,#fec239,#f4ba47,#e0ba52,#c9bc5c,#aebe67,#90bf73,#74bf7f,#59bd8c,#41ba99,#2ab6a6,#15b1b4,#08aac0,#06a5c8,#06a0cd,#079dcf,#089bd0,#0899d1,#0998d1,#0997d1,#0997d1,#0998d1,#089ad0,#079cd0,#069fce,#06a1cc,#06a4c9,#06a8c5,#09abbf,#0faeb9,#19b2b2,#25b5aa,#32b8a2,#3fba99,#4ebc91,#5ebe89,#6dbf82,#7cbf7c,#89bf76,#95bf71)"></i><i style="background:linear-gradient(90deg,#fad32a,#fec733,#fabc42,#e6b94f,#cebb5a,#b3bd65,#97bf71,#7bbf7c,#62be87,#4bbc93,#33b8a1,#1db3af,#0badbc,#06a7c5,#06a3cb,#069fce,#079dcf,#089ad0,#0899d1,#0998d1,#0998d1,#0999d1,#089ad0,#079bd0,#079ecf,#06a0cd,#06a3ca,#06a6c6,#07aac1,#0dadbb,#15b1b4,#20b4ad,#2cb7a5,#3ab99d,#49bc94,#59bd8b,#6abe83,#7abf7c,#89bf76,#95bf71)"></i><i style="background:linear-gradient(90deg,#f8d627,#fdca31,#fcbd3f,#e9b94e,#d1bb59,#b6bd64,#9bbf6f,#80bf7a,#68be84,#51bd90,#39b99d,#22b4ab,#0faeb9,#07a9c2,#06a5c8,#06a2cb,#06a0cd,#079ecf,#079cd0,#089bd0,#089ad0,#089ad0,#079bd0,#079dcf,#069ece,#06a1cd,#06a3ca,#06a7c6,#08aac1,#0dadbb,#15b0b5,#1eb3ae,#2ab6a6,#37b99e,#46bb96,#57bd8d,#68be84,#79bf7d,#88bf77,#95bf71)"></i><i style="background:linear-gradient(90deg,#f6dc23,#fbcf2d,#fec13a,#eeb94c,#d4bb58,#b8bd63,#9bbf6f,#80bf7a,#68be84,#52bd8f,#3bb99c,#25b5aa,#12b0b6,#08abc0,#06a7c6,#06a4c9,#06a2cb,#06a0cd,#069fce,#069ece,#079ecf,#069fce,#06a0cd,#06a1cc,#06a2cb,#06a4c9,#06a6c6,#07a9c2,#0aacbd,#11afb7,#1ab2b1,#23b4ab,#2db7a4,#3ab99d,#48bb94,#58bd8c,#69be84,#78bf7d,#87bf77,#94bf72)"></i><i style="background:linear-gradient(90deg,#f5e11f,#fad22a,#ffc437,#f1b949,#d7ba57,#babd63,#9cbf6e,#80bf7a,#68be84,#51bd90,#3ab99c,#25b5aa,#13b0b6,#09abbf,#06a8c4,#06a5c8,#06a4ca,#06a2cb,#06a1cc,#06a1cd,#06a1cc,#06a2cb,#06a4ca,#06a5c8,#06a6c7,#06a7c5,#07a9c2,#0aacbe,#10afb8,#18b1b3,#20b4ad,#29b6a7,#32b8a1,#3eba9a,#4bbc93,#59bd8b,#68be84,#77bf7e,#85bf78,#92bf72)"></i><i style="background:linear-gradient(90deg,#f5de21,#fbd02c,#fec239,#efb94a,#d6ba57,#b9bd63,#9cbf6f,#7fbf7a,#66be85,#4fbc91,#38b99e,#23b4ab,#12afb7,#09abbf,#06a8c4,#06a6c7,#06a5c8,#06a4c9,#06a3ca,#06a3ca,#06a4ca,#06a4c9,#06a5c8,#06a6c7,#06a7c5,#06a8c4,#08aac1,#0badbc,#13b0b6,#1cb3af,#26b5a9,#2fb7a3,#38b99e,#43bb97,#4fbc91,#5cbe8a,#6abe83,#78bf7d,#86bf77,#94bf72)"></i><i style="background:linear-gradient(90deg,#f7d925,#fdcc2f,#fdbe3d,#ebb94d,#d2bb59,#b6bd64,#99bf70,#7dbf7b,#64be86,#4ebc91,#38b99e,#24b5aa,#14b0b6,#0aacbe,#07a9c3,#06a7c6,#06a6c7,#06a4c9,#06a3ca,#06a3cb,#06a3cb,#06a3ca,#06a4c9,#06a5c8,#06a6c7,#06a7c6,#07a9c2,#0aacbe,#12afb7,#1bb2b0,#25b5aa,#2eb7a4,#38b99e,#43bb97,#50bc90,#5ebe89,#6cbf82,#7bbf7c,#89bf76,#96bf71)"></i><i style="background:linear-gradient(90deg,#fcce2e,#fec239,#f2b948,#ddba54,#c4bc5e,#a8be6a,#8cbf75,#72bf80,#5dbe89,#4cbc92,#3bb99c,#2ab6a6,#1ab2b1,#10afb8,#0aacbe,#07aac2,#06a8c5,#06a6c7,#06a4c9,#06a3cb,#06a2cb,#06a2cb,#06a3ca,#06a4c9,#06a5c8,#06a6c7,#06a8c4,#08aac0,#0daeba,#15b1b4,#1db3af,#25b5a9,#2fb7a3,#3ab99d,#47bb95,#55bd8d,#65be86,#74bf7f,#82bf79,#90bf73)"></i><i style="background:linear-gradient(90deg,#fdca31,#fdbe3e,#edb94c,#d7ba57,#bfbc61,#a2be6c,#86bf77,#6dbf82,#5bbd8b,#4cbc92,#3dba9b,#2eb7a4,#21b4ac,#16b1b4,#0faeb9,#0aacbd,#08aac1,#06a8c4,#06a6c6,#06a5c8,#06a4c9,#06a4c9,#06a5c8,#06a5c8,#06a5c8,#06a6c7,#06a7c6,#07a9c2,#0aacbd,#11afb8,#18b1b2,#20b4ad,#28b6a7,#33b8a1,#3fba9a,#4dbc92,#5bbd8a,#6abe83,#7abf7d,#89bf76)"></i><i style="background:linear-gradient(90deg,#fad22a,#fec634,#f8ba44,#e1b952,#c7bc5d,#a8be6a,#89bf76,#6ebf82,#59bd8b,#49bc94,#3bb99c,#2eb7a4,#22b4ab,#19b2b2,#12afb7,#0daebb,#0aacbe,#08aac0,#07a9c3,#06a8c4,#06a8c4,#06a8c4,#06a8c4,#06a8c4,#06a7c5,#06a7c6,#06a7c6,#07a9c3,#09abbe,#0faeb9,#16b1b4,#1db3af,#25b5a9,#2fb7a3,#3ab99c,#48bb94,#57bd8c,#67be85,#78bf7d,#87bf77)"></i><i style="background:linear-gradient(90deg,#f6dc23,#fbd02c,#ffc238,#efb94b,#d2bb59,#b1bd66,#8fbf73,#71bf80,#59bd8b,#49bb94,#3bb99c,#2fb7a3,#25b5aa,#1cb3af,#16b1b4,#10afb8,#0cadbb,#09acbe,#08aac0,#07aac2,#07a9c2,#07a9c3,#07a9c3,#06a8c4,#06a7c5,#06a6c6,#06a6c6,#06a8c4,#08abc0,#0daeba,#14b0b5,#1bb2b0,#24b5aa,#2eb7a4,#3ab99c,#49bc94,#5abd8b,#6bbe83,#7cbf7c,#8cbf75)"></i><i style="background:linear-gradient(90deg,#f5df21,#f9d429,#fec734,#f6ba45,#dbba55,#bbbd62,#9abf6f,#7dbf7b,#65be86,#53bd8f,#44bb97,#38b99e,#2db7a4,#24b5aa,#1db3af,#16b1b4,#11afb8,#0cadbb,#09abbe,#08aac1,#07a9c2,#07a9c3,#06a8c4,#06a8c4,#06a7c6,#06a6c7,#06a6c6,#06a8c4,#09abbf,#0eaeba,#16b1b4,#1db3af,#26b5a9,#30b7a2,#3dba9b,#4dbc92,#5ebe89,#71bf80,#83bf79,#93bf72)"></i><i style="background:linear-gradient(90deg,#f5df21,#f9d528,#fec833,#f8bb44,#deba53,#bebc61,#9ebe6d,#81bf79,#69be84,#56bd8d,#47bb95,#3ab99c,#30b7a3,#27b5a8,#1fb3ae,#18b1b2,#12afb7,#0daebb,#0aacbe,#08aac0,#07a9c2,#07a9c3,#06a8c4,#06a7c5,#06a7c6,#06a6c7,#06a6c6,#06a8c4,#09abbf,#0eaeba,#15b1b4,#1cb3af,#25b5aa,#2fb7a3,#3cba9b,#4cbc92,#5fbe89,#72bf80,#85bf78,#96bf71)"></i><i style="background:linear-gradient(90deg,#f5e020,#f9d528,#fec932,#f9bb43,#dfba53,#bfbc60,#9fbe6d,#83bf79,#6bbf83,#58bd8c,#49bb94,#3cba9b,#31b8a2,#28b6a8,#20b4ad,#19b2b2,#13b0b6,#0faeb9,#0badbc,#09abbf,#08aac0,#07aac2,#07a9c3,#06a8c4,#06a7c5,#06a6c7,#06a7c6,#06a8c4,#09abbf,#0eaeba,#15b0b5,#1cb3af,#24b5aa,#2eb7a4,#39b99d,#48bb94,#58bd8c,#6bbe83,#7dbf7b,#8ebf74)"></i><i style="background:linear-gradient(90deg,#f5e020,#f9d528,#fec833,#f8ba44,#deba53,#bfbc60,#a0be6d,#85bf78,#6fbf81,#5cbe8a,#4dbc92,#40ba99,#36b99f,#2db7a4,#25b5a9,#1eb3ae,#18b1b2,#13b0b6,#0eaeba,#0badbc,#09abbe,#08aac0,#07aac2,#07a9c3,#06a7c5,#06a7c6,#06a7c6,#07a9c3,#09abbf,#0faeb9,#15b0b4,#1bb2b0,#22b4ab,#2bb6a6,#36b99f,#44bb97,#55bd8e,#67be85,#7abf7c,#8cbf75)"></i><i style="background:linear-gradient(90deg,#f6dc23,#fad22b,#fec535,#f5ba46,#dcba54,#bebc61,#a1be6d,#86bf77,#70bf81,#5ebe89,#4fbc90,#44bb97,#3bba9c,#33b8a1,#2bb6a5,#24b5aa,#1db3af,#18b1b3,#13b0b6,#0faeb9,#0dadbb,#0bacbd,#09abbf,#08aac1,#07a9c3,#06a8c5,#06a8c5,#07a9c3,#09acbe,#0faeb9,#15b0b5,#1bb2b0,#22b4ab,#2cb7a5,#37b99e,#46bb96,#57bd8d,#69be84,#7cbf7b,#8ebf74)"></i><i style="background:linear-gradient(90deg,#f7da24,#fbd02c,#ffc437,#f4ba47,#dbba55,#bebc61,#a1be6c,#87bf77,#71bf80,#5fbe89,#50bc90,#45bb96,#3cba9b,#35b8a0,#2eb7a4,#28b6a7,#23b4ab,#1db3af,#18b1b2,#14b0b5,#11afb8,#0eaeba,#0cadbc,#0aacbe,#08aac1,#07a9c3,#06a8c4,#07a9c2,#0aacbe,#0faeb9,#16b1b4,#1db3af,#25b5aa,#2fb7a3,#3cba9b,#4bbc93,#5bbd8b,#6cbf82,#7fbf7a,#91bf73)"></i><i style="background:linear-gradient(90deg,#f8d826,#fcce2e,#fec239,#f2b949,#daba55,#bdbc61,#a0be6d,#85bf78,#6ebf82,#5bbd8b,#4bbc93,#3eba9a,#35b89f,#2eb7a4,#28b6a8,#24b5aa,#1fb4ad,#1bb2b0,#17b1b3,#13b0b6,#10afb8,#0eaeba,#0cadbb,#0aacbe,#08abc0,#07a9c2,#07a9c3,#08aac1,#0badbd,#11afb8,#17b1b3,#1eb3ae,#26b5a9,#2fb7a3,#39b99d,#46bb96,#54bd8e,#65be86,#77bf7e,#8abf76)"></i><i style="background:linear-gradient(90deg,#f8d627,#fdcb30,#febf3c,#eeb94b,#d6ba57,#babd63,#9dbf6e,#81bf79,#69be84,#55bd8e,#44bb96,#38b99e,#2fb7a3,#28b6a8,#22b4ab,#1db3af,#19b2b2,#15b0b4,#11afb7,#0eaeba,#0cadbc,#0bacbd,#0aacbe,#08abc0,#07aac1,#07a9c3,#07a9c3,#07aac1,#0aacbd,#0faeb9,#14b0b5,#1ab2b1,#20b4ad,#28b6a8,#31b8a2,#3dba9b,#4bbc93,#5cbe8a,#6fbf81,#84bf78)"></i><i style="background:linear-gradient(90deg,#f8d727,#fdcb30,#fdbe3d,#ecb94d,#d3bb58,#b6bd64,#99bf70,#7dbf7b,#64be86,#51bd8f,#42bb98,#37b99e,#2fb7a3,#28b6a8,#22b4ab,#1eb3ae,#1ab2b1,#15b1b4,#10afb8,#0dadbb,#0aacbd,#09abbf,#08abc0,#07aac1,#07a9c2,#06a8c4,#06a9c3,#07aac1,#0aacbe,#0eaeba,#13b0b6,#18b1b3,#1eb3ae,#25b5aa,#2eb7a4,#39b99d,#47bb95,#59bd8c,#6ebf82,#84bf78)"></i><i style="background:linear-gradient(90deg,#f6dc23,#fbcf2d,#fec139,#efb94b,#d6ba57,#b9bd63,#9bbf6f,#7fbf7a,#67be85,#54bd8e,#44bb97,#38b99e,#2fb7a3,#28b6a8,#22b4ab,#1eb3ae,#19b2b1,#14b0b5,#0faeb9,#0bacbd,#09abbf,#08aac1,#07aac1,#07a9c2,#06a8c3,#06a8c4,#06a8c4,#07a9c2,#09acbe,#0eaeba,#13b0b6,#18b1b2,#1eb3ae,#26b5a9,#30b7a2,#3dba9b,#4cbc92,#5fbe88,#75bf7f,#8bbf75)"></i><i style="background:linear-gradient(90deg,#f6dc23,#fbcf2d,#fec13a,#eeb94b,#d5ba57,#b8bd63,#9bbf6f,#80bf7a,#68be84,#55bd8e,#45bb96,#38b99e,#2eb7a4,#27b5a8,#21b4ac,#1cb3af,#17b1b3,#11afb7,#0badbc,#08abc0,#07a9c2,#06a9c3,#06a8c4,#06a8c4,#06a7c5,#06a7c6,#06a7c5,#07a9c3,#09abbf,#0dadbb,#12afb7,#18b1b2,#20b4ad,#29b6a7,#35b89f,#44bb97,#56bd8d,#6bbf83,#81bf79,#97bf70)"></i><i style="background:linear-gradient(90deg,#f8d727,#fdca31,#fcbd3f,#e9b94e,#d0bb59,#b5bd65,#98bf70,#7ebf7b,#67be85,#54bd8e,#44bb96,#38b99e,#2eb7a4,#27b5a8,#21b4ac,#1db3af,#18b1b2,#12afb7,#0cadbc,#08abc0,#07a9c2,#06a8c4,#06a7c5,#06a7c6,#06a6c6,#06a6c7,#06a6c6,#06a8c4,#08aac0,#0cadbc,#11afb7,#18b1b2,#20b4ad,#2bb6a6,#38b99e,#49bc94,#5dbe8a,#73bf7f,#89bf76,#9fbe6d)"></i><i style="background:linear-gradient(90deg,#f9d329,#fec733,#fabc41,#e7b94f,#d1bb59,#b8bd63,#9ebe6e,#86bf77,#70bf81,#5dbe89,#4cbc92,#3fba9a,#34b8a0,#2cb7a5,#26b5a9,#23b4ab,#1eb3ae,#18b2b2,#12afb7,#0cadbb,#09acbe,#08aac0,#07aac2,#07a9c3,#06a7c5,#06a6c6,#06a6c6,#06a7c5,#07a9c2,#0aacbe,#0faeb9,#16b1b4,#1fb3ae,#2ab6a6,#38b99e,#49bc94,#5ebe89,#75bf7e,#8dbf75,#a3be6c)"></i><i style="background:linear-gradient(90deg,#fbd02c,#ffc436,#f8ba44,#e6b950,#d1bb59,#babd63,#a2be6c,#8cbf75,#78bf7d,#67be85,#57bd8c,#4bbc93,#40ba99,#38b99e,#33b8a1,#2fb7a3,#2ab6a6,#24b5aa,#1bb2b0,#14b0b5,#0faeb9,#0cadbc,#0aacbe,#08abc0,#07a9c2,#06a8c4,#06a8c5,#06a8c4,#08aac1,#0aacbd,#10afb9,#16b1b3,#1fb4ad,#2bb6a6,#3ab99d,#4cbc92,#62be87,#7abf7c,#91bf73,#a7be6a)"></i><i style="background:linear-gradient(90deg,#fccd2e,#fec239,#f6ba46,#e4b950,#d2bb59,#bdbd61,#a8be6a,#95bf71,#83bf78,#73bf7f,#65be86,#57bd8c,#4cbc92,#44bb97,#3eba9a,#3ab99d,#34b8a0,#2db7a5,#23b4ab,#1ab2b1,#14b0b6,#0faeb9,#0cadbb,#0aacbe,#08abc0,#07aac2,#07a9c2,#07aac1,#09abbe,#0dadbb,#12afb7,#19b2b2,#23b4ab,#2fb7a3,#40ba99,#55bd8e,#6dbf82,#85bf78,#9cbf6e,#b2bd66)"></i><i style="background:linear-gradient(90deg,#fdcb30,#fec03a,#f4ba47,#e4b951,#d3bb58,#c1bc60,#b0bd66,#a1be6d,#92bf72,#83bf79,#74bf7f,#64be86,#56bd8d,#4bbc93,#44bb97,#40ba99,#3bb99c,#33b8a1,#29b6a7,#1fb3ae,#18b1b2,#13b0b6,#10afb8,#0daeba,#0badbc,#0aacbe,#09acbe,#0aacbd,#0dadbb,#11afb8,#17b1b3,#1fb3ae,#2ab6a6,#38b99d,#4cbc93,#63be87,#7bbf7c,#92bf72,#a9be69,#bebc61)"></i><i style="background:linear-gradient(90deg,#fec733,#fdbe3e,#f0b94a,#e1b952,#d3bb58,#c5bc5e,#b8bd63,#abbe68,#9fbe6d,#91bf73,#83bf79,#74bf7f,#66be85,#5abd8b,#52bd8f,#4dbc92,#46bb95,#3cba9b,#30b7a2,#26b5a9,#1eb3ae,#19b2b2,#15b1b4,#12afb7,#0faeb9,#0daebb,#0cadbb,#0dadbb,#0faeb9,#14b0b6,#1ab2b1,#23b5ab,#30b7a2,#41ba98,#57bd8c,#70bf81,#88bf76,#9fbe6d,#b5bd65,#cabb5c)"></i><i style="background:linear-gradient(90deg,#ffc338,#f9bb43,#edb94c,#e0ba52,#d4bb58,#c9bc5c,#bebc61,#b4bd65,#a8be69,#9cbf6e,#90bf73,#83bf79,#76bf7e,#6bbf83,#62be87,#5bbd8a,#51bd8f,#45bb96,#36b99f,#2ab6a7,#22b4ac,#1db3af,#1ab2b1,#18b1b3,#15b0b5,#12b0b6,#11afb8,#11afb7,#13b0b6,#17b1b3,#1eb3ae,#28b6a8,#35b89f,#48bb95,#5fbe88,#79bf7d,#91bf73,#a7be6a,#bcbd62,#d1bb59)"></i><i style="background:linear-gradient(90deg,#ffc338,#fabc41,#f1b94a,#e6b950,#dbba55,#d0bb59,#c6bc5e,#bbbd62,#b0bd66,#a5be6b,#9abf6f,#8fbf74,#84bf78,#7abf7c,#71bf80,#69be84,#5ebe89,#4ebc91,#3dba9b,#2eb7a4,#25b5a9,#20b4ad,#1db3af,#1bb2b0,#18b2b2,#16b1b4,#15b1b4,#16b1b4,#19b2b2,#1db3af,#24b5aa,#2db7a4,#3bb99c,#4ebc91,#66be85,#80bf7a,#98bf70,#aebe67,#c3bc5f,#d9ba56)"></i><i style="background:linear-gradient(90deg,#ffc338,#fbbc41,#f2b949,#e8b94f,#deba53,#d5ba57,#ccbb5b,#c2bc5f,#b8bd63,#adbe68,#a2be6c,#97bf70,#8cbf75,#82bf79,#7abf7d,#72bf80,#68be84,#58bd8c,#45bb96,#35b8a0,#2ab6a6,#23b4ab,#1fb3ae,#1cb3b0,#19b2b2,#17b1b3,#16b1b3,#18b1b2,#1cb3b0,#22b4ac,#29b6a7,#34b8a0,#43bb97,#57bd8d,#70bf81,#8bbf75,#a3be6c,#babd63,#d0bb5a,#e5b950)"></i><i style="background:linear-gradient(90deg,#fdbe3e,#f6ba46,#eeb94b,#e6b950,#dfba53,#d8ba56,#d0bb59,#c8bc5d,#bdbc61,#b2bd66,#a6be6a,#9abf6f,#8ebf74,#83bf79,#7bbf7c,#76bf7e,#6ebf82,#61be88,#4fbc91,#3eba9a,#32b8a1,#2bb6a6,#27b5a8,#23b5ab,#21b4ac,#1fb3ae,#1eb3ae,#20b4ad,#24b5aa,#2ab6a6,#32b8a1,#3dba9a,#4dbc92,#62be87,#7bbf7c,#95bf71,#adbe68,#c4bc5f,#daba55,#efb94a)"></i><i style="background:linear-gradient(90deg,#fabc42,#f3ba48,#ecb94c,#e6b950,#e0ba52,#dbba55,#d4bb58,#ccbb5b,#c2bc5f,#b7bd64,#acbe68,#a0be6d,#94bf72,#8abf76,#84bf78,#81bf7a,#7bbf7c,#6fbf81,#5ebe89,#4dbc92,#41ba98,#39b99d,#34b8a0,#30b7a3,#2cb7a5,#29b6a7,#28b6a7,#2ab6a6,#2db7a4,#32b8a1,#3ab99c,#45bb96,#55bd8e,#6abe83,#83bf79,#9cbf6e,#b4bd65,#cbbb5c,#e1b952,#f7ba45)"></i><i style="background:linear-gradient(90deg,#fbbc41,#f5ba46,#efb94a,#e9b94e,#e3b951,#ddba54,#d6ba57,#cdbb5b,#c3bc5f,#b8bd63,#aebe67,#a3be6c,#98bf70,#8fbf73,#8abf76,#88bf77,#83bf79,#7abf7d,#6bbe83,#5cbe8a,#50bc90,#48bb94,#42bb98,#3cba9b,#36b99f,#31b8a2,#2db7a4,#2db7a4,#2fb7a3,#33b8a0,#3ab99c,#45bb96,#56bd8d,#6cbf82,#86bf77,#a0be6d,#b9bd63,#d1bb59,#e9b94e,#fdbe3e)"></i><i style="background:linear-gradient(90deg,#ffc436,#fec03b,#fbbc41,#f5ba47,#edb94c,#e5b950,#dcba54,#d2bb59,#c6bc5d,#babd62,#afbe67,#a4be6b,#99bf6f,#92bf73,#8dbf75,#8bbf75,#86bf78,#7cbf7c,#6cbf82,#5dbe8a,#51bc90,#49bc94,#43bb97,#3cba9b,#34b8a0,#2db7a4,#29b6a7,#28b6a8,#2ab6a6,#2fb7a3,#37b99e,#43bb97,#55bd8d,#6dbf82,#88bf77,#a3be6c,#bcbd61,#d5ba57,#eeb94b,#ffc238)"></i><i style="background:linear-gradient(90deg,#fdcb30,#fec634,#fec139,#fbbd40,#f4ba47,#ecb94d,#e2b951,#d8ba56,#cdbb5b,#c1bc60,#b5bd64,#aabe69,#9fbe6d,#97bf71,#91bf73,#8ebf74,#87bf77,#7bbf7c,#6abe84,#58bd8c,#4bbc93,#43bb97,#3dba9a,#37b99e,#30b7a3,#29b6a7,#26b5a9,#26b5a9,#29b6a7,#2fb7a3,#38b99e,#46bb96,#5abd8b,#73bf7f,#8fbf74,#aabe69,#c4bc5e,#ddba54,#f5ba46,#fec733)"></i><i style="background:linear-gradient(90deg,#fccd2e,#fec932,#ffc436,#febf3c,#f9bb43,#f2b949,#e9b94e,#dfba53,#d4bb58,#c8bc5d,#bdbd61,#b1bd66,#a6be6a,#9dbf6e,#96bf71,#90bf73,#87bf77,#79bf7d,#66be85,#54bd8e,#47bb95,#3fba99,#3ab99d,#34b8a0,#2db7a4,#27b5a9,#24b5aa,#25b5aa,#2ab6a7,#31b8a2,#3dba9b,#4dbc92,#63be87,#7ebf7b,#9abf6f,#b5bd64,#cebb5a,#e6b950,#fcbd40,#fccc2f)"></i><i style="background:linear-gradient(90deg,#fdcb30,#fec833,#ffc436,#febf3c,#fabc42,#f3b948,#eab94e,#e0ba53,#d5ba58,#c9bc5c,#bebc61,#b2bd66,#a7be6a,#9dbf6e,#94bf71,#8ebf74,#84bf78,#75bf7e,#62be87,#51bd8f,#46bb96,#3fba9a,#3ab99d,#34b8a0,#2db7a5,#26b5a9,#23b5ab,#24b5aa,#2ab6a7,#32b8a1,#3fba9a,#50bc90,#67be85,#82bf79,#9fbe6d,#babd62,#d4bb58,#ecb94d,#fec03b,#fbcf2c)"></i><i style="background:linear-gradient(90deg,#fec931,#fec733,#ffc436,#fec03b,#fabc42,#f2b949,#e8b94f,#ddba54,#d1bb59,#c4bc5e,#b8bd63,#acbe68,#a1be6c,#98bf70,#90bf73,#8bbf75,#83bf79,#76bf7e,#66be85,#56bd8d,#4cbc92,#45bb96,#41ba99,#3ab99c,#33b8a1,#2bb6a6,#28b6a8,#29b6a7,#2eb7a4,#36b99f,#42bb98,#53bd8f,#69be84,#84bf78,#a0be6d,#bcbd62,#d5ba57,#edb94c,#fec03b,#fbcf2d)"></i><i style="background:linear-gradient(90deg,#ffc338,#fec239,#fec03b,#fbbd40,#f6ba46,#edb94c,#e2b952,#d6ba57,#c9bc5c,#bcbd62,#b0bd67,#a5be6b,#9bbf6f,#94bf72,#8fbf74,#8cbf75,#85bf78,#7bbf7c,#6cbf82,#5ebe89,#54bd8e,#4ebc91,#49bc94,#43bb97,#3bb99c,#33b8a1,#2fb7a3,#30b7a3,#35b89f,#3eba9a,#4bbc93,#5bbd8b,#70bf81,#89bf76,#a5be6b,#bfbc60,#d8ba56,#eeb94b,#fec03c,#fccd2e)"></i><i style="background:linear-gradient(90deg,#f7ba45,#f8ba45,#f6ba46,#f3b948,#edb94c,#e4b950,#daba55,#cfbb5a,#c3bc5f,#b7bd64,#abbe68,#a1be6c,#98bf70,#91bf73,#8cbf75,#88bf76,#82bf79,#7abf7d,#6dbf82,#60be88,#57bd8d,#51bc90,#4cbc92,#45bb96,#3dba9b,#35b8a0,#31b8a2,#31b8a2,#37b99e,#41ba98,#4ebc91,#5fbe88,#75bf7f,#8fbf74,#abbe68,#c7bc5d,#dfba53,#f5ba47,#ffc337,#fbcf2d)"></i><i style="background:linear-gradient(90deg,#e6b950,#e9b94e,#e9b94e,#e7b94f,#e2b952,#daba55,#d1bb59,#c7bc5d,#bcbd62,#b1bd66,#a7be6a,#9ebe6d,#97bf70,#91bf73,#8bbf75,#86bf77,#7fbf7a,#76bf7e,#6abe84,#5ebe89,#55bd8e,#4fbc91,#4abc93,#44bb97,#3cba9b,#34b8a0,#31b8a2,#32b8a2,#38b99e,#41ba98,#4fbc91,#60be88,#77bf7e,#92bf72,#b0bd66,#cebb5b,#e6b950,#fabc42,#fec634,#fbd02c)"></i><i style="background:linear-gradient(90deg,#d1bb59,#d7ba57,#d9ba56,#d8ba56,#d4bb58,#cdbb5b,#c4bc5e,#bbbd62,#b0be67,#a4be6b,#9bbf6f,#94bf72,#90bf73,#8bbf75,#86bf77,#81bf7a,#79bf7d,#6fbf81,#62be87,#56bd8d,#4dbc92,#47bb95,#42bb98,#3cba9b,#36b99f,#31b8a2,#2fb7a3,#33b8a1,#3bb99c,#46bb95,#54bd8e,#65be85,#7cbf7c,#97bf71,#b5bd64,#d3bb58,#ebb94d,#fcbd3f,#fec733,#fbcf2d)"></i><i style="background:linear-gradient(90deg,#b4bd65,#bdbd61,#c2bc5f,#c4bc5f,#c2bc5f,#bcbd61,#b5bd65,#abbe68,#a0be6d,#95bf71,#8dbf74,#89bf76,#87bf77,#84bf78,#80bf7a,#79bf7d,#71bf80,#67be85,#5bbe8a,#50bc90,#47bb95,#41ba98,#3cba9b,#37b99e,#32b8a1,#2eb7a4,#2eb7a4,#33b8a0,#3dba9b,#4abc94,#58bd8c,#69be84,#80bf7a,#9cbf6e,#bcbd62,#dbba55,#f3ba48,#fec139,#fdca31,#fbcf2d)"></i><i style="background:linear-gradient(90deg,#9bbf6f,#a6be6a,#aebe67,#b1bd66,#b0bd66,#abbe69,#a2be6c,#98bf70,#8cbf75,#81bf79,#7abf7c,#78bf7d,#7abf7d,#79bf7d,#75bf7e,#6fbf81,#67be85,#5dbe8a,#51bd8f,#47bb95,#3eba9a,#39b99d,#35b8a0,#31b8a2,#2eb7a4,#2bb6a6,#2cb7a5,#31b8a2,#3bb99c,#47bb95,#57bd8d,#69be84,#81bf79,#9fbe6d,#c2bc5f,#e3b951,#fabc41,#fec734,#fcce2d,#fad12b)"></i><i style="background:linear-gradient(90deg,#7dbf7b,#8cbf75,#96bf71,#9bbf6f,#9abf6f,#95bf71,#8dbf75,#83bf79,#78bf7d,#6ebf81,#69be84,#6abe83,#6ebf81,#6fbf81,#6bbe83,#62be87,#58bd8c,#4dbc92,#42bb98,#39b99d,#33b8a1,#2eb7a4,#2cb6a5,#29b6a7,#26b5a9,#24b5aa,#25b5a9,#2bb6a6,#34b8a0,#40ba99,#50bc90,#62be87,#7dbf7b,#9ebe6e,#c3bc5f,#e6b94f,#fdbe3e,#fdca31,#fbd02c,#fad22b)"></i><i style="background:linear-gradient(90deg,#56bd8d,#68be84,#73bf7f,#79bf7d,#7abf7d,#75bf7e,#6ebf82,#66be85,#5ebe89,#57bd8d,#55bd8e,#58bd8c,#5ebe89,#5fbe89,#5abd8b,#50bc90,#45bb96,#3bb99c,#33b8a1,#2cb7a5,#28b6a8,#25b5a9,#24b5aa,#21b4ac,#1fb3ad,#1db3af,#1fb3ad,#24b5aa,#2eb7a4,#3ab99c,#4abc93,#5dbe89,#79bf7d,#9cbf6f,#c3bc5f,#e7b94f,#febf3d,#fdca31,#fbd02c,#fbd02c)"></i><i style="background:linear-gradient(90deg,#2cb7a5,#3cba9b,#49bb94,#51bc90,#54bd8e,#52bd8f,#4dbc92,#47bb95,#41ba99,#3dba9b,#3eba9a,#43bb97,#4bbc93,#4dbc92,#49bc94,#40ba99,#36b99f,#2eb7a4,#28b6a8,#23b4ab,#20b4ad,#1eb3ae,#1cb3af,#1bb2b0,#19b2b2,#17b1b3,#19b2b1,#1fb3ae,#28b6a7,#35b89f,#45bb96,#58bd8c,#75bf7f,#99bf70,#c1bc60,#e7b94f,#febf3c,#fdcb30,#fbd02c,#fbd02c)"></i><i style="background:linear-gradient(90deg,#12afb7,#1fb3ae,#2ab6a6,#32b8a1,#36b99f,#36b99f,#33b8a0,#30b7a2,#2cb7a5,#2ab6a6,#2cb7a5,#32b8a2,#3ab99c,#3fba9a,#3dba9b,#36b99f,#2eb7a4,#28b6a8,#22b4ac,#1db3af,#19b2b1,#17b1b3,#15b1b4,#14b0b5,#12b0b6,#12afb7,#15b0b5,#1bb2b0,#25b5a9,#32b8a1,#42bb98,#55bd8d,#72bf80,#97bf70,#c1bc60,#e7b94f,#febf3c,#fdcb30,#fbd02c,#fbcf2d)"></i><i style="background:linear-gradient(90deg,#06a8c4,#0badbc,#13b0b6,#19b2b2,#1db3af,#1eb3ae,#1eb3ae,#1eb3ae,#1cb3af,#1cb3b0,#1fb3ae,#25b5a9,#2fb7a3,#35b8a0,#35b89f,#30b7a3,#2ab6a7,#23b5ab,#1eb3ae,#19b2b2,#15b1b4,#13b0b6,#12afb7,#10afb8,#10afb8,#10afb8,#14b0b6,#1ab2b1,#24b5aa,#31b8a2,#41ba98,#55bd8e,#72bf80,#98bf70,#c1bc60,#e7b94f,#febf3c,#fdcb30,#fbd12b,#fbd02c)"></i><i style="background:linear-gradient(90deg,#079dcf,#06a3cb,#06a7c6,#07aac1,#09acbe,#0cadbc,#0eaeba,#0faeb9,#10afb8,#12afb7,#15b0b4,#1cb3b0,#25b5a9,#2cb7a5,#2db7a4,#29b6a7,#24b5aa,#1fb4ad,#1bb2b0,#18b1b2,#15b1b4,#14b0b5,#13b0b6,#12afb7,#11afb7,#12afb7,#14b0b5,#1ab2b1,#23b5ab,#2fb7a3,#3eba9a,#51bd90,#6ebf82,#94bf72,#bebc61,#e6b950,#febf3c,#fdcc2f,#fad22a,#fad32a)"></i><i style="background:linear-gradient(90deg,#128ad3,#0c93d2,#089ad0,#069ece,#06a2cb,#06a4c9,#06a6c6,#06a8c4,#07a9c2,#08aac0,#0aacbd,#10afb8,#18b2b2,#1fb3ae,#21b4ac,#1fb3ae,#1cb3af,#19b2b1,#17b1b3,#15b0b5,#14b0b6,#13b0b6,#13b0b6,#13b0b6,#13b0b6,#12b0b6,#14b0b5,#18b1b2,#1fb3ae,#29b6a7,#37b99e,#4abc93,#68be84,#90bf73,#bbbd62,#e3b951,#fdbe3d,#fdcb30,#fad32a,#f9d429)"></i><i style="background:linear-gradient(90deg,#1480d6,#1487d3,#118dd2,#0d93d2,#0998d1,#089bd0,#079dcf,#06a0cd,#06a1cc,#06a3ca,#06a6c7,#07a9c2,#0bacbd,#0fafb9,#12afb7,#12afb7,#11afb8,#0faeb9,#0eaeba,#0daebb,#0dadbb,#0dadbb,#0dadbb,#0dadbb,#0dadbb,#0daebb,#0faeb9,#12b0b6,#19b2b2,#22b4ab,#2fb7a3,#42bb98,#5fbe88,#89bf76,#b5bd64,#deba53,#fabc42,#fec833,#fbd02c,#fad22b)"></i><i style="background:linear-gradient(90deg,#0f78db,#137ed7,#1483d5,#1388d3,#118cd2,#0f90d2,#0d93d2,#0a96d1,#0899d1,#079cd0,#069fce,#06a3ca,#06a6c6,#07a9c3,#07aac2,#07aac2,#07a9c2,#07a9c2,#07a9c2,#07a9c2,#07a9c2,#07a9c2,#07a9c2,#07aac1,#08aac1,#08abc0,#0aacbe,#0eaeba,#14b0b5,#1db3af,#2ab6a6,#3cba9b,#58bd8c,#82bf79,#afbe67,#d9ba56,#f7ba45,#fec734,#fbd02c,#f9d429)"></i><i style="background:linear-gradient(90deg,#026ae1,#0871df,#0e76dc,#117bd9,#137fd7,#1482d5,#1484d4,#1388d3,#128bd2,#0f90d2,#0c94d2,#089ad1,#069ece,#06a1cc,#06a3cb,#06a3ca,#06a3ca,#06a4ca,#06a4ca,#06a4c9,#06a4c9,#06a5c8,#06a6c7,#06a7c6,#06a7c5,#06a8c4,#07aac1,#0aacbd,#10afb8,#1ab2b1,#27b5a8,#39b99d,#56bd8d,#80bf7a,#aebe67,#d8ba56,#f8ba44,#fdc931,#f9d528,#f6dc23)"></i></div>
<div class="cb" style="left:418.30px;top:181.00px;width:12.80px;height:74.30px;background:linear-gradient(180deg,#f9fb0e,#f5eb18,#f5de21,#f9d329,#fec932,#febf3c,#f2b949,#e3b951,#d3bb58,#c2bc5f,#b1bd66,#9fbe6d,#8bbf75,#75bf7e,#5ebe89,#47bb95,#33b8a1,#21b4ac,#13b0b6,#09abbf,#06a6c7,#069fce,#0a97d1,#118dd2,#1484d4,#127cd8,#0c74dd,#046ce0,#0462e0,#2152d3,#3243b9,#36369f,#352a87)"></div>
<svg width="550" height="310" viewBox="0 0 550 310">
<text class="ti" style="font-size:12.40px" x="8.30" y="13.90">RMS=1329.99nm PV=6977.74nm</text>
<text class="tk" text-anchor="end" x="33.50" y="37.43">20</text>
<text class="tk" text-anchor="end" x="33.50" y="61.03">60</text>
<text class="tk" text-anchor="end" x="33.50" y="84.73">100</text>
<text class="tk" text-anchor="middle" x="52.70" y="107.13">20</text>
<text class="tk" text-anchor="middle" x="86.40" y="107.13">60</text>
<text class="tk" text-anchor="middle" x="120.00" y="107.13">100</text>
<text class="lb" text-anchor="middle" x="89.50" y="120.40">X/pixel</text>
<text class="lb" text-anchor="middle" transform="translate(12.60 51.00) rotate(-90)">Y/pixel</text>
<text class="pn" text-anchor="middle" x="90.70" y="139.60">(a)</text>
<text class="tk" x="160.00" y="29.63">2000</text>
<text class="tk" x="160.00" y="50.43">0</text>
<text class="tk" x="157.70" y="71.63"><tspan class="mn">−</tspan>2000</text>
<text class="tk" x="157.70" y="92.43"><tspan class="mn">−</tspan>4000</text>
<rect class="bx" x="37.80" y="21.00" width="97.70" height="70.90"/>
<rect class="bx" x="143.70" y="21.00" width="12.20" height="71.30"/>
<path class="bx" d="M52.7 91.4v-1.0M52.7 21.5v1.0M86.4 91.4v-1.0M86.4 21.5v1.0M120.0 91.4v-1.0M120.0 21.5v1.0M38.3 33.8h1.0M135.0 33.8h-1.0M38.3 57.4h1.0M135.0 57.4h-1.0M38.3 81.1h1.0M135.0 81.1h-1.0"/>
<text class="ti" style="font-size:12.15px" x="192.70" y="13.90">RMS=1332.83nm PV=7124.55nm</text>
<text class="tk" text-anchor="end" x="219.20" y="37.23">20</text>
<text class="tk" text-anchor="end" x="219.20" y="61.63">60</text>
<text class="tk" text-anchor="end" x="219.20" y="85.73">100</text>
<text class="tk" text-anchor="middle" x="237.70" y="108.63">20</text>
<text class="tk" text-anchor="middle" x="270.00" y="108.63">60</text>
<text class="tk" text-anchor="middle" x="302.30" y="108.63">100</text>
<text class="lb" text-anchor="middle" x="268.60" y="121.40">X/pixel</text>
<text class="lb" text-anchor="middle" transform="translate(199.00 53.10) rotate(-90)">Y/pixel</text>
<text class="pn" text-anchor="middle" x="270.50" y="140.00">(b)</text>
<text class="tk" x="341.60" y="36.53">2000</text>
<text class="tk" x="341.60" y="57.83">0</text>
<text class="tk" x="339.30" y="79.23"><tspan class="mn">−</tspan>2000</text>
<text class="tk" x="339.30" y="99.63"><tspan class="mn">−</tspan>4000</text>
<rect class="bx" x="223.10" y="21.40" width="93.90" height="72.10"/>
<rect class="bx" x="325.90" y="21.40" width="11.40" height="73.60"/>
<path class="bx" d="M237.7 93.0v-1.0M237.7 21.9v1.0M270.0 93.0v-1.0M270.0 21.9v1.0M302.3 93.0v-1.0M302.3 21.9v1.0M223.6 33.6h1.0M316.5 33.6h-1.0M223.6 58.0h1.0M316.5 58.0h-1.0M223.6 82.1h1.0M316.5 82.1h-1.0"/>
<text class="ti" style="font-size:12.22px" x="372.70" y="15.60">RMS=1327.57nm PV=7081.17nm</text>
<text class="tk" text-anchor="end" x="397.80" y="39.13">20</text>
<text class="tk" text-anchor="end" x="397.80" y="63.83">60</text>
<text class="tk" text-anchor="end" x="397.80" y="88.53">100</text>
<text class="tk" text-anchor="middle" x="417.00" y="111.93">20</text>
<text class="tk" text-anchor="middle" x="450.00" y="111.93">60</text>
<text class="tk" text-anchor="middle" x="482.30" y="111.93">100</text>
<text class="lb" text-anchor="middle" x="448.50" y="124.00">X/pixel</text>
<text class="lb" text-anchor="middle" transform="translate(379.00 55.00) rotate(-90)">Y/pixel</text>
<text class="pn" text-anchor="middle" x="449.30" y="142.60">(c)</text>
<text class="tk" x="521.50" y="29.73">2000</text>
<text class="tk" x="521.50" y="50.43">0</text>
<text class="tk" x="519.20" y="71.63"><tspan class="mn">−</tspan>2000</text>
<text class="tk" x="519.20" y="92.93"><tspan class="mn">−</tspan>4000</text>
<rect class="bx" x="401.70" y="23.30" width="96.00" height="73.50"/>
<rect class="bx" x="506.30" y="23.30" width="11.00" height="74.20"/>
<path class="bx" d="M417.0 96.3v-1.0M417.0 23.8v1.0M450.0 96.3v-1.0M450.0 23.8v1.0M482.3 96.3v-1.0M482.3 23.8v1.0M402.2 35.5h1.0M497.2 35.5h-1.0M402.2 60.2h1.0M497.2 60.2h-1.0M402.2 84.9h1.0M497.2 84.9h-1.0"/>
<text class="ti" style="font-size:12.34px" x="101.60" y="173.80">RMS=100.73nm PV=632.60nm</text>
<text class="tk" text-anchor="end" x="129.20" y="197.13">20</text>
<text class="tk" text-anchor="end" x="129.20" y="221.63">60</text>
<text class="tk" text-anchor="end" x="129.20" y="245.73">100</text>
<text class="tk" text-anchor="middle" x="148.50" y="268.83">20</text>
<text class="tk" text-anchor="middle" x="180.70" y="268.83">60</text>
<text class="tk" text-anchor="middle" x="212.80" y="268.83">100</text>
<text class="lb" text-anchor="middle" x="183.20" y="281.70">X/pixel</text>
<text class="lb" text-anchor="middle" transform="translate(110.50 213.00) rotate(-90)">Y/pixel</text>
<text class="pn" text-anchor="middle" x="183.80" y="301.80">(d)</text>
<text class="tk" x="252.80" y="204.13">400</text>
<text class="tk" x="252.80" y="228.43">200</text>
<text class="tk" x="252.80" y="250.63">0</text>
<rect class="bx" x="133.30" y="181.20" width="95.20" height="72.60"/>
<rect class="bx" x="237.20" y="181.20" width="11.20" height="72.60"/>
<path class="bx" d="M148.5 253.3v-1.0M148.5 181.7v1.0M180.7 253.3v-1.0M180.7 181.7v1.0M212.8 253.3v-1.0M212.8 181.7v1.0M133.8 193.5h1.0M228.0 193.5h-1.0M133.8 218.0h1.0M228.0 218.0h-1.0M133.8 242.1h1.0M228.0 242.1h-1.0"/>
<text class="ti" style="font-size:12.45px" x="285.30" y="174.40">RMS=97.32nm PV=637.85nm</text>
<text class="tk" text-anchor="end" x="310.30" y="197.93">20</text>
<text class="tk" text-anchor="end" x="310.30" y="222.43">60</text>
<text class="tk" text-anchor="end" x="310.30" y="247.13">100</text>
<text class="tk" text-anchor="middle" x="329.60" y="270.33">20</text>
<text class="tk" text-anchor="middle" x="362.40" y="270.33">60</text>
<text class="tk" text-anchor="middle" x="394.30" y="270.33">100</text>
<text class="lb" text-anchor="middle" x="364.60" y="283.20">X/pixel</text>
<text class="lb" text-anchor="middle" transform="translate(290.50 213.00) rotate(-90)">Y/pixel</text>
<text class="pn" text-anchor="middle" x="365.70" y="301.80">(e)</text>
<text class="tk" x="435.20" y="191.13">600</text>
<text class="tk" x="435.20" y="214.73">400</text>
<text class="tk" x="435.20" y="238.63">200</text>
<rect class="bx" x="314.10" y="181.80" width="96.10" height="73.00"/>
<rect class="bx" x="418.80" y="181.50" width="11.80" height="73.30"/>
<path class="bx" d="M329.6 254.3v-1.0M329.6 182.3v1.0M362.4 254.3v-1.0M362.4 182.3v1.0M394.3 254.3v-1.0M394.3 182.3v1.0M314.6 194.3h1.0M409.7 194.3h-1.0M314.6 218.8h1.0M409.7 218.8h-1.0M314.6 243.5h1.0M409.7 243.5h-1.0"/>
</svg></div></body></html>
